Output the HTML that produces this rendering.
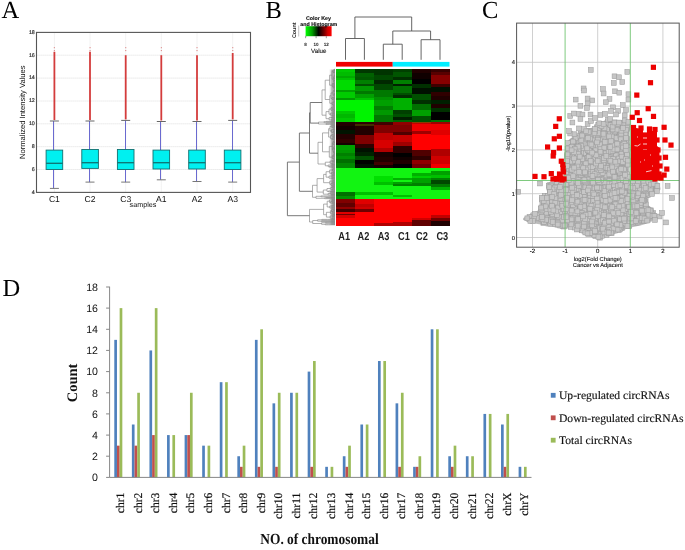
<!DOCTYPE html>
<html><head><meta charset="utf-8"><style>
html,body{margin:0;padding:0;background:#fff;width:685px;height:550px;overflow:hidden}
svg{display:block;filter:blur(0.35px)}
</style></head><body>
<svg width="685" height="550" viewBox="0 0 685 550" text-rendering="geometricPrecision">
<rect width="685" height="550" fill="#fff"/>
<text x="1.5" y="17.5" font-family='"Liberation Serif", serif' font-size="24.5">A</text>
<text x="265.5" y="17.8" font-family='"Liberation Serif", serif' font-size="24.5">B</text>
<text x="482" y="17.8" font-family='"Liberation Serif", serif' font-size="24.5">C</text>
<text x="2.5" y="295.5" font-family='"Liberation Serif", serif' font-size="24.5">D</text>
<line x1="36.5" x2="250.5" y1="169.5" y2="169.5" stroke="#dcdcdc" stroke-width="0.8" stroke-dasharray="1.2,0.8"/>
<line x1="36.5" x2="250.5" y1="146.7" y2="146.7" stroke="#dcdcdc" stroke-width="0.8" stroke-dasharray="1.2,0.8"/>
<line x1="36.5" x2="250.5" y1="123.8" y2="123.8" stroke="#dcdcdc" stroke-width="0.8" stroke-dasharray="1.2,0.8"/>
<line x1="36.5" x2="250.5" y1="101.0" y2="101.0" stroke="#dcdcdc" stroke-width="0.8" stroke-dasharray="1.2,0.8"/>
<line x1="36.5" x2="250.5" y1="78.1" y2="78.1" stroke="#dcdcdc" stroke-width="0.8" stroke-dasharray="1.2,0.8"/>
<line x1="36.5" x2="250.5" y1="55.2" y2="55.2" stroke="#dcdcdc" stroke-width="0.8" stroke-dasharray="1.2,0.8"/>
<line x1="54.4" x2="54.4" y1="32.4" y2="192.4" stroke="#e4e4e4" stroke-width="0.8" stroke-dasharray="1.2,0.8"/>
<line x1="90.0" x2="90.0" y1="32.4" y2="192.4" stroke="#e4e4e4" stroke-width="0.8" stroke-dasharray="1.2,0.8"/>
<line x1="125.7" x2="125.7" y1="32.4" y2="192.4" stroke="#e4e4e4" stroke-width="0.8" stroke-dasharray="1.2,0.8"/>
<line x1="161.3" x2="161.3" y1="32.4" y2="192.4" stroke="#e4e4e4" stroke-width="0.8" stroke-dasharray="1.2,0.8"/>
<line x1="197.0" x2="197.0" y1="32.4" y2="192.4" stroke="#e4e4e4" stroke-width="0.8" stroke-dasharray="1.2,0.8"/>
<line x1="232.7" x2="232.7" y1="32.4" y2="192.4" stroke="#e4e4e4" stroke-width="0.8" stroke-dasharray="1.2,0.8"/>
<line x1="53.5" x2="53.5" y1="121.0" y2="150.1" stroke="#6a6ad0" stroke-width="1"/>
<line x1="53.5" x2="53.5" y1="169.5" y2="188.4" stroke="#6a6ad0" stroke-width="1"/>
<line x1="49.9" x2="58.9" y1="121.0" y2="121.0" stroke="#666" stroke-width="1"/>
<line x1="49.9" x2="58.9" y1="188.4" y2="188.4" stroke="#777" stroke-width="1"/>
<rect x="46.1" y="150.1" width="16.6" height="19.4" fill="#00f0f0" stroke="#127070" stroke-width="0.9"/>
<line x1="46.1" x2="62.7" y1="163.3" y2="163.3" stroke="#0e7070" stroke-width="1.3"/>
<line x1="54.4" x2="54.4" y1="51.8" y2="120.0" stroke="#d43c3c" stroke-width="1.8"/>
<rect x="53.8" y="50.1" width="1.2" height="1" fill="#d88"/>
<rect x="53.8" y="47.2" width="1.2" height="1" fill="#d88"/>
<line x1="89.5" x2="89.5" y1="121.0" y2="149.5" stroke="#6a6ad0" stroke-width="1"/>
<line x1="89.5" x2="89.5" y1="168.4" y2="182.1" stroke="#6a6ad0" stroke-width="1"/>
<line x1="85.5" x2="94.5" y1="121.0" y2="121.0" stroke="#666" stroke-width="1"/>
<line x1="85.5" x2="94.5" y1="182.1" y2="182.1" stroke="#777" stroke-width="1"/>
<rect x="81.8" y="149.5" width="16.6" height="18.9" fill="#00f0f0" stroke="#127070" stroke-width="0.9"/>
<line x1="81.8" x2="98.3" y1="162.7" y2="162.7" stroke="#0e7070" stroke-width="1.3"/>
<line x1="90.0" x2="90.0" y1="51.8" y2="120.0" stroke="#d43c3c" stroke-width="1.8"/>
<rect x="89.5" y="50.1" width="1.2" height="1" fill="#d88"/>
<rect x="89.5" y="47.2" width="1.2" height="1" fill="#d88"/>
<line x1="125.5" x2="125.5" y1="120.4" y2="149.5" stroke="#6a6ad0" stroke-width="1"/>
<line x1="125.5" x2="125.5" y1="169.5" y2="182.1" stroke="#6a6ad0" stroke-width="1"/>
<line x1="121.2" x2="130.2" y1="120.4" y2="120.4" stroke="#666" stroke-width="1"/>
<line x1="121.2" x2="130.2" y1="182.1" y2="182.1" stroke="#777" stroke-width="1"/>
<rect x="117.4" y="149.5" width="16.6" height="20.0" fill="#00f0f0" stroke="#127070" stroke-width="0.9"/>
<line x1="117.4" x2="134.0" y1="162.7" y2="162.7" stroke="#0e7070" stroke-width="1.3"/>
<line x1="125.7" x2="125.7" y1="55.2" y2="119.4" stroke="#d43c3c" stroke-width="1.8"/>
<rect x="125.1" y="50.1" width="1.2" height="1" fill="#d88"/>
<rect x="125.1" y="47.2" width="1.2" height="1" fill="#d88"/>
<line x1="160.5" x2="160.5" y1="121.5" y2="150.1" stroke="#6a6ad0" stroke-width="1"/>
<line x1="160.5" x2="160.5" y1="169.0" y2="179.8" stroke="#6a6ad0" stroke-width="1"/>
<line x1="156.8" x2="165.8" y1="121.5" y2="121.5" stroke="#666" stroke-width="1"/>
<line x1="156.8" x2="165.8" y1="179.8" y2="179.8" stroke="#777" stroke-width="1"/>
<rect x="153.0" y="150.1" width="16.6" height="18.9" fill="#00f0f0" stroke="#127070" stroke-width="0.9"/>
<line x1="153.0" x2="169.7" y1="162.7" y2="162.7" stroke="#0e7070" stroke-width="1.3"/>
<line x1="161.3" x2="161.3" y1="55.2" y2="120.5" stroke="#d43c3c" stroke-width="1.8"/>
<rect x="160.8" y="50.1" width="1.2" height="1" fill="#d88"/>
<rect x="160.8" y="47.2" width="1.2" height="1" fill="#d88"/>
<line x1="196.5" x2="196.5" y1="121.5" y2="150.1" stroke="#6a6ad0" stroke-width="1"/>
<line x1="196.5" x2="196.5" y1="169.0" y2="181.5" stroke="#6a6ad0" stroke-width="1"/>
<line x1="192.5" x2="201.5" y1="121.5" y2="121.5" stroke="#666" stroke-width="1"/>
<line x1="192.5" x2="201.5" y1="181.5" y2="181.5" stroke="#777" stroke-width="1"/>
<rect x="188.7" y="150.1" width="16.6" height="18.9" fill="#00f0f0" stroke="#127070" stroke-width="0.9"/>
<line x1="188.7" x2="205.3" y1="162.7" y2="162.7" stroke="#0e7070" stroke-width="1.3"/>
<line x1="197.0" x2="197.0" y1="55.2" y2="120.5" stroke="#d43c3c" stroke-width="1.8"/>
<rect x="196.4" y="50.1" width="1.2" height="1" fill="#d88"/>
<rect x="196.4" y="47.2" width="1.2" height="1" fill="#d88"/>
<line x1="232.5" x2="232.5" y1="120.4" y2="150.1" stroke="#6a6ad0" stroke-width="1"/>
<line x1="232.5" x2="232.5" y1="169.5" y2="182.1" stroke="#6a6ad0" stroke-width="1"/>
<line x1="228.2" x2="237.2" y1="120.4" y2="120.4" stroke="#666" stroke-width="1"/>
<line x1="228.2" x2="237.2" y1="182.1" y2="182.1" stroke="#777" stroke-width="1"/>
<rect x="224.3" y="150.1" width="16.6" height="19.4" fill="#00f0f0" stroke="#127070" stroke-width="0.9"/>
<line x1="224.3" x2="241.0" y1="162.7" y2="162.7" stroke="#0e7070" stroke-width="1.3"/>
<line x1="232.7" x2="232.7" y1="53.0" y2="119.4" stroke="#d43c3c" stroke-width="1.8"/>
<rect x="232.1" y="50.1" width="1.2" height="1" fill="#d88"/>
<rect x="232.1" y="47.2" width="1.2" height="1" fill="#d88"/>
<rect x="36.5" y="32.4" width="214.0" height="160.0" fill="none" stroke="#555" stroke-width="1.1"/>
<text x="34.8" y="193.7" font-family='"Liberation Sans", sans-serif' font-size="5.3" text-anchor="end" fill="#333" stroke="#333" stroke-width="0.2">4</text>
<text x="34.8" y="170.8" font-family='"Liberation Sans", sans-serif' font-size="5.3" text-anchor="end" fill="#333" stroke="#333" stroke-width="0.2">6</text>
<text x="34.8" y="148.0" font-family='"Liberation Sans", sans-serif' font-size="5.3" text-anchor="end" fill="#333" stroke="#333" stroke-width="0.2">8</text>
<text x="34.8" y="125.1" font-family='"Liberation Sans", sans-serif' font-size="5.3" text-anchor="end" fill="#333" stroke="#333" stroke-width="0.2">10</text>
<text x="34.8" y="102.3" font-family='"Liberation Sans", sans-serif' font-size="5.3" text-anchor="end" fill="#333" stroke="#333" stroke-width="0.2">12</text>
<text x="34.8" y="79.4" font-family='"Liberation Sans", sans-serif' font-size="5.3" text-anchor="end" fill="#333" stroke="#333" stroke-width="0.2">14</text>
<text x="34.8" y="56.5" font-family='"Liberation Sans", sans-serif' font-size="5.3" text-anchor="end" fill="#333" stroke="#333" stroke-width="0.2">16</text>
<text x="34.8" y="33.7" font-family='"Liberation Sans", sans-serif' font-size="5.3" text-anchor="end" fill="#333" stroke="#333" stroke-width="0.2">18</text>
<text x="54.4" y="202" font-family='"Liberation Sans", sans-serif' font-size="8.6" text-anchor="middle" fill="#111">C1</text>
<text x="90.0" y="202" font-family='"Liberation Sans", sans-serif' font-size="8.6" text-anchor="middle" fill="#111">C2</text>
<text x="125.7" y="202" font-family='"Liberation Sans", sans-serif' font-size="8.6" text-anchor="middle" fill="#111">C3</text>
<text x="161.3" y="202" font-family='"Liberation Sans", sans-serif' font-size="8.6" text-anchor="middle" fill="#111">A1</text>
<text x="197.0" y="202" font-family='"Liberation Sans", sans-serif' font-size="8.6" text-anchor="middle" fill="#111">A2</text>
<text x="232.7" y="202" font-family='"Liberation Sans", sans-serif' font-size="8.6" text-anchor="middle" fill="#111">A3</text>
<text x="143" y="207.3" font-family='"Liberation Sans", sans-serif' font-size="7.2" text-anchor="middle" fill="#111">samples</text>
<text transform="translate(24.8,112.2) rotate(-90)" font-family='"Liberation Sans", sans-serif' font-size="7.6" text-anchor="middle" fill="#111">Normalized Intensity Values</text>
<g shape-rendering="crispEdges">
<rect x="336.00" y="69" width="19.22" height="3.30" fill="#00c800"/>
<rect x="336.00" y="72" width="19.22" height="4.30" fill="#00bc00"/>
<rect x="336.00" y="76" width="19.22" height="2.30" fill="#00a800"/>
<rect x="336.00" y="78" width="19.22" height="2.30" fill="#00c000"/>
<rect x="336.00" y="80" width="19.22" height="10.30" fill="#00dc00"/>
<rect x="336.00" y="90" width="19.22" height="2.30" fill="#00a000"/>
<rect x="336.00" y="92" width="19.22" height="6.30" fill="#00cc00"/>
<rect x="336.00" y="98" width="19.22" height="2.30" fill="#009800"/>
<rect x="336.00" y="100" width="19.22" height="11.30" fill="#00f400"/>
<rect x="336.00" y="111" width="19.22" height="3.30" fill="#00c800"/>
<rect x="336.00" y="114" width="19.22" height="4.30" fill="#00b800"/>
<rect x="336.00" y="118" width="19.22" height="4.30" fill="#00c800"/>
<rect x="336.00" y="122" width="19.22" height="4.30" fill="#220000"/>
<rect x="336.00" y="126" width="19.22" height="4.30" fill="#120000"/>
<rect x="336.00" y="130" width="19.22" height="4.30" fill="#001400"/>
<rect x="336.00" y="134" width="19.22" height="5.30" fill="#240000"/>
<rect x="336.00" y="139" width="19.22" height="4.30" fill="#300000"/>
<rect x="336.00" y="143" width="19.22" height="2.30" fill="#140000"/>
<rect x="336.00" y="145" width="19.22" height="5.30" fill="#00a000"/>
<rect x="336.00" y="150" width="19.22" height="3.30" fill="#009800"/>
<rect x="336.00" y="153" width="19.22" height="3.30" fill="#008000"/>
<rect x="336.00" y="156" width="19.22" height="3.30" fill="#009000"/>
<rect x="336.00" y="159" width="19.22" height="4.30" fill="#007000"/>
<rect x="336.00" y="163" width="19.22" height="5.30" fill="#008800"/>
<rect x="336.00" y="168" width="19.22" height="24.30" fill="#12f412"/>
<rect x="336.00" y="192" width="19.22" height="4.30" fill="#007000"/>
<rect x="336.00" y="196" width="19.22" height="3.30" fill="#009000"/>
<rect x="336.00" y="199" width="19.22" height="4.30" fill="#800000"/>
<rect x="336.00" y="203" width="19.22" height="4.30" fill="#600000"/>
<rect x="336.00" y="207" width="19.22" height="2.30" fill="#900000"/>
<rect x="336.00" y="209" width="19.22" height="3.30" fill="#400000"/>
<rect x="336.00" y="212" width="19.22" height="2.30" fill="#e00000"/>
<rect x="336.00" y="214" width="19.22" height="1.30" fill="#700000"/>
<rect x="336.00" y="215" width="19.22" height="3.30" fill="#d80000"/>
<rect x="336.00" y="218" width="19.22" height="7.60" fill="#ff0000"/>
<rect x="354.92" y="69" width="19.22" height="4.30" fill="#003800"/>
<rect x="354.92" y="73" width="19.22" height="4.30" fill="#006000"/>
<rect x="354.92" y="77" width="19.22" height="3.30" fill="#005800"/>
<rect x="354.92" y="80" width="19.22" height="4.30" fill="#008000"/>
<rect x="354.92" y="84" width="19.22" height="2.30" fill="#005000"/>
<rect x="354.92" y="86" width="19.22" height="5.30" fill="#009800"/>
<rect x="354.92" y="91" width="19.22" height="3.30" fill="#007800"/>
<rect x="354.92" y="94" width="19.22" height="4.30" fill="#00a000"/>
<rect x="354.92" y="98" width="19.22" height="2.30" fill="#00c000"/>
<rect x="354.92" y="100" width="19.22" height="22.30" fill="#00f400"/>
<rect x="354.92" y="122" width="19.22" height="2.30" fill="#300000"/>
<rect x="354.92" y="124" width="19.22" height="2.30" fill="#403000"/>
<rect x="354.92" y="126" width="19.22" height="9.30" fill="#220000"/>
<rect x="354.92" y="135" width="19.22" height="9.30" fill="#800000"/>
<rect x="354.92" y="144" width="19.22" height="4.30" fill="#300000"/>
<rect x="354.92" y="148" width="19.22" height="4.30" fill="#001200"/>
<rect x="354.92" y="152" width="19.22" height="4.30" fill="#002200"/>
<rect x="354.92" y="156" width="19.22" height="4.30" fill="#005000"/>
<rect x="354.92" y="160" width="19.22" height="4.30" fill="#000000"/>
<rect x="354.92" y="164" width="19.22" height="4.30" fill="#001200"/>
<rect x="354.92" y="168" width="19.22" height="24.30" fill="#12f412"/>
<rect x="354.92" y="192" width="19.22" height="3.30" fill="#00c000"/>
<rect x="354.92" y="195" width="19.22" height="4.30" fill="#12f412"/>
<rect x="354.92" y="199" width="19.22" height="5.30" fill="#e00000"/>
<rect x="354.92" y="204" width="19.22" height="3.30" fill="#c00000"/>
<rect x="354.92" y="207" width="19.22" height="2.30" fill="#d00000"/>
<rect x="354.92" y="209" width="19.22" height="3.30" fill="#700000"/>
<rect x="354.92" y="212" width="19.22" height="13.60" fill="#ff0000"/>
<rect x="373.83" y="69" width="19.22" height="6.30" fill="#003400"/>
<rect x="373.83" y="75" width="19.22" height="5.30" fill="#004800"/>
<rect x="373.83" y="80" width="19.22" height="4.30" fill="#002800"/>
<rect x="373.83" y="84" width="19.22" height="6.30" fill="#004800"/>
<rect x="373.83" y="90" width="19.22" height="7.30" fill="#007800"/>
<rect x="373.83" y="97" width="19.22" height="3.30" fill="#009000"/>
<rect x="373.83" y="100" width="19.22" height="6.30" fill="#00a000"/>
<rect x="373.83" y="106" width="19.22" height="4.30" fill="#008000"/>
<rect x="373.83" y="110" width="19.22" height="5.30" fill="#009800"/>
<rect x="373.83" y="115" width="19.22" height="7.30" fill="#007800"/>
<rect x="373.83" y="122" width="19.22" height="3.30" fill="#400000"/>
<rect x="373.83" y="125" width="19.22" height="8.30" fill="#800000"/>
<rect x="373.83" y="133" width="19.22" height="7.30" fill="#c00000"/>
<rect x="373.83" y="140" width="19.22" height="8.30" fill="#d80000"/>
<rect x="373.83" y="148" width="19.22" height="4.30" fill="#b00000"/>
<rect x="373.83" y="152" width="19.22" height="5.30" fill="#180000"/>
<rect x="373.83" y="157" width="19.22" height="5.30" fill="#220000"/>
<rect x="373.83" y="162" width="19.22" height="3.30" fill="#400000"/>
<rect x="373.83" y="165" width="19.22" height="3.30" fill="#140000"/>
<rect x="373.83" y="168" width="19.22" height="8.30" fill="#12f412"/>
<rect x="373.83" y="176" width="19.22" height="6.30" fill="#00e000"/>
<rect x="373.83" y="182" width="19.22" height="3.30" fill="#00c000"/>
<rect x="373.83" y="185" width="19.22" height="7.30" fill="#12f412"/>
<rect x="373.83" y="192" width="19.22" height="3.30" fill="#00c000"/>
<rect x="373.83" y="195" width="19.22" height="4.30" fill="#12f412"/>
<rect x="373.83" y="199" width="19.22" height="24.30" fill="#ff0000"/>
<rect x="373.83" y="223" width="19.22" height="2.60" fill="#b00000"/>
<rect x="392.75" y="69" width="19.22" height="3.30" fill="#004000"/>
<rect x="392.75" y="72" width="19.22" height="5.30" fill="#005500"/>
<rect x="392.75" y="77" width="19.22" height="3.30" fill="#003000"/>
<rect x="392.75" y="80" width="19.22" height="4.30" fill="#008000"/>
<rect x="392.75" y="84" width="19.22" height="2.30" fill="#002000"/>
<rect x="392.75" y="86" width="19.22" height="7.30" fill="#007000"/>
<rect x="392.75" y="93" width="19.22" height="2.30" fill="#005000"/>
<rect x="392.75" y="95" width="19.22" height="3.30" fill="#003000"/>
<rect x="392.75" y="98" width="19.22" height="12.30" fill="#00b000"/>
<rect x="392.75" y="110" width="19.22" height="4.30" fill="#004000"/>
<rect x="392.75" y="114" width="19.22" height="3.30" fill="#005000"/>
<rect x="392.75" y="117" width="19.22" height="3.30" fill="#002000"/>
<rect x="392.75" y="120" width="19.22" height="2.30" fill="#006000"/>
<rect x="392.75" y="122" width="19.22" height="3.30" fill="#900000"/>
<rect x="392.75" y="125" width="19.22" height="7.30" fill="#800000"/>
<rect x="392.75" y="132" width="19.22" height="3.30" fill="#500000"/>
<rect x="392.75" y="135" width="19.22" height="7.30" fill="#c80000"/>
<rect x="392.75" y="142" width="19.22" height="4.30" fill="#a00000"/>
<rect x="392.75" y="146" width="19.22" height="3.30" fill="#300000"/>
<rect x="392.75" y="149" width="19.22" height="4.30" fill="#300000"/>
<rect x="392.75" y="153" width="19.22" height="4.30" fill="#000000"/>
<rect x="392.75" y="157" width="19.22" height="3.30" fill="#100000"/>
<rect x="392.75" y="160" width="19.22" height="4.30" fill="#200000"/>
<rect x="392.75" y="164" width="19.22" height="4.30" fill="#000000"/>
<rect x="392.75" y="168" width="19.22" height="10.30" fill="#12f412"/>
<rect x="392.75" y="178" width="19.22" height="2.30" fill="#00b000"/>
<rect x="392.75" y="180" width="19.22" height="2.30" fill="#12f412"/>
<rect x="392.75" y="182" width="19.22" height="2.30" fill="#00a000"/>
<rect x="392.75" y="184" width="19.22" height="2.30" fill="#008000"/>
<rect x="392.75" y="186" width="19.22" height="9.30" fill="#12f412"/>
<rect x="392.75" y="195" width="19.22" height="2.30" fill="#00c000"/>
<rect x="392.75" y="197" width="19.22" height="2.30" fill="#12f412"/>
<rect x="392.75" y="199" width="19.22" height="23.30" fill="#ff0000"/>
<rect x="392.75" y="222" width="19.22" height="3.60" fill="#b00000"/>
<rect x="411.67" y="69" width="19.22" height="4.30" fill="#200000"/>
<rect x="411.67" y="73" width="19.22" height="6.30" fill="#100000"/>
<rect x="411.67" y="79" width="19.22" height="5.30" fill="#000000"/>
<rect x="411.67" y="84" width="19.22" height="4.30" fill="#003000"/>
<rect x="411.67" y="88" width="19.22" height="6.30" fill="#001000"/>
<rect x="411.67" y="94" width="19.22" height="6.30" fill="#005000"/>
<rect x="411.67" y="100" width="19.22" height="4.30" fill="#003000"/>
<rect x="411.67" y="104" width="19.22" height="6.30" fill="#007000"/>
<rect x="411.67" y="110" width="19.22" height="6.30" fill="#00a000"/>
<rect x="411.67" y="116" width="19.22" height="6.30" fill="#005000"/>
<rect x="411.67" y="122" width="19.22" height="1.30" fill="#903800"/>
<rect x="411.67" y="123" width="19.22" height="1.30" fill="#c00000"/>
<rect x="411.67" y="124" width="19.22" height="7.30" fill="#f00000"/>
<rect x="411.67" y="131" width="19.22" height="3.30" fill="#a00000"/>
<rect x="411.67" y="134" width="19.22" height="16.30" fill="#ff0000"/>
<rect x="411.67" y="150" width="19.22" height="6.30" fill="#500000"/>
<rect x="411.67" y="156" width="19.22" height="4.30" fill="#300000"/>
<rect x="411.67" y="160" width="19.22" height="4.30" fill="#900000"/>
<rect x="411.67" y="164" width="19.22" height="4.30" fill="#700000"/>
<rect x="411.67" y="168" width="19.22" height="5.30" fill="#12f412"/>
<rect x="411.67" y="173" width="19.22" height="3.30" fill="#00b000"/>
<rect x="411.67" y="176" width="19.22" height="2.30" fill="#00d000"/>
<rect x="411.67" y="178" width="19.22" height="5.30" fill="#00a000"/>
<rect x="411.67" y="183" width="19.22" height="3.30" fill="#008000"/>
<rect x="411.67" y="186" width="19.22" height="13.30" fill="#12f412"/>
<rect x="411.67" y="199" width="19.22" height="19.30" fill="#ff0000"/>
<rect x="411.67" y="218" width="19.22" height="2.30" fill="#d00000"/>
<rect x="411.67" y="220" width="19.22" height="5.60" fill="#600000"/>
<rect x="430.58" y="69" width="19.22" height="3.30" fill="#380000"/>
<rect x="430.58" y="72" width="19.22" height="3.30" fill="#580000"/>
<rect x="430.58" y="75" width="19.22" height="9.30" fill="#880000"/>
<rect x="430.58" y="84" width="19.22" height="3.30" fill="#400000"/>
<rect x="430.58" y="87" width="19.22" height="5.30" fill="#001000"/>
<rect x="430.58" y="92" width="19.22" height="4.30" fill="#300000"/>
<rect x="430.58" y="96" width="19.22" height="4.30" fill="#200000"/>
<rect x="430.58" y="100" width="19.22" height="4.30" fill="#002000"/>
<rect x="430.58" y="104" width="19.22" height="4.30" fill="#200000"/>
<rect x="430.58" y="108" width="19.22" height="4.30" fill="#003000"/>
<rect x="430.58" y="112" width="19.22" height="8.30" fill="#000000"/>
<rect x="430.58" y="120" width="19.22" height="2.30" fill="#007000"/>
<rect x="430.58" y="122" width="19.22" height="2.30" fill="#a00000"/>
<rect x="430.58" y="124" width="19.22" height="6.30" fill="#f00000"/>
<rect x="430.58" y="130" width="19.22" height="5.30" fill="#e00000"/>
<rect x="430.58" y="135" width="19.22" height="14.30" fill="#ff0000"/>
<rect x="430.58" y="149" width="19.22" height="7.30" fill="#b00000"/>
<rect x="430.58" y="156" width="19.22" height="8.30" fill="#d00000"/>
<rect x="430.58" y="164" width="19.22" height="4.30" fill="#f00000"/>
<rect x="430.58" y="168" width="19.22" height="3.30" fill="#12f412"/>
<rect x="430.58" y="171" width="19.22" height="4.30" fill="#00a000"/>
<rect x="430.58" y="175" width="19.22" height="3.30" fill="#00c000"/>
<rect x="430.58" y="178" width="19.22" height="2.30" fill="#008000"/>
<rect x="430.58" y="180" width="19.22" height="4.30" fill="#004800"/>
<rect x="430.58" y="184" width="19.22" height="3.30" fill="#007800"/>
<rect x="430.58" y="187" width="19.22" height="3.30" fill="#00b000"/>
<rect x="430.58" y="190" width="19.22" height="9.30" fill="#12f412"/>
<rect x="430.58" y="199" width="19.22" height="16.30" fill="#ff0000"/>
<rect x="430.58" y="215" width="19.22" height="3.30" fill="#c00000"/>
<rect x="430.58" y="218" width="19.22" height="3.30" fill="#700000"/>
<rect x="430.58" y="221" width="19.22" height="4.60" fill="#200000"/>
</g>
<rect x="336.0" y="61.9" width="56.75" height="4.7" fill="#f00000"/>
<rect x="392.75" y="61.9" width="56.75" height="4.7" fill="#00eeff"/>
<text transform="translate(344.2,240.1) scale(0.8,1)" font-family='"Liberation Sans", sans-serif' font-size="11.5" font-weight="bold" text-anchor="middle" fill="#222">A1</text>
<text transform="translate(363.4,240.1) scale(0.8,1)" font-family='"Liberation Sans", sans-serif' font-size="11.5" font-weight="bold" text-anchor="middle" fill="#222">A2</text>
<text transform="translate(383.6,240.1) scale(0.8,1)" font-family='"Liberation Sans", sans-serif' font-size="11.5" font-weight="bold" text-anchor="middle" fill="#222">A3</text>
<text transform="translate(403.9,240.1) scale(0.8,1)" font-family='"Liberation Sans", sans-serif' font-size="11.5" font-weight="bold" text-anchor="middle" fill="#222">C1</text>
<text transform="translate(421.9,240.1) scale(0.8,1)" font-family='"Liberation Sans", sans-serif' font-size="11.5" font-weight="bold" text-anchor="middle" fill="#222">C2</text>
<text transform="translate(442.3,240.1) scale(0.8,1)" font-family='"Liberation Sans", sans-serif' font-size="11.5" font-weight="bold" text-anchor="middle" fill="#222">C3</text>
<path d="M345.5,59.8V38.5H364.4V59.8" stroke="#555" stroke-width="0.9" fill="none"/>
<path d="M383.3,59.8V44.2H402.2V59.8" stroke="#555" stroke-width="0.9" fill="none"/>
<path d="M421.1,59.8V39.7H440.0V59.8" stroke="#555" stroke-width="0.9" fill="none"/>
<path d="M392.8,44.2V31.0H430.6V39.7" stroke="#555" stroke-width="0.9" fill="none"/>
<path d="M354.9,38.5V17.0H411.7V31.0" stroke="#555" stroke-width="0.9" fill="none"/>
<defs><linearGradient id="ck" x1="0" x2="1" y1="0" y2="0"><stop offset="0" stop-color="#00ff00"/><stop offset="0.25" stop-color="#00a000"/><stop offset="0.5" stop-color="#000000"/><stop offset="0.72" stop-color="#7a0000"/><stop offset="0.85" stop-color="#d00000"/><stop offset="1" stop-color="#ff0000"/></linearGradient></defs>
<rect x="305.6" y="26.2" width="26" height="10" fill="url(#ck)"/>
<path d="M305.6,26.2 h1 M305.6,36.2h1" stroke="#888" stroke-width="0.5"/>
<line x1="305.6" x2="305.6" y1="36.2" y2="38.2" stroke="#333" stroke-width="0.5"/>
<line x1="316.1" x2="316.1" y1="36.2" y2="38.2" stroke="#333" stroke-width="0.5"/>
<line x1="326.3" x2="326.3" y1="36.2" y2="38.2" stroke="#333" stroke-width="0.5"/>
<text x="318.4" y="20" font-family='"Liberation Sans", sans-serif' font-size="5.3" font-weight="bold" text-anchor="middle" fill="#111" stroke="#111" stroke-width="0.12">Color Key</text>
<text x="318.8" y="26.2" font-family='"Liberation Sans", sans-serif' font-size="5.3" font-weight="bold" text-anchor="middle" fill="#111" stroke="#111" stroke-width="0.12">and Histogram</text>
<text x="305.6" y="45.5" font-family='"Liberation Sans", sans-serif' font-size="4.6" font-weight="bold" text-anchor="middle" fill="#222">8</text>
<text x="316.1" y="45.5" font-family='"Liberation Sans", sans-serif' font-size="4.6" font-weight="bold" text-anchor="middle" fill="#222">10</text>
<text x="326.3" y="45.5" font-family='"Liberation Sans", sans-serif' font-size="4.6" font-weight="bold" text-anchor="middle" fill="#222">12</text>
<text x="318.8" y="53.2" font-family='"Liberation Sans", sans-serif' font-size="6.2" text-anchor="middle" fill="#111" stroke="#111" stroke-width="0.1">Value</text>
<text transform="translate(296.3,30.3) rotate(-90)" font-family='"Liberation Sans", sans-serif' font-size="5.4" font-weight="bold" text-anchor="middle" fill="#222">Count</text>
<path d="M298.7,25.5v11" stroke="#666" stroke-width="0.4"/>
<defs><linearGradient id="lf" x1="0" x2="1"><stop offset="0" stop-color="#fff" stop-opacity="0"/><stop offset="0.5" stop-color="#b4b4b4"/><stop offset="1" stop-color="#a8a8a8"/></linearGradient></defs>
<rect x="328.5" y="69.5" width="6.5" height="155.5" fill="url(#lf)"/>
<path d="M334.4,69.3L335.0,69.3M334.4,69.9L335.0,69.9M334.3,69.3L334.3,69.9M334.3,69.3L334.4,69.3M334.3,69.9L334.4,69.9M334.7,70.4L335.0,70.4M334.7,71.0L335.0,71.0M334.4,70.4L334.4,71.0M334.4,70.4L334.7,70.4M334.4,71.0L334.7,71.0M334.0,69.6L334.0,70.7M334.0,69.6L334.3,69.6M334.0,70.7L334.4,70.7M334.1,71.7L335.0,71.7M334.0,72.4L335.0,72.4M333.9,73.0L335.0,73.0M333.7,72.4L333.7,73.0M333.7,72.4L334.0,72.4M333.7,73.0L333.9,73.0M333.4,71.7L333.4,72.7M333.4,71.7L334.1,71.7M333.4,72.7L333.7,72.7M333.0,70.2L333.0,72.2M333.0,70.2L334.0,70.2M333.0,72.2L333.4,72.2M334.7,74.7L335.0,74.7M334.7,76.9L335.0,76.9M334.5,74.7L334.5,76.9M334.5,74.7L334.7,74.7M334.5,76.9L334.7,76.9M334.6,77.9L335.0,77.9M334.5,78.8L335.0,78.8M334.2,77.9L334.2,78.8M334.2,77.9L334.6,77.9M334.2,78.8L334.5,78.8M333.9,75.8L333.9,78.4M333.9,75.8L334.5,75.8M333.9,78.4L334.2,78.4M334.6,79.9L335.0,79.9M334.6,81.1L335.0,81.1M334.5,79.9L334.5,81.1M334.5,79.9L334.6,79.9M334.5,81.1L334.6,81.1M334.2,82.2L335.0,82.2M333.9,80.5L333.9,82.2M333.9,80.5L334.5,80.5M333.9,82.2L334.2,82.2M333.6,77.1L333.6,81.4M333.6,77.1L333.9,77.1M333.6,81.4L333.9,81.4M332.0,71.2L332.0,79.2M332.0,71.2L333.0,71.2M332.0,79.2L333.6,79.2M333.9,83.1L335.0,83.1M334.3,83.7L335.0,83.7M334.1,84.5L335.0,84.5M333.6,83.7L333.6,84.5M333.6,83.7L334.3,83.7M333.6,84.5L334.1,84.5M333.1,83.1L333.1,84.1M333.1,83.1L333.9,83.1M333.1,84.1L333.6,84.1M334.5,85.2L335.0,85.2M334.6,85.9L335.0,85.9M334.3,86.5L335.0,86.5M334.1,85.9L334.1,86.5M334.1,85.9L334.6,85.9M334.1,86.5L334.3,86.5M334.0,85.2L334.0,86.2M334.0,85.2L334.5,85.2M334.0,86.2L334.1,86.2M334.5,87.0L335.0,87.0M334.5,87.8L335.0,87.8M334.4,87.0L334.4,87.8M334.4,87.0L334.5,87.0M334.4,87.8L334.5,87.8M334.4,88.8L335.0,88.8M334.1,87.4L334.1,88.8M334.1,87.4L334.4,87.4M334.1,88.8L334.4,88.8M333.4,85.7L333.4,88.1M333.4,85.7L334.0,85.7M333.4,88.1L334.1,88.1M332.4,83.6L332.4,86.9M332.4,83.6L333.1,83.6M332.4,86.9L333.4,86.9M329.6,75.2L329.6,85.2M329.6,75.2L332.0,75.2M329.6,85.2L332.4,85.2M334.4,89.7L335.0,89.7M334.7,90.3L335.0,90.3M334.3,89.7L334.3,90.3M334.3,89.7L334.4,89.7M334.3,90.3L334.7,90.3M334.5,90.9L335.0,90.9M334.6,92.0L335.0,92.0M334.4,90.9L334.4,92.0M334.4,90.9L334.5,90.9M334.4,92.0L334.6,92.0M333.8,90.0L333.8,91.4M333.8,90.0L334.3,90.0M333.8,91.4L334.4,91.4M334.6,93.0L335.0,93.0M334.6,93.7L335.0,93.7M334.5,93.0L334.5,93.7M334.5,93.0L334.6,93.0M334.5,93.7L334.6,93.7M334.8,94.6L335.0,94.6M334.6,95.3L335.0,95.3M334.5,94.6L334.5,95.3M334.5,94.6L334.8,94.6M334.5,95.3L334.6,95.3M334.3,93.3L334.3,94.9M334.3,93.3L334.5,93.3M334.3,94.9L334.5,94.9M334.5,96.3L335.0,96.3M334.0,94.1L334.0,96.3M334.0,94.1L334.3,94.1M334.0,96.3L334.5,96.3M333.1,90.7L333.1,95.2M333.1,90.7L333.8,90.7M333.1,95.2L334.0,95.2M334.0,97.2L335.0,97.2M334.2,97.8L335.0,97.8M333.7,97.2L333.7,97.8M333.7,97.2L334.0,97.2M333.7,97.8L334.2,97.8M334.4,98.4L335.0,98.4M334.0,99.2L335.0,99.2M333.8,98.4L333.8,99.2M333.8,98.4L334.4,98.4M333.8,99.2L334.0,99.2M333.8,100.2L335.0,100.2M333.2,98.8L333.2,100.2M333.2,98.8L333.8,98.8M333.2,100.2L333.8,100.2M332.1,97.5L332.1,99.5M332.1,97.5L333.7,97.5M332.1,99.5L333.2,99.5M331.0,92.9L331.0,98.5M331.0,92.9L333.1,92.9M331.0,98.5L332.1,98.5M334.4,101.2L335.0,101.2M334.5,102.0L335.0,102.0M334.3,101.2L334.3,102.0M334.3,101.2L334.4,101.2M334.3,102.0L334.5,102.0M334.1,102.8L335.0,102.8M333.5,101.6L333.5,102.8M333.5,101.6L334.3,101.6M333.5,102.8L334.1,102.8M333.8,103.8L335.0,103.8M334.2,104.7L335.0,104.7M334.2,105.6L335.0,105.6M333.3,104.7L333.3,105.6M333.3,104.7L334.2,104.7M333.3,105.6L334.2,105.6M332.7,103.8L332.7,105.1M332.7,103.8L333.8,103.8M332.7,105.1L333.3,105.1M332.1,102.2L332.1,104.5M332.1,102.2L333.5,102.2M332.1,104.5L332.7,104.5M329.8,95.7L329.8,103.3M329.8,95.7L331.0,95.7M329.8,103.3L332.1,103.3M325.2,80.2L325.2,99.5M325.2,80.2L329.6,80.2M325.2,99.5L329.8,99.5M334.0,106.5L335.0,106.5M333.8,107.5L335.0,107.5M333.5,106.5L333.5,107.5M333.5,106.5L334.0,106.5M333.5,107.5L333.8,107.5M333.1,108.4L335.0,108.4M331.9,107.0L331.9,108.4M331.9,107.0L333.5,107.0M331.9,108.4L333.1,108.4M334.2,109.1L335.0,109.1M334.2,109.8L335.0,109.8M333.5,109.1L333.5,109.8M333.5,109.1L334.2,109.1M333.5,109.8L334.2,109.8M334.5,110.4L335.0,110.4M334.4,111.0L335.0,111.0M334.2,110.4L334.2,111.0M334.2,110.4L334.5,110.4M334.2,111.0L334.4,111.0M334.2,111.7L335.0,111.7M333.6,110.7L333.6,111.7M333.6,110.7L334.2,110.7M333.6,111.7L334.2,111.7M332.2,109.5L332.2,111.2M332.2,109.5L333.5,109.5M332.2,111.2L333.6,111.2M331.0,107.7L331.0,110.3M331.0,107.7L331.9,107.7M331.0,110.3L332.2,110.3M333.9,112.6L335.0,112.6M333.8,113.3L335.0,113.3M334.1,113.9L335.0,113.9M333.6,113.3L333.6,113.9M333.6,113.3L333.8,113.3M333.6,113.9L334.1,113.9M332.6,112.6L332.6,113.6M332.6,112.6L333.9,112.6M332.6,113.6L333.6,113.6M333.5,114.6L335.0,114.6M334.0,115.5L335.0,115.5M334.1,116.1L335.0,116.1M333.3,115.5L333.3,116.1M333.3,115.5L334.0,115.5M333.3,116.1L334.1,116.1M332.5,114.6L332.5,115.8M332.5,114.6L333.5,114.6M332.5,115.8L333.3,115.8M330.6,113.1L330.6,115.2M330.6,113.1L332.6,113.1M330.6,115.2L332.5,115.2M329.0,109.0L329.0,114.2M329.0,109.0L331.0,109.0M329.0,114.2L330.6,114.2M333.6,116.8L335.0,116.8M333.9,117.4L335.0,117.4M332.5,116.8L332.5,117.4M332.5,116.8L333.6,116.8M332.5,117.4L333.9,117.4M333.2,118.0L335.0,118.0M331.5,117.1L331.5,118.0M331.5,117.1L332.5,117.1M331.5,118.0L333.2,118.0M333.9,118.7L335.0,118.7M334.4,119.3L335.0,119.3M334.4,119.9L335.0,119.9M334.0,119.3L334.0,119.9M334.0,119.3L334.4,119.3M334.0,119.9L334.4,119.9M332.9,118.7L332.9,119.6M332.9,118.7L333.9,118.7M332.9,119.6L334.0,119.6M332.9,120.6L335.0,120.6M331.7,119.2L331.7,120.6M331.7,119.2L332.9,119.2M331.7,120.6L332.9,120.6M329.1,117.6L329.1,119.9M329.1,117.6L331.5,117.6M329.1,119.9L331.7,119.9M326.0,111.6L326.0,118.7M326.0,111.6L329.0,111.6M326.0,118.7L329.1,118.7M322.0,89.9L322.0,115.2M322.0,89.9L325.2,89.9M322.0,115.2L326.0,115.2M330.0,121.3L335.0,121.3M329.1,121.9L335.0,121.9M326.4,121.3L326.4,121.9M326.4,121.3L330.0,121.3M326.4,121.9L329.1,121.9M329.1,122.6L335.0,122.6M324.0,121.6L324.0,122.6M324.0,121.6L326.4,121.6M324.0,122.6L329.1,122.6M330.1,123.5L335.0,123.5M329.6,124.5L335.0,124.5M326.0,123.5L326.0,124.5M326.0,123.5L330.1,123.5M326.0,124.5L329.6,124.5M318.5,122.1L318.5,124.0M318.5,122.1L324.0,122.1M318.5,124.0L326.0,124.0M333.4,125.3L335.0,125.3M333.3,125.9L335.0,125.9M332.8,125.3L332.8,125.9M332.8,125.3L333.4,125.3M332.8,125.9L333.3,125.9M333.4,126.6L335.0,126.6M333.5,127.3L335.0,127.3M333.9,128.0L335.0,128.0M333.0,127.3L333.0,128.0M333.0,127.3L333.5,127.3M333.0,128.0L333.9,128.0M332.6,126.6L332.6,127.6M332.6,126.6L333.4,126.6M332.6,127.6L333.0,127.6M331.2,125.6L331.2,127.1M331.2,125.6L332.8,125.6M331.2,127.1L332.6,127.1M334.3,128.7L335.0,128.7M334.1,129.5L335.0,129.5M333.6,128.7L333.6,129.5M333.6,128.7L334.3,128.7M333.6,129.5L334.1,129.5M334.1,130.2L335.0,130.2M333.2,129.1L333.2,130.2M333.2,129.1L333.6,129.1M333.2,130.2L334.1,130.2M334.4,131.0L335.0,131.0M334.3,131.9L335.0,131.9M333.7,131.0L333.7,131.9M333.7,131.0L334.4,131.0M333.7,131.9L334.3,131.9M334.2,132.8L335.0,132.8M334.3,133.6L335.0,133.6M334.1,132.8L334.1,133.6M334.1,132.8L334.2,132.8M334.1,133.6L334.3,133.6M333.3,131.4L333.3,133.2M333.3,131.4L333.7,131.4M333.3,133.2L334.1,133.2M331.4,129.7L331.4,132.3M331.4,129.7L333.2,129.7M331.4,132.3L333.3,132.3M330.0,126.3L330.0,131.0M330.0,126.3L331.2,126.3M330.0,131.0L331.4,131.0M333.0,134.5L335.0,134.5M334.6,135.3L335.0,135.3M334.5,136.1L335.0,136.1M334.1,135.3L334.1,136.1M334.1,135.3L334.6,135.3M334.1,136.1L334.5,136.1M334.1,136.7L335.0,136.7M333.5,135.7L333.5,136.7M333.5,135.7L334.1,135.7M333.5,136.7L334.1,136.7M331.9,134.5L331.9,136.2M331.9,134.5L333.0,134.5M331.9,136.2L333.5,136.2M333.9,137.5L335.0,137.5M333.7,138.4L335.0,138.4M333.2,137.5L333.2,138.4M333.2,137.5L333.9,137.5M333.2,138.4L333.7,138.4M334.2,139.3L335.0,139.3M334.4,140.2L335.0,140.2M333.7,139.3L333.7,140.2M333.7,139.3L334.2,139.3M333.7,140.2L334.4,140.2M332.3,137.9L332.3,139.7M332.3,137.9L333.2,137.9M332.3,139.7L333.7,139.7M330.6,135.3L330.6,138.8M330.6,135.3L331.9,135.3M330.6,138.8L332.3,138.8M328.6,128.7L328.6,137.1M328.6,128.7L330.0,128.7M328.6,137.1L330.6,137.1M334.0,141.0L335.0,141.0M334.4,141.8L335.0,141.8M334.5,142.3L335.0,142.3M334.3,142.9L335.0,142.9M334.2,142.3L334.2,142.9M334.2,142.3L334.5,142.3M334.2,142.9L334.3,142.9M333.9,141.8L333.9,142.6M333.9,141.8L334.4,141.8M333.9,142.6L334.2,142.6M333.7,141.0L333.7,142.2M333.7,141.0L334.0,141.0M333.7,142.2L333.9,142.2M334.1,143.8L335.0,143.8M334.2,144.6L335.0,144.6M333.4,143.8L333.4,144.6M333.4,143.8L334.1,143.8M333.4,144.6L334.2,144.6M332.9,141.6L332.9,144.2M332.9,141.6L333.7,141.6M332.9,144.2L333.4,144.2M334.5,145.7L335.0,145.7M334.6,147.0L335.0,147.0M334.3,145.7L334.3,147.0M334.3,145.7L334.5,145.7M334.3,147.0L334.6,147.0M334.7,147.9L335.0,147.9M334.6,148.7L335.0,148.7M334.4,147.9L334.4,148.7M334.4,147.9L334.7,147.9M334.4,148.7L334.6,148.7M334.6,149.3L335.0,149.3M334.6,150.0L335.0,150.0M334.5,149.3L334.5,150.0M334.5,149.3L334.6,149.3M334.5,150.0L334.6,150.0M334.3,148.3L334.3,149.6M334.3,148.3L334.4,148.3M334.3,149.6L334.5,149.6M334.0,146.4L334.0,149.0M334.0,146.4L334.3,146.4M334.0,149.0L334.3,149.0M334.5,150.7L335.0,150.7M334.6,151.6L335.0,151.6M334.3,150.7L334.3,151.6M334.3,150.7L334.5,150.7M334.3,151.6L334.6,151.6M334.4,152.5L335.0,152.5M334.7,153.2L335.0,153.2M334.7,153.9L335.0,153.9M334.3,153.2L334.3,153.9M334.3,153.2L334.7,153.2M334.3,153.9L334.7,153.9M334.2,152.5L334.2,153.6M334.2,152.5L334.4,152.5M334.2,153.6L334.3,153.6M333.6,151.2L333.6,153.0M333.6,151.2L334.3,151.2M333.6,153.0L334.2,153.0M333.1,147.7L333.1,152.1M333.1,147.7L334.0,147.7M333.1,152.1L333.6,152.1M332.4,142.9L332.4,149.9M332.4,142.9L332.9,142.9M332.4,149.9L333.1,149.9M333.9,154.6L335.0,154.6M334.0,155.4L335.0,155.4M333.5,154.6L333.5,155.4M333.5,154.6L333.9,154.6M333.5,155.4L334.0,155.4M334.3,156.3L335.0,156.3M334.1,157.0L335.0,157.0M333.8,156.3L333.8,157.0M333.8,156.3L334.3,156.3M333.8,157.0L334.1,157.0M333.1,155.0L333.1,156.7M333.1,155.0L333.5,155.0M333.1,156.7L333.8,156.7M334.0,157.8L335.0,157.8M334.3,158.7L335.0,158.7M334.3,159.5L335.0,159.5M333.9,158.7L333.9,159.5M333.9,158.7L334.3,158.7M333.9,159.5L334.3,159.5M333.3,157.8L333.3,159.1M333.3,157.8L334.0,157.8M333.3,159.1L333.9,159.1M332.3,155.8L332.3,158.5M332.3,155.8L333.1,155.8M332.3,158.5L333.3,158.5M329.3,146.4L329.3,157.2M329.3,146.4L332.4,146.4M329.3,157.2L332.3,157.2M322.5,132.9L322.5,151.8M322.5,132.9L328.6,132.9M322.5,151.8L329.3,151.8M332.7,160.5L335.0,160.5M334.2,161.1L335.0,161.1M333.9,161.8L335.0,161.8M333.5,161.1L333.5,161.8M333.5,161.1L334.2,161.1M333.5,161.8L333.9,161.8M332.0,160.5L332.0,161.5M332.0,160.5L332.7,160.5M332.0,161.5L333.5,161.5M333.1,162.8L335.0,162.8M332.9,163.9L335.0,163.9M332.2,162.8L332.2,163.9M332.2,162.8L333.1,162.8M332.2,163.9L332.9,163.9M330.2,161.0L330.2,163.3M330.2,161.0L332.0,161.0M330.2,163.3L332.2,163.3M333.2,164.6L335.0,164.6M332.8,165.3L335.0,165.3M331.8,164.6L331.8,165.3M331.8,164.6L333.2,164.6M331.8,165.3L332.8,165.3M331.9,166.2L335.0,166.2M333.5,166.9L335.0,166.9M333.2,167.6L335.0,167.6M332.4,166.9L332.4,167.6M332.4,166.9L333.5,166.9M332.4,167.6L333.2,167.6M329.3,166.2L329.3,167.2M329.3,166.2L331.9,166.2M329.3,167.2L332.4,167.2M328.2,165.0L328.2,166.7M328.2,165.0L331.8,165.0M328.2,166.7L329.3,166.7M325.3,162.2L325.3,165.8M325.3,162.2L330.2,162.2M325.3,165.8L328.2,165.8M318.0,142.3L318.0,164.0M318.0,142.3L322.5,142.3M318.0,164.0L325.3,164.0M333.8,168.5L335.0,168.5M333.6,169.5L335.0,169.5M333.2,168.5L333.2,169.5M333.2,168.5L333.8,168.5M333.2,169.5L333.6,169.5M334.5,170.3L335.0,170.3M334.5,170.9L335.0,170.9M334.4,170.3L334.4,170.9M334.4,170.3L334.5,170.3M334.4,170.9L334.5,170.9M334.3,171.6L335.0,171.6M333.7,170.6L333.7,171.6M333.7,170.6L334.4,170.6M333.7,171.6L334.3,171.6M332.5,169.0L332.5,171.1M332.5,169.0L333.2,169.0M332.5,171.1L333.7,171.1M333.4,172.3L335.0,172.3M334.0,172.8L335.0,172.8M332.9,172.3L332.9,172.8M332.9,172.3L333.4,172.3M332.9,172.8L334.0,172.8M334.3,173.3L335.0,173.3M334.4,173.9L335.0,173.9M333.9,173.3L333.9,173.9M333.9,173.3L334.3,173.3M333.9,173.9L334.4,173.9M333.8,174.7L335.0,174.7M332.9,173.6L332.9,174.7M332.9,173.6L333.9,173.6M332.9,174.7L333.8,174.7M331.5,172.5L331.5,174.1M331.5,172.5L332.9,172.5M331.5,174.1L332.9,174.1M329.7,170.0L329.7,173.3M329.7,170.0L332.5,170.0M329.7,173.3L331.5,173.3M333.1,175.2L335.0,175.2M333.0,175.8L335.0,175.8M332.6,175.2L332.6,175.8M332.6,175.2L333.1,175.2M332.6,175.8L333.0,175.8M333.1,176.7L335.0,176.7M331.9,175.5L331.9,176.7M331.9,175.5L332.6,175.5M331.9,176.7L333.1,176.7M332.9,177.6L335.0,177.6M333.4,178.4L335.0,178.4M333.2,179.2L335.0,179.2M332.7,178.4L332.7,179.2M332.7,178.4L333.4,178.4M332.7,179.2L333.2,179.2M331.9,177.6L331.9,178.8M331.9,177.6L332.9,177.6M331.9,178.8L332.7,178.8M329.0,176.1L329.0,178.2M329.0,176.1L331.9,176.1M329.0,178.2L331.9,178.2M326.1,171.7L326.1,177.2M326.1,171.7L329.7,171.7M326.1,177.2L329.0,177.2M333.7,180.2L335.0,180.2M334.2,181.0L335.0,181.0M333.4,180.2L333.4,181.0M333.4,180.2L333.7,180.2M333.4,181.0L334.2,181.0M333.5,181.7L335.0,181.7M332.6,180.6L332.6,181.7M332.6,180.6L333.4,180.6M332.6,181.7L333.5,181.7M333.8,182.5L335.0,182.5M333.6,183.1L335.0,183.1M332.7,182.5L332.7,183.1M332.7,182.5L333.8,182.5M332.7,183.1L333.6,183.1M333.3,183.7L335.0,183.7M331.7,182.8L331.7,183.7M331.7,182.8L332.7,182.8M331.7,183.7L333.3,183.7M333.7,184.5L335.0,184.5M334.3,185.2L335.0,185.2M333.4,184.5L333.4,185.2M333.4,184.5L333.7,184.5M333.4,185.2L334.3,185.2M333.5,185.8L335.0,185.8M332.0,184.9L332.0,185.8M332.0,184.9L333.4,184.9M332.0,185.8L333.5,185.8M331.0,183.3L331.0,185.3M331.0,183.3L331.7,183.3M331.0,185.3L332.0,185.3M329.8,181.1L329.8,184.3M329.8,181.1L332.6,181.1M329.8,184.3L331.0,184.3M323.6,174.4L323.6,182.7M323.6,174.4L326.1,174.4M323.6,182.7L329.8,182.7M333.9,186.4L335.0,186.4M333.8,187.0L335.0,187.0M333.4,186.4L333.4,187.0M333.4,186.4L333.9,186.4M333.4,187.0L333.8,187.0M333.9,187.6L335.0,187.6M333.9,188.4L335.0,188.4M332.7,187.6L332.7,188.4M332.7,187.6L333.9,187.6M332.7,188.4L333.9,188.4M331.8,186.7L331.8,188.0M331.8,186.7L333.4,186.7M331.8,188.0L332.7,188.0M333.7,189.3L335.0,189.3M333.6,190.1L335.0,190.1M332.6,189.3L332.6,190.1M332.6,189.3L333.7,189.3M332.6,190.1L333.6,190.1M330.8,187.4L330.8,189.7M330.8,187.4L331.8,187.4M330.8,189.7L332.6,189.7M330.7,190.9L335.0,190.9M332.4,191.6L335.0,191.6M331.9,192.2L335.0,192.2M330.0,191.6L330.0,192.2M330.0,191.6L332.4,191.6M330.0,192.2L331.9,192.2M328.5,190.9L328.5,191.9M328.5,190.9L330.7,190.9M328.5,191.9L330.0,191.9M327.0,188.5L327.0,191.4M327.0,188.5L330.8,188.5M327.0,191.4L328.5,191.4M332.3,193.1L335.0,193.1M332.4,193.9L335.0,193.9M330.3,193.1L330.3,193.9M330.3,193.1L332.3,193.1M330.3,193.9L332.4,193.9M333.0,194.6L335.0,194.6M333.2,195.2L335.0,195.2M331.2,194.6L331.2,195.2M331.2,194.6L333.0,194.6M331.2,195.2L333.2,195.2M328.1,193.5L328.1,194.9M328.1,193.5L330.3,193.5M328.1,194.9L331.2,194.9M323.3,190.0L323.3,194.2M323.3,190.0L327.0,190.0M323.3,194.2L328.1,194.2M317.1,178.6L317.1,192.1M317.1,178.6L323.6,178.6M317.1,192.1L323.3,192.1M323.6,195.9L335.0,195.9M323.5,196.8L335.0,196.8M321.0,195.9L321.0,196.8M321.0,195.9L323.6,195.9M321.0,196.8L323.5,196.8M330.9,197.5L335.0,197.5M329.0,198.1L335.0,198.1M326.4,197.5L326.4,198.1M326.4,197.5L330.9,197.5M326.4,198.1L329.0,198.1M330.1,198.7L335.0,198.7M324.7,197.8L324.7,198.7M324.7,197.8L326.4,197.8M324.7,198.7L330.1,198.7M316.0,196.3L316.0,198.3M316.0,196.3L321.0,196.3M316.0,198.3L324.7,198.3M312.5,185.3L312.5,197.3M312.5,185.3L317.1,185.3M312.5,197.3L316.0,197.3M333.9,199.3L335.0,199.3M333.5,199.8L335.0,199.8M332.7,199.3L332.7,199.8M332.7,199.3L333.9,199.3M332.7,199.8L333.5,199.8M332.5,200.5L335.0,200.5M332.0,199.6L332.0,200.5M332.0,199.6L332.7,199.6M332.0,200.5L332.5,200.5M332.3,201.3L335.0,201.3M333.0,201.9L335.0,201.9M331.7,201.3L331.7,201.9M331.7,201.3L332.3,201.3M331.7,201.9L333.0,201.9M333.2,202.5L335.0,202.5M334.2,203.3L335.0,203.3M334.1,204.1L335.0,204.1M333.7,203.3L333.7,204.1M333.7,203.3L334.2,203.3M333.7,204.1L334.1,204.1M332.4,202.5L332.4,203.7M332.4,202.5L333.2,202.5M332.4,203.7L333.7,203.7M330.3,201.6L330.3,203.1M330.3,201.6L331.7,201.6M330.3,203.1L332.4,203.1M329.4,200.0L329.4,202.3M329.4,200.0L332.0,200.0M329.4,202.3L330.3,202.3M333.6,204.8L335.0,204.8M334.0,205.7L335.0,205.7M333.0,204.8L333.0,205.7M333.0,204.8L333.6,204.8M333.0,205.7L334.0,205.7M332.8,206.6L335.0,206.6M331.9,205.3L331.9,206.6M331.9,205.3L333.0,205.3M331.9,206.6L332.8,206.6M332.3,207.5L335.0,207.5M333.4,208.4L335.0,208.4M331.8,207.5L331.8,208.4M331.8,207.5L332.3,207.5M331.8,208.4L333.4,208.4M329.8,206.0L329.8,208.0M329.8,206.0L331.9,206.0M329.8,208.0L331.8,208.0M327.2,201.2L327.2,207.0M327.2,201.2L329.4,201.2M327.2,207.0L329.8,207.0M334.0,209.2L335.0,209.2M334.1,209.8L335.0,209.8M333.4,209.2L333.4,209.8M333.4,209.2L334.0,209.2M333.4,209.8L334.1,209.8M333.6,210.6L335.0,210.6M333.8,211.4L335.0,211.4M333.3,210.6L333.3,211.4M333.3,210.6L333.6,210.6M333.3,211.4L333.8,211.4M333.7,212.5L335.0,212.5M332.4,211.0L332.4,212.5M332.4,211.0L333.3,211.0M332.4,212.5L333.7,212.5M331.6,209.5L331.6,211.7M331.6,209.5L333.4,209.5M331.6,211.7L332.4,211.7M333.6,213.4L335.0,213.4M334.3,214.2L335.0,214.2M334.1,214.8L335.0,214.8M333.9,214.2L333.9,214.8M333.9,214.2L334.3,214.2M333.9,214.8L334.1,214.8M332.8,213.4L332.8,214.5M332.8,213.4L333.6,213.4M332.8,214.5L333.9,214.5M330.7,210.6L330.7,213.9M330.7,210.6L331.6,210.6M330.7,213.9L332.8,213.9M332.9,215.4L335.0,215.4M334.2,216.1L335.0,216.1M334.2,216.8L335.0,216.8M333.3,216.1L333.3,216.8M333.3,216.1L334.2,216.1M333.3,216.8L334.2,216.8M332.3,215.4L332.3,216.5M332.3,215.4L332.9,215.4M332.3,216.5L333.3,216.5M333.2,217.7L335.0,217.7M333.5,218.6L335.0,218.6M332.3,217.7L332.3,218.6M332.3,217.7L333.2,217.7M332.3,218.6L333.5,218.6M330.2,215.9L330.2,218.2M330.2,215.9L332.3,215.9M330.2,218.2L332.3,218.2M326.4,212.3L326.4,217.1M326.4,212.3L330.7,212.3M326.4,217.1L330.2,217.1M323.6,204.1L323.6,214.7M323.6,204.1L327.2,204.1M323.6,214.7L326.4,214.7M327.3,219.4L335.0,219.4M327.9,220.2L335.0,220.2M321.8,219.4L321.8,220.2M321.8,219.4L327.3,219.4M321.8,220.2L327.9,220.2M323.3,220.9L335.0,220.9M324.0,221.6L335.0,221.6M321.2,220.9L321.2,221.6M321.2,220.9L323.3,220.9M321.2,221.6L324.0,221.6M317.6,219.8L317.6,221.2M317.6,219.8L321.8,219.8M317.6,221.2L321.2,221.2M329.8,222.3L335.0,222.3M329.5,223.0L335.0,223.0M325.7,222.3L325.7,223.0M325.7,222.3L329.8,222.3M325.7,223.0L329.5,223.0M328.4,223.9L335.0,223.9M328.7,224.8L335.0,224.8M325.2,223.9L325.2,224.8M325.2,223.9L328.4,223.9M325.2,224.8L328.7,224.8M321.6,222.7L321.6,224.3M321.6,222.7L325.7,222.7M321.6,224.3L325.2,224.3M312.7,220.5L312.7,223.5M312.7,220.5L317.6,220.5M312.7,223.5L321.6,223.5M309.5,209.4L309.5,222.0M309.5,209.4L323.6,209.4M309.5,222.0L312.7,222.0" stroke="#858585" stroke-width="0.65" fill="none"/>
<path d="M310.2,102.5L310.2,123.1M310.2,102.5L322.0,102.5M310.2,123.1L318.5,123.1M309.5,112.8L309.5,153.2M309.5,112.8L310.2,112.8M309.5,153.2L318.0,153.2M299.4,133.0L299.4,191.3M299.4,133.0L309.5,133.0M299.4,191.3L312.5,191.3M287.4,162.1L287.4,215.7M287.4,162.1L299.4,162.1M287.4,215.7L309.5,215.7" stroke="#6a6a6a" stroke-width="0.9" fill="none"/>
<line x1="532.5" x2="532.5" y1="23.1" y2="247.2" stroke="#c4c4c4" stroke-width="0.8"/>
<line x1="597.7" x2="597.7" y1="23.1" y2="247.2" stroke="#c4c4c4" stroke-width="0.8"/>
<line x1="662.9" x2="662.9" y1="23.1" y2="247.2" stroke="#c4c4c4" stroke-width="0.8"/>
<line x1="516.6" x2="679.2" y1="237.5" y2="237.5" stroke="#c4c4c4" stroke-width="0.8"/>
<line x1="516.6" x2="679.2" y1="193.7" y2="193.7" stroke="#c4c4c4" stroke-width="0.8"/>
<line x1="516.6" x2="679.2" y1="149.9" y2="149.9" stroke="#c4c4c4" stroke-width="0.8"/>
<line x1="516.6" x2="679.2" y1="106.1" y2="106.1" stroke="#c4c4c4" stroke-width="0.8"/>
<line x1="516.6" x2="679.2" y1="62.3" y2="62.3" stroke="#c4c4c4" stroke-width="0.8"/>
<polygon points="567.5,143.0 571.0,140.0 577.0,136.0 585.0,131.0 593.0,129.0 599.0,124.0 607.0,121.5 615.0,121.5 622.0,122.0 628.0,122.0 628.0,180.0 640.0,180.5 652.0,181.0 658.0,184.0 659.0,189.0 651.0,192.0 647.0,198.0 647.0,206.0 652.0,210.0 655.0,216.0 650.0,221.0 640.0,224.0 628.0,226.5 615.0,232.0 600.0,237.8 586.0,233.5 572.0,227.5 556.0,226.0 541.0,223.0 529.0,221.0 524.5,219.0 531.0,215.0 541.0,211.0 541.0,197.0 549.0,194.0 548.0,183.5 566.0,183.5" fill="#bcbcbc" stroke="#bcbcbc" stroke-width="3" stroke-linejoin="round"/>
<g fill="#c6c6c6" stroke="#9e9e9e" stroke-width="0.55">
<rect x="605.7" y="119.4" width="4.8" height="4.8"/>
<rect x="610.3" y="131.0" width="4.8" height="4.8"/>
<rect x="572.2" y="151.7" width="4.8" height="4.8"/>
<rect x="640.0" y="197.3" width="4.8" height="4.8"/>
<rect x="622.8" y="165.5" width="4.8" height="4.8"/>
<rect x="600.4" y="169.3" width="4.8" height="4.8"/>
<rect x="567.4" y="167.0" width="4.8" height="4.8"/>
<rect x="617.6" y="195.4" width="4.8" height="4.8"/>
<rect x="565.2" y="146.7" width="4.8" height="4.8"/>
<rect x="614.0" y="140.2" width="4.8" height="4.8"/>
<rect x="584.1" y="148.2" width="4.8" height="4.8"/>
<rect x="593.0" y="136.9" width="4.8" height="4.8"/>
<rect x="640.5" y="190.6" width="4.8" height="4.8"/>
<rect x="613.7" y="145.1" width="4.8" height="4.8"/>
<rect x="586.1" y="206.9" width="4.8" height="4.8"/>
<rect x="545.9" y="221.2" width="4.8" height="4.8"/>
<rect x="604.8" y="123.1" width="4.8" height="4.8"/>
<rect x="642.6" y="199.7" width="4.8" height="4.8"/>
<rect x="568.9" y="144.4" width="4.8" height="4.8"/>
<rect x="642.0" y="200.5" width="4.8" height="4.8"/>
<rect x="553.6" y="187.8" width="4.8" height="4.8"/>
<rect x="604.0" y="147.4" width="4.8" height="4.8"/>
<rect x="616.1" y="165.9" width="4.8" height="4.8"/>
<rect x="578.1" y="167.7" width="4.8" height="4.8"/>
<rect x="610.8" y="125.0" width="4.8" height="4.8"/>
<rect x="599.2" y="145.1" width="4.8" height="4.8"/>
<rect x="584.3" y="148.6" width="4.8" height="4.8"/>
<rect x="587.6" y="229.1" width="4.8" height="4.8"/>
<rect x="582.2" y="188.9" width="4.8" height="4.8"/>
<rect x="555.3" y="206.7" width="4.8" height="4.8"/>
<rect x="565.2" y="146.7" width="4.8" height="4.8"/>
<rect x="606.9" y="129.4" width="4.8" height="4.8"/>
<rect x="572.0" y="167.1" width="4.8" height="4.8"/>
<rect x="596.9" y="176.0" width="4.8" height="4.8"/>
<rect x="624.7" y="155.4" width="4.8" height="4.8"/>
<rect x="641.8" y="197.3" width="4.8" height="4.8"/>
<rect x="641.2" y="215.1" width="4.8" height="4.8"/>
<rect x="616.9" y="133.0" width="4.8" height="4.8"/>
<rect x="594.7" y="150.0" width="4.8" height="4.8"/>
<rect x="597.7" y="235.3" width="4.8" height="4.8"/>
<rect x="614.9" y="198.0" width="4.8" height="4.8"/>
<rect x="603.1" y="178.3" width="4.8" height="4.8"/>
<rect x="578.1" y="193.9" width="4.8" height="4.8"/>
<rect x="572.7" y="200.4" width="4.8" height="4.8"/>
<rect x="599.0" y="207.8" width="4.8" height="4.8"/>
<rect x="588.9" y="202.3" width="4.8" height="4.8"/>
<rect x="574.5" y="143.2" width="4.8" height="4.8"/>
<rect x="604.5" y="222.8" width="4.8" height="4.8"/>
<rect x="565.5" y="161.1" width="4.8" height="4.8"/>
<rect x="621.8" y="184.0" width="4.8" height="4.8"/>
<rect x="619.7" y="170.0" width="4.8" height="4.8"/>
<rect x="599.3" y="171.7" width="4.8" height="4.8"/>
<rect x="566.5" y="152.6" width="4.8" height="4.8"/>
<rect x="566.9" y="149.1" width="4.8" height="4.8"/>
<rect x="570.8" y="148.2" width="4.8" height="4.8"/>
<rect x="564.3" y="209.7" width="4.8" height="4.8"/>
<rect x="618.9" y="191.2" width="4.8" height="4.8"/>
<rect x="590.6" y="156.9" width="4.8" height="4.8"/>
<rect x="570.3" y="158.8" width="4.8" height="4.8"/>
<rect x="585.9" y="205.7" width="4.8" height="4.8"/>
<rect x="610.6" y="218.2" width="4.8" height="4.8"/>
<rect x="605.0" y="197.9" width="4.8" height="4.8"/>
<rect x="557.9" y="202.0" width="4.8" height="4.8"/>
<rect x="580.9" y="159.9" width="4.8" height="4.8"/>
<rect x="578.7" y="162.4" width="4.8" height="4.8"/>
<rect x="618.1" y="218.0" width="4.8" height="4.8"/>
<rect x="599.0" y="179.7" width="4.8" height="4.8"/>
<rect x="595.3" y="195.1" width="4.8" height="4.8"/>
<rect x="605.4" y="230.9" width="4.8" height="4.8"/>
<rect x="604.2" y="163.5" width="4.8" height="4.8"/>
<rect x="634.9" y="187.5" width="4.8" height="4.8"/>
<rect x="638.6" y="187.8" width="4.8" height="4.8"/>
<rect x="623.9" y="189.5" width="4.8" height="4.8"/>
<rect x="543.6" y="202.0" width="4.8" height="4.8"/>
<rect x="612.7" y="158.8" width="4.8" height="4.8"/>
<rect x="616.2" y="160.5" width="4.8" height="4.8"/>
<rect x="620.0" y="125.1" width="4.8" height="4.8"/>
<rect x="623.8" y="140.5" width="4.8" height="4.8"/>
<rect x="611.6" y="189.4" width="4.8" height="4.8"/>
<rect x="577.0" y="194.3" width="4.8" height="4.8"/>
<rect x="644.0" y="192.6" width="4.8" height="4.8"/>
<rect x="583.8" y="220.1" width="4.8" height="4.8"/>
<rect x="601.9" y="131.5" width="4.8" height="4.8"/>
<rect x="560.3" y="223.2" width="4.8" height="4.8"/>
<rect x="582.8" y="216.2" width="4.8" height="4.8"/>
<rect x="539.4" y="197.1" width="4.8" height="4.8"/>
<rect x="625.9" y="187.3" width="4.8" height="4.8"/>
<rect x="614.9" y="124.2" width="4.8" height="4.8"/>
<rect x="594.5" y="147.2" width="4.8" height="4.8"/>
<rect x="621.3" y="187.0" width="4.8" height="4.8"/>
<rect x="585.3" y="149.0" width="4.8" height="4.8"/>
<rect x="602.7" y="146.4" width="4.8" height="4.8"/>
<rect x="567.7" y="196.9" width="4.8" height="4.8"/>
<rect x="564.3" y="216.3" width="4.8" height="4.8"/>
<rect x="585.6" y="192.8" width="4.8" height="4.8"/>
<rect x="605.9" y="150.8" width="4.8" height="4.8"/>
<rect x="599.5" y="143.6" width="4.8" height="4.8"/>
<rect x="627.2" y="193.9" width="4.8" height="4.8"/>
<rect x="606.0" y="167.3" width="4.8" height="4.8"/>
<rect x="556.5" y="211.4" width="4.8" height="4.8"/>
<rect x="604.3" y="228.5" width="4.8" height="4.8"/>
<rect x="588.6" y="209.7" width="4.8" height="4.8"/>
<rect x="623.0" y="207.0" width="4.8" height="4.8"/>
<rect x="570.8" y="194.6" width="4.8" height="4.8"/>
<rect x="597.6" y="183.7" width="4.8" height="4.8"/>
<rect x="634.9" y="215.9" width="4.8" height="4.8"/>
<rect x="633.8" y="220.4" width="4.8" height="4.8"/>
<rect x="571.2" y="156.8" width="4.8" height="4.8"/>
<rect x="555.1" y="214.5" width="4.8" height="4.8"/>
<rect x="642.9" y="211.6" width="4.8" height="4.8"/>
<rect x="571.5" y="141.6" width="4.8" height="4.8"/>
<rect x="571.7" y="159.2" width="4.8" height="4.8"/>
<rect x="641.1" y="212.0" width="4.8" height="4.8"/>
<rect x="612.0" y="123.4" width="4.8" height="4.8"/>
<rect x="583.9" y="168.0" width="4.8" height="4.8"/>
<rect x="628.1" y="207.7" width="4.8" height="4.8"/>
<rect x="589.7" y="182.5" width="4.8" height="4.8"/>
<rect x="569.8" y="157.8" width="4.8" height="4.8"/>
<rect x="607.7" y="186.4" width="4.8" height="4.8"/>
<rect x="602.7" y="138.2" width="4.8" height="4.8"/>
<rect x="607.1" y="180.7" width="4.8" height="4.8"/>
<rect x="603.0" y="222.4" width="4.8" height="4.8"/>
<rect x="608.8" y="150.4" width="4.8" height="4.8"/>
<rect x="619.3" y="215.6" width="4.8" height="4.8"/>
<rect x="608.3" y="120.2" width="4.8" height="4.8"/>
<rect x="555.3" y="208.2" width="4.8" height="4.8"/>
<rect x="571.2" y="222.5" width="4.8" height="4.8"/>
<rect x="564.6" y="182.9" width="4.8" height="4.8"/>
<rect x="606.3" y="176.1" width="4.8" height="4.8"/>
<rect x="618.6" y="211.6" width="4.8" height="4.8"/>
<rect x="564.6" y="213.9" width="4.8" height="4.8"/>
<rect x="622.8" y="221.7" width="4.8" height="4.8"/>
<rect x="603.8" y="146.5" width="4.8" height="4.8"/>
<rect x="589.6" y="208.3" width="4.8" height="4.8"/>
<rect x="578.4" y="134.4" width="4.8" height="4.8"/>
<rect x="645.4" y="192.5" width="4.8" height="4.8"/>
<rect x="564.9" y="152.1" width="4.8" height="4.8"/>
<rect x="569.8" y="206.7" width="4.8" height="4.8"/>
<rect x="650.9" y="210.5" width="4.8" height="4.8"/>
<rect x="578.1" y="133.9" width="4.8" height="4.8"/>
<rect x="578.4" y="165.5" width="4.8" height="4.8"/>
<rect x="605.4" y="124.0" width="4.8" height="4.8"/>
<rect x="624.9" y="136.7" width="4.8" height="4.8"/>
<rect x="554.1" y="189.3" width="4.8" height="4.8"/>
<rect x="637.8" y="210.0" width="4.8" height="4.8"/>
<rect x="551.0" y="220.9" width="4.8" height="4.8"/>
<rect x="624.9" y="198.9" width="4.8" height="4.8"/>
<rect x="571.7" y="168.0" width="4.8" height="4.8"/>
<rect x="565.3" y="185.4" width="4.8" height="4.8"/>
<rect x="575.9" y="144.3" width="4.8" height="4.8"/>
<rect x="573.2" y="223.4" width="4.8" height="4.8"/>
<rect x="625.7" y="181.2" width="4.8" height="4.8"/>
<rect x="591.5" y="139.3" width="4.8" height="4.8"/>
<rect x="621.4" y="216.9" width="4.8" height="4.8"/>
<rect x="572.0" y="222.2" width="4.8" height="4.8"/>
<rect x="596.7" y="159.2" width="4.8" height="4.8"/>
<rect x="616.6" y="183.3" width="4.8" height="4.8"/>
<rect x="571.5" y="155.0" width="4.8" height="4.8"/>
<rect x="564.2" y="175.3" width="4.8" height="4.8"/>
<rect x="603.8" y="165.9" width="4.8" height="4.8"/>
<rect x="556.4" y="195.8" width="4.8" height="4.8"/>
<rect x="608.7" y="204.3" width="4.8" height="4.8"/>
<rect x="550.2" y="207.4" width="4.8" height="4.8"/>
<rect x="597.5" y="193.4" width="4.8" height="4.8"/>
<rect x="558.5" y="215.2" width="4.8" height="4.8"/>
<rect x="592.4" y="212.1" width="4.8" height="4.8"/>
<rect x="597.1" y="229.9" width="4.8" height="4.8"/>
<rect x="593.4" y="194.8" width="4.8" height="4.8"/>
<rect x="535.8" y="214.6" width="4.8" height="4.8"/>
<rect x="602.3" y="178.7" width="4.8" height="4.8"/>
<rect x="620.6" y="173.7" width="4.8" height="4.8"/>
<rect x="610.1" y="161.5" width="4.8" height="4.8"/>
<rect x="626.1" y="221.1" width="4.8" height="4.8"/>
<rect x="612.1" y="180.6" width="4.8" height="4.8"/>
<rect x="553.9" y="203.4" width="4.8" height="4.8"/>
<rect x="594.7" y="124.9" width="4.8" height="4.8"/>
<rect x="563.3" y="210.6" width="4.8" height="4.8"/>
<rect x="637.9" y="179.7" width="4.8" height="4.8"/>
<rect x="605.2" y="185.5" width="4.8" height="4.8"/>
<rect x="595.1" y="228.1" width="4.8" height="4.8"/>
<rect x="587.8" y="151.8" width="4.8" height="4.8"/>
<rect x="565.4" y="188.4" width="4.8" height="4.8"/>
<rect x="603.9" y="153.0" width="4.8" height="4.8"/>
<rect x="640.6" y="211.7" width="4.8" height="4.8"/>
<rect x="652.6" y="187.3" width="4.8" height="4.8"/>
<rect x="616.9" y="135.5" width="4.8" height="4.8"/>
<rect x="608.3" y="189.2" width="4.8" height="4.8"/>
<rect x="623.2" y="188.3" width="4.8" height="4.8"/>
<rect x="638.3" y="196.2" width="4.8" height="4.8"/>
<rect x="592.0" y="197.9" width="4.8" height="4.8"/>
<rect x="541.0" y="207.6" width="4.8" height="4.8"/>
<rect x="640.0" y="188.8" width="4.8" height="4.8"/>
<rect x="572.2" y="224.8" width="4.8" height="4.8"/>
<rect x="642.2" y="191.5" width="4.8" height="4.8"/>
<rect x="619.1" y="213.4" width="4.8" height="4.8"/>
<rect x="599.8" y="229.1" width="4.8" height="4.8"/>
<rect x="600.3" y="164.7" width="4.8" height="4.8"/>
<rect x="580.2" y="173.8" width="4.8" height="4.8"/>
<rect x="575.1" y="159.9" width="4.8" height="4.8"/>
<rect x="586.3" y="204.6" width="4.8" height="4.8"/>
<rect x="578.5" y="131.5" width="4.8" height="4.8"/>
<rect x="611.9" y="210.2" width="4.8" height="4.8"/>
<rect x="578.6" y="181.2" width="4.8" height="4.8"/>
<rect x="617.4" y="126.7" width="4.8" height="4.8"/>
<rect x="611.7" y="210.8" width="4.8" height="4.8"/>
<rect x="573.8" y="221.5" width="4.8" height="4.8"/>
<rect x="574.1" y="152.2" width="4.8" height="4.8"/>
<rect x="573.0" y="202.4" width="4.8" height="4.8"/>
<rect x="581.4" y="214.9" width="4.8" height="4.8"/>
<rect x="548.6" y="203.4" width="4.8" height="4.8"/>
<rect x="618.3" y="181.4" width="4.8" height="4.8"/>
<rect x="605.2" y="191.6" width="4.8" height="4.8"/>
<rect x="598.7" y="182.9" width="4.8" height="4.8"/>
<rect x="593.0" y="149.1" width="4.8" height="4.8"/>
<rect x="649.8" y="211.8" width="4.8" height="4.8"/>
<rect x="583.2" y="215.6" width="4.8" height="4.8"/>
<rect x="616.6" y="227.5" width="4.8" height="4.8"/>
<rect x="632.3" y="208.2" width="4.8" height="4.8"/>
<rect x="612.2" y="128.9" width="4.8" height="4.8"/>
<rect x="630.4" y="182.2" width="4.8" height="4.8"/>
<rect x="576.7" y="212.0" width="4.8" height="4.8"/>
<rect x="635.4" y="212.1" width="4.8" height="4.8"/>
<rect x="606.9" y="214.5" width="4.8" height="4.8"/>
<rect x="550.8" y="199.8" width="4.8" height="4.8"/>
<rect x="597.1" y="146.0" width="4.8" height="4.8"/>
<rect x="631.1" y="214.1" width="4.8" height="4.8"/>
<rect x="588.9" y="143.4" width="4.8" height="4.8"/>
<rect x="586.8" y="179.2" width="4.8" height="4.8"/>
<rect x="639.9" y="195.6" width="4.8" height="4.8"/>
<rect x="603.6" y="123.0" width="4.8" height="4.8"/>
<rect x="606.2" y="189.3" width="4.8" height="4.8"/>
<rect x="583.0" y="222.6" width="4.8" height="4.8"/>
<rect x="642.7" y="212.0" width="4.8" height="4.8"/>
<rect x="628.6" y="182.1" width="4.8" height="4.8"/>
<rect x="645.9" y="182.0" width="4.8" height="4.8"/>
<rect x="580.4" y="149.0" width="4.8" height="4.8"/>
<rect x="562.6" y="221.8" width="4.8" height="4.8"/>
<rect x="605.6" y="194.9" width="4.8" height="4.8"/>
<rect x="600.9" y="174.5" width="4.8" height="4.8"/>
<rect x="576.9" y="159.7" width="4.8" height="4.8"/>
<rect x="643.8" y="207.5" width="4.8" height="4.8"/>
<rect x="548.5" y="192.8" width="4.8" height="4.8"/>
<rect x="597.2" y="224.9" width="4.8" height="4.8"/>
<rect x="577.8" y="189.1" width="4.8" height="4.8"/>
<rect x="617.7" y="170.2" width="4.8" height="4.8"/>
<rect x="577.2" y="225.8" width="4.8" height="4.8"/>
<rect x="614.0" y="153.3" width="4.8" height="4.8"/>
<rect x="625.8" y="208.7" width="4.8" height="4.8"/>
<rect x="615.2" y="152.3" width="4.8" height="4.8"/>
<rect x="620.2" y="122.3" width="4.8" height="4.8"/>
<rect x="631.8" y="180.3" width="4.8" height="4.8"/>
<rect x="571.6" y="217.2" width="4.8" height="4.8"/>
<rect x="623.6" y="145.8" width="4.8" height="4.8"/>
<rect x="564.8" y="153.2" width="4.8" height="4.8"/>
<rect x="625.7" y="187.5" width="4.8" height="4.8"/>
<rect x="614.1" y="172.0" width="4.8" height="4.8"/>
<rect x="615.2" y="183.9" width="4.8" height="4.8"/>
<rect x="622.7" y="144.1" width="4.8" height="4.8"/>
<rect x="594.4" y="230.7" width="4.8" height="4.8"/>
<rect x="565.8" y="181.4" width="4.8" height="4.8"/>
<rect x="618.4" y="143.8" width="4.8" height="4.8"/>
<rect x="579.3" y="180.4" width="4.8" height="4.8"/>
<rect x="536.2" y="212.5" width="4.8" height="4.8"/>
<rect x="601.5" y="162.1" width="4.8" height="4.8"/>
<rect x="599.2" y="177.4" width="4.8" height="4.8"/>
<rect x="635.5" y="190.0" width="4.8" height="4.8"/>
<rect x="592.4" y="198.1" width="4.8" height="4.8"/>
<rect x="564.9" y="154.3" width="4.8" height="4.8"/>
<rect x="582.8" y="220.4" width="4.8" height="4.8"/>
<rect x="589.6" y="143.4" width="4.8" height="4.8"/>
<rect x="590.9" y="231.8" width="4.8" height="4.8"/>
<rect x="560.1" y="222.3" width="4.8" height="4.8"/>
<rect x="634.6" y="180.4" width="4.8" height="4.8"/>
<rect x="547.5" y="191.5" width="4.8" height="4.8"/>
<rect x="609.8" y="127.9" width="4.8" height="4.8"/>
<rect x="582.8" y="208.4" width="4.8" height="4.8"/>
<rect x="580.9" y="162.7" width="4.8" height="4.8"/>
<rect x="561.6" y="224.2" width="4.8" height="4.8"/>
<rect x="556.5" y="208.3" width="4.8" height="4.8"/>
<rect x="630.4" y="210.0" width="4.8" height="4.8"/>
<rect x="597.0" y="216.3" width="4.8" height="4.8"/>
<rect x="579.6" y="149.4" width="4.8" height="4.8"/>
<rect x="597.8" y="124.3" width="4.8" height="4.8"/>
<rect x="530.7" y="214.1" width="4.8" height="4.8"/>
<rect x="608.9" y="223.8" width="4.8" height="4.8"/>
<rect x="541.4" y="203.7" width="4.8" height="4.8"/>
<rect x="600.4" y="232.7" width="4.8" height="4.8"/>
<rect x="649.0" y="181.2" width="4.8" height="4.8"/>
<rect x="620.3" y="171.6" width="4.8" height="4.8"/>
<rect x="612.9" y="141.1" width="4.8" height="4.8"/>
<rect x="542.8" y="202.7" width="4.8" height="4.8"/>
<rect x="560.8" y="181.8" width="4.8" height="4.8"/>
<rect x="613.6" y="131.7" width="4.8" height="4.8"/>
<rect x="619.5" y="147.2" width="4.8" height="4.8"/>
<rect x="626.2" y="179.7" width="4.8" height="4.8"/>
<rect x="622.5" y="173.5" width="4.8" height="4.8"/>
<rect x="569.8" y="175.6" width="4.8" height="4.8"/>
<rect x="610.8" y="149.0" width="4.8" height="4.8"/>
<rect x="589.2" y="143.2" width="4.8" height="4.8"/>
<rect x="585.0" y="205.0" width="4.8" height="4.8"/>
<rect x="624.5" y="124.1" width="4.8" height="4.8"/>
<rect x="600.3" y="127.8" width="4.8" height="4.8"/>
<rect x="600.6" y="215.3" width="4.8" height="4.8"/>
<rect x="560.1" y="208.5" width="4.8" height="4.8"/>
<rect x="599.3" y="154.1" width="4.8" height="4.8"/>
<rect x="588.4" y="179.2" width="4.8" height="4.8"/>
<rect x="600.5" y="147.3" width="4.8" height="4.8"/>
<rect x="615.7" y="171.9" width="4.8" height="4.8"/>
<rect x="593.9" y="167.2" width="4.8" height="4.8"/>
<rect x="615.2" y="145.3" width="4.8" height="4.8"/>
<rect x="634.6" y="202.0" width="4.8" height="4.8"/>
<rect x="622.9" y="154.8" width="4.8" height="4.8"/>
<rect x="617.9" y="200.6" width="4.8" height="4.8"/>
<rect x="596.0" y="138.2" width="4.8" height="4.8"/>
<rect x="574.9" y="201.4" width="4.8" height="4.8"/>
<rect x="573.2" y="165.2" width="4.8" height="4.8"/>
<rect x="598.0" y="190.7" width="4.8" height="4.8"/>
<rect x="570.8" y="215.2" width="4.8" height="4.8"/>
<rect x="617.1" y="145.0" width="4.8" height="4.8"/>
<rect x="581.2" y="172.9" width="4.8" height="4.8"/>
<rect x="615.1" y="226.2" width="4.8" height="4.8"/>
<rect x="644.7" y="179.9" width="4.8" height="4.8"/>
<rect x="616.1" y="219.6" width="4.8" height="4.8"/>
<rect x="569.9" y="205.9" width="4.8" height="4.8"/>
<rect x="546.8" y="195.8" width="4.8" height="4.8"/>
<rect x="574.5" y="158.0" width="4.8" height="4.8"/>
<rect x="613.5" y="134.9" width="4.8" height="4.8"/>
<rect x="595.8" y="175.0" width="4.8" height="4.8"/>
<rect x="609.5" y="131.0" width="4.8" height="4.8"/>
<rect x="613.9" y="162.1" width="4.8" height="4.8"/>
<rect x="568.1" y="168.4" width="4.8" height="4.8"/>
<rect x="641.3" y="207.1" width="4.8" height="4.8"/>
<rect x="582.4" y="166.2" width="4.8" height="4.8"/>
<rect x="567.0" y="206.7" width="4.8" height="4.8"/>
<rect x="569.4" y="202.0" width="4.8" height="4.8"/>
<rect x="568.4" y="210.6" width="4.8" height="4.8"/>
<rect x="566.4" y="159.8" width="4.8" height="4.8"/>
<rect x="581.9" y="213.2" width="4.8" height="4.8"/>
<rect x="620.0" y="198.4" width="4.8" height="4.8"/>
<rect x="628.3" y="216.4" width="4.8" height="4.8"/>
<rect x="644.1" y="186.5" width="4.8" height="4.8"/>
<rect x="560.4" y="212.3" width="4.8" height="4.8"/>
<rect x="585.5" y="172.0" width="4.8" height="4.8"/>
<rect x="577.1" y="177.9" width="4.8" height="4.8"/>
<rect x="621.5" y="123.6" width="4.8" height="4.8"/>
<rect x="593.6" y="130.7" width="4.8" height="4.8"/>
<rect x="607.6" y="194.6" width="4.8" height="4.8"/>
<rect x="540.8" y="206.2" width="4.8" height="4.8"/>
<rect x="587.0" y="159.0" width="4.8" height="4.8"/>
<rect x="611.0" y="146.6" width="4.8" height="4.8"/>
<rect x="526.9" y="216.5" width="4.8" height="4.8"/>
<rect x="545.7" y="202.6" width="4.8" height="4.8"/>
<rect x="543.8" y="204.9" width="4.8" height="4.8"/>
<rect x="619.9" y="159.1" width="4.8" height="4.8"/>
<rect x="574.6" y="161.7" width="4.8" height="4.8"/>
<rect x="616.7" y="134.6" width="4.8" height="4.8"/>
<rect x="624.3" y="214.5" width="4.8" height="4.8"/>
<rect x="553.3" y="193.4" width="4.8" height="4.8"/>
<rect x="606.1" y="119.2" width="4.8" height="4.8"/>
<rect x="572.6" y="153.3" width="4.8" height="4.8"/>
<rect x="596.0" y="165.2" width="4.8" height="4.8"/>
<rect x="550.4" y="205.2" width="4.8" height="4.8"/>
<rect x="582.0" y="187.1" width="4.8" height="4.8"/>
<rect x="586.4" y="137.5" width="4.8" height="4.8"/>
<rect x="609.0" y="176.5" width="4.8" height="4.8"/>
<rect x="581.3" y="169.7" width="4.8" height="4.8"/>
<rect x="643.2" y="214.1" width="4.8" height="4.8"/>
<rect x="616.3" y="165.2" width="4.8" height="4.8"/>
<rect x="548.7" y="197.5" width="4.8" height="4.8"/>
<rect x="641.1" y="218.8" width="4.8" height="4.8"/>
<rect x="615.7" y="121.1" width="4.8" height="4.8"/>
<rect x="567.4" y="166.0" width="4.8" height="4.8"/>
<rect x="591.7" y="224.1" width="4.8" height="4.8"/>
<rect x="599.6" y="233.4" width="4.8" height="4.8"/>
<rect x="568.2" y="201.0" width="4.8" height="4.8"/>
<rect x="545.1" y="198.9" width="4.8" height="4.8"/>
<rect x="568.0" y="142.9" width="4.8" height="4.8"/>
<rect x="601.1" y="173.8" width="4.8" height="4.8"/>
<rect x="628.3" y="187.6" width="4.8" height="4.8"/>
<rect x="562.2" y="197.0" width="4.8" height="4.8"/>
<rect x="600.0" y="124.7" width="4.8" height="4.8"/>
<rect x="581.4" y="131.5" width="4.8" height="4.8"/>
<rect x="640.5" y="217.2" width="4.8" height="4.8"/>
<rect x="611.2" y="206.3" width="4.8" height="4.8"/>
<rect x="577.1" y="219.7" width="4.8" height="4.8"/>
<rect x="638.5" y="196.6" width="4.8" height="4.8"/>
<rect x="590.9" y="176.3" width="4.8" height="4.8"/>
<rect x="565.3" y="161.7" width="4.8" height="4.8"/>
<rect x="567.8" y="168.4" width="4.8" height="4.8"/>
<rect x="623.7" y="172.3" width="4.8" height="4.8"/>
<rect x="617.6" y="128.4" width="4.8" height="4.8"/>
<rect x="624.3" y="200.6" width="4.8" height="4.8"/>
<rect x="540.9" y="220.6" width="4.8" height="4.8"/>
<rect x="570.0" y="201.1" width="4.8" height="4.8"/>
<rect x="616.4" y="212.2" width="4.8" height="4.8"/>
<rect x="572.9" y="152.7" width="4.8" height="4.8"/>
<rect x="580.8" y="185.0" width="4.8" height="4.8"/>
<rect x="602.0" y="154.3" width="4.8" height="4.8"/>
<rect x="566.0" y="195.5" width="4.8" height="4.8"/>
<rect x="594.7" y="166.9" width="4.8" height="4.8"/>
<rect x="553.0" y="202.8" width="4.8" height="4.8"/>
<rect x="596.5" y="162.4" width="4.8" height="4.8"/>
<rect x="624.3" y="200.3" width="4.8" height="4.8"/>
<rect x="632.2" y="193.5" width="4.8" height="4.8"/>
<rect x="571.6" y="192.2" width="4.8" height="4.8"/>
<rect x="556.4" y="185.9" width="4.8" height="4.8"/>
<rect x="546.5" y="183.3" width="4.8" height="4.8"/>
<rect x="571.1" y="171.2" width="4.8" height="4.8"/>
<rect x="640.4" y="194.1" width="4.8" height="4.8"/>
<rect x="591.5" y="211.8" width="4.8" height="4.8"/>
<rect x="594.0" y="202.4" width="4.8" height="4.8"/>
<rect x="565.2" y="186.5" width="4.8" height="4.8"/>
<rect x="552.4" y="201.7" width="4.8" height="4.8"/>
<rect x="572.8" y="144.8" width="4.8" height="4.8"/>
<rect x="595.1" y="147.5" width="4.8" height="4.8"/>
<rect x="588.8" y="143.2" width="4.8" height="4.8"/>
<rect x="551.2" y="198.3" width="4.8" height="4.8"/>
<rect x="566.0" y="171.6" width="4.8" height="4.8"/>
<rect x="590.7" y="166.0" width="4.8" height="4.8"/>
<rect x="543.1" y="206.5" width="4.8" height="4.8"/>
<rect x="616.4" y="188.3" width="4.8" height="4.8"/>
<rect x="558.1" y="196.3" width="4.8" height="4.8"/>
<rect x="593.9" y="201.2" width="4.8" height="4.8"/>
<rect x="549.8" y="182.1" width="4.8" height="4.8"/>
<rect x="622.1" y="141.5" width="4.8" height="4.8"/>
<rect x="590.9" y="159.8" width="4.8" height="4.8"/>
<rect x="590.3" y="143.7" width="4.8" height="4.8"/>
<rect x="556.7" y="220.0" width="4.8" height="4.8"/>
<rect x="620.6" y="160.2" width="4.8" height="4.8"/>
<rect x="608.4" y="158.1" width="4.8" height="4.8"/>
<rect x="542.3" y="195.4" width="4.8" height="4.8"/>
<rect x="570.2" y="172.2" width="4.8" height="4.8"/>
<rect x="566.8" y="168.2" width="4.8" height="4.8"/>
<rect x="616.8" y="219.5" width="4.8" height="4.8"/>
<rect x="645.3" y="189.1" width="4.8" height="4.8"/>
<rect x="640.3" y="201.5" width="4.8" height="4.8"/>
<rect x="581.5" y="160.9" width="4.8" height="4.8"/>
<rect x="607.3" y="182.0" width="4.8" height="4.8"/>
<rect x="573.0" y="194.5" width="4.8" height="4.8"/>
<rect x="630.5" y="193.2" width="4.8" height="4.8"/>
<rect x="596.7" y="212.9" width="4.8" height="4.8"/>
<rect x="578.0" y="164.3" width="4.8" height="4.8"/>
<rect x="619.9" y="194.4" width="4.8" height="4.8"/>
<rect x="612.0" y="170.8" width="4.8" height="4.8"/>
<rect x="588.9" y="192.6" width="4.8" height="4.8"/>
<rect x="552.4" y="189.7" width="4.8" height="4.8"/>
<rect x="603.8" y="179.5" width="4.8" height="4.8"/>
<rect x="587.4" y="181.9" width="4.8" height="4.8"/>
<rect x="640.3" y="214.7" width="4.8" height="4.8"/>
<rect x="633.2" y="201.2" width="4.8" height="4.8"/>
<rect x="630.1" y="183.0" width="4.8" height="4.8"/>
<rect x="644.7" y="206.8" width="4.8" height="4.8"/>
<rect x="576.4" y="158.4" width="4.8" height="4.8"/>
<rect x="606.6" y="148.0" width="4.8" height="4.8"/>
<rect x="597.5" y="134.2" width="4.8" height="4.8"/>
<rect x="576.7" y="194.9" width="4.8" height="4.8"/>
<rect x="585.9" y="169.1" width="4.8" height="4.8"/>
<rect x="596.4" y="127.9" width="4.8" height="4.8"/>
<rect x="627.4" y="188.1" width="4.8" height="4.8"/>
<rect x="607.8" y="131.3" width="4.8" height="4.8"/>
<rect x="616.2" y="181.4" width="4.8" height="4.8"/>
<rect x="612.2" y="178.3" width="4.8" height="4.8"/>
<rect x="636.0" y="180.8" width="4.8" height="4.8"/>
<rect x="593.0" y="176.8" width="4.8" height="4.8"/>
<rect x="630.9" y="202.4" width="4.8" height="4.8"/>
<rect x="634.3" y="214.6" width="4.8" height="4.8"/>
<rect x="565.8" y="146.0" width="4.8" height="4.8"/>
<rect x="604.3" y="171.9" width="4.8" height="4.8"/>
<rect x="582.5" y="163.7" width="4.8" height="4.8"/>
<rect x="601.0" y="161.5" width="4.8" height="4.8"/>
<rect x="577.3" y="145.3" width="4.8" height="4.8"/>
<rect x="590.2" y="183.3" width="4.8" height="4.8"/>
<rect x="612.8" y="217.3" width="4.8" height="4.8"/>
<rect x="575.5" y="208.3" width="4.8" height="4.8"/>
<rect x="611.1" y="221.7" width="4.8" height="4.8"/>
<rect x="579.1" y="199.0" width="4.8" height="4.8"/>
<rect x="579.3" y="165.1" width="4.8" height="4.8"/>
<rect x="616.9" y="203.0" width="4.8" height="4.8"/>
<rect x="600.7" y="180.9" width="4.8" height="4.8"/>
<rect x="588.9" y="183.3" width="4.8" height="4.8"/>
<rect x="548.9" y="200.0" width="4.8" height="4.8"/>
<rect x="626.2" y="201.9" width="4.8" height="4.8"/>
<rect x="576.0" y="151.5" width="4.8" height="4.8"/>
<rect x="587.2" y="191.1" width="4.8" height="4.8"/>
<rect x="595.1" y="160.5" width="4.8" height="4.8"/>
<rect x="616.6" y="156.9" width="4.8" height="4.8"/>
<rect x="635.3" y="220.1" width="4.8" height="4.8"/>
<rect x="572.3" y="149.9" width="4.8" height="4.8"/>
<rect x="591.6" y="195.1" width="4.8" height="4.8"/>
<rect x="603.1" y="191.4" width="4.8" height="4.8"/>
<rect x="575.6" y="195.6" width="4.8" height="4.8"/>
<rect x="613.6" y="143.4" width="4.8" height="4.8"/>
<rect x="592.9" y="164.9" width="4.8" height="4.8"/>
<rect x="610.4" y="139.3" width="4.8" height="4.8"/>
<rect x="615.0" y="152.5" width="4.8" height="4.8"/>
<rect x="612.5" y="201.4" width="4.8" height="4.8"/>
<rect x="634.4" y="184.0" width="4.8" height="4.8"/>
<rect x="607.8" y="186.3" width="4.8" height="4.8"/>
<rect x="633.4" y="191.7" width="4.8" height="4.8"/>
<rect x="604.0" y="224.7" width="4.8" height="4.8"/>
<rect x="621.4" y="207.0" width="4.8" height="4.8"/>
<rect x="622.6" y="183.9" width="4.8" height="4.8"/>
<rect x="605.5" y="186.0" width="4.8" height="4.8"/>
<rect x="624.2" y="142.3" width="4.8" height="4.8"/>
<rect x="599.0" y="176.3" width="4.8" height="4.8"/>
<rect x="567.9" y="153.4" width="4.8" height="4.8"/>
<rect x="640.1" y="207.7" width="4.8" height="4.8"/>
<rect x="555.1" y="212.9" width="4.8" height="4.8"/>
<rect x="534.5" y="216.1" width="4.8" height="4.8"/>
<rect x="609.8" y="130.6" width="4.8" height="4.8"/>
<rect x="598.5" y="155.8" width="4.8" height="4.8"/>
<rect x="531.0" y="212.8" width="4.8" height="4.8"/>
<rect x="603.1" y="130.5" width="4.8" height="4.8"/>
<rect x="631.0" y="194.7" width="4.8" height="4.8"/>
<rect x="602.9" y="199.3" width="4.8" height="4.8"/>
<rect x="564.6" y="177.5" width="4.8" height="4.8"/>
<rect x="634.9" y="204.2" width="4.8" height="4.8"/>
<rect x="556.3" y="203.2" width="4.8" height="4.8"/>
<rect x="613.5" y="135.6" width="4.8" height="4.8"/>
<rect x="592.9" y="233.7" width="4.8" height="4.8"/>
<rect x="589.3" y="165.3" width="4.8" height="4.8"/>
<rect x="607.3" y="172.8" width="4.8" height="4.8"/>
<rect x="622.1" y="136.9" width="4.8" height="4.8"/>
<rect x="582.6" y="216.3" width="4.8" height="4.8"/>
<rect x="600.6" y="175.1" width="4.8" height="4.8"/>
<rect x="561.2" y="217.3" width="4.8" height="4.8"/>
<rect x="559.8" y="220.3" width="4.8" height="4.8"/>
<rect x="619.9" y="123.5" width="4.8" height="4.8"/>
<rect x="560.7" y="218.5" width="4.8" height="4.8"/>
<rect x="582.4" y="213.2" width="4.8" height="4.8"/>
<rect x="610.3" y="204.3" width="4.8" height="4.8"/>
<rect x="583.1" y="195.7" width="4.8" height="4.8"/>
<rect x="618.7" y="137.0" width="4.8" height="4.8"/>
<rect x="581.8" y="217.2" width="4.8" height="4.8"/>
<rect x="575.2" y="212.7" width="4.8" height="4.8"/>
<rect x="607.9" y="130.1" width="4.8" height="4.8"/>
<rect x="540.9" y="215.4" width="4.8" height="4.8"/>
<rect x="581.5" y="216.9" width="4.8" height="4.8"/>
<rect x="585.0" y="226.3" width="4.8" height="4.8"/>
<rect x="640.7" y="206.7" width="4.8" height="4.8"/>
<rect x="647.7" y="211.2" width="4.8" height="4.8"/>
<rect x="592.1" y="175.2" width="4.8" height="4.8"/>
<rect x="563.0" y="221.6" width="4.8" height="4.8"/>
<rect x="601.7" y="181.8" width="4.8" height="4.8"/>
<rect x="583.3" y="178.7" width="4.8" height="4.8"/>
<rect x="618.2" y="129.6" width="4.8" height="4.8"/>
<rect x="569.3" y="149.7" width="4.8" height="4.8"/>
<rect x="593.0" y="152.6" width="4.8" height="4.8"/>
<rect x="560.4" y="195.6" width="4.8" height="4.8"/>
<rect x="643.9" y="212.3" width="4.8" height="4.8"/>
<rect x="577.9" y="215.9" width="4.8" height="4.8"/>
<rect x="555.8" y="219.9" width="4.8" height="4.8"/>
<rect x="605.4" y="123.9" width="4.8" height="4.8"/>
<rect x="623.5" y="215.9" width="4.8" height="4.8"/>
<rect x="553.4" y="211.6" width="4.8" height="4.8"/>
<rect x="572.6" y="211.2" width="4.8" height="4.8"/>
<rect x="640.2" y="193.6" width="4.8" height="4.8"/>
<rect x="635.4" y="204.5" width="4.8" height="4.8"/>
<rect x="584.6" y="182.8" width="4.8" height="4.8"/>
<rect x="614.7" y="204.7" width="4.8" height="4.8"/>
<rect x="620.8" y="135.3" width="4.8" height="4.8"/>
<rect x="623.5" y="154.8" width="4.8" height="4.8"/>
<rect x="542.3" y="193.5" width="4.8" height="4.8"/>
<rect x="594.7" y="136.7" width="4.8" height="4.8"/>
<rect x="591.8" y="181.6" width="4.8" height="4.8"/>
<rect x="644.3" y="191.0" width="4.8" height="4.8"/>
<rect x="583.4" y="147.2" width="4.8" height="4.8"/>
<rect x="608.7" y="174.4" width="4.8" height="4.8"/>
<rect x="623.3" y="137.1" width="4.8" height="4.8"/>
<rect x="606.2" y="153.9" width="4.8" height="4.8"/>
<rect x="638.6" y="204.3" width="4.8" height="4.8"/>
<rect x="611.2" y="126.4" width="4.8" height="4.8"/>
<rect x="585.0" y="197.8" width="4.8" height="4.8"/>
<rect x="610.8" y="129.8" width="4.8" height="4.8"/>
<rect x="583.5" y="130.3" width="4.8" height="4.8"/>
<rect x="617.4" y="155.9" width="4.8" height="4.8"/>
<rect x="605.8" y="170.8" width="4.8" height="4.8"/>
<rect x="568.2" y="171.9" width="4.8" height="4.8"/>
<rect x="566.7" y="167.5" width="4.8" height="4.8"/>
<rect x="566.3" y="202.4" width="4.8" height="4.8"/>
<rect x="579.9" y="222.4" width="4.8" height="4.8"/>
<rect x="604.6" y="126.6" width="4.8" height="4.8"/>
<rect x="601.5" y="133.0" width="4.8" height="4.8"/>
<rect x="579.7" y="135.2" width="4.8" height="4.8"/>
<rect x="619.4" y="153.6" width="4.8" height="4.8"/>
<rect x="618.1" y="202.0" width="4.8" height="4.8"/>
<rect x="550.6" y="190.0" width="4.8" height="4.8"/>
<rect x="580.4" y="146.6" width="4.8" height="4.8"/>
<rect x="585.9" y="215.8" width="4.8" height="4.8"/>
<rect x="544.1" y="197.2" width="4.8" height="4.8"/>
<rect x="610.5" y="126.2" width="4.8" height="4.8"/>
<rect x="623.8" y="174.8" width="4.8" height="4.8"/>
<rect x="612.5" y="228.2" width="4.8" height="4.8"/>
<rect x="554.6" y="185.5" width="4.8" height="4.8"/>
<rect x="608.2" y="190.2" width="4.8" height="4.8"/>
<rect x="587.9" y="137.0" width="4.8" height="4.8"/>
<rect x="560.5" y="203.1" width="4.8" height="4.8"/>
<rect x="586.0" y="207.4" width="4.8" height="4.8"/>
<rect x="557.7" y="208.3" width="4.8" height="4.8"/>
<rect x="597.9" y="173.6" width="4.8" height="4.8"/>
<rect x="608.1" y="171.3" width="4.8" height="4.8"/>
<rect x="643.4" y="202.1" width="4.8" height="4.8"/>
<rect x="604.3" y="205.7" width="4.8" height="4.8"/>
<rect x="589.9" y="225.1" width="4.8" height="4.8"/>
<rect x="598.7" y="124.8" width="4.8" height="4.8"/>
<rect x="644.2" y="209.8" width="4.8" height="4.8"/>
<rect x="586.0" y="146.5" width="4.8" height="4.8"/>
<rect x="547.3" y="192.4" width="4.8" height="4.8"/>
<rect x="598.1" y="131.9" width="4.8" height="4.8"/>
<rect x="607.7" y="203.4" width="4.8" height="4.8"/>
<rect x="608.4" y="189.1" width="4.8" height="4.8"/>
<rect x="562.4" y="188.5" width="4.8" height="4.8"/>
<rect x="624.6" y="200.5" width="4.8" height="4.8"/>
<rect x="547.1" y="185.9" width="4.8" height="4.8"/>
<rect x="635.1" y="204.3" width="4.8" height="4.8"/>
<rect x="610.0" y="170.3" width="4.8" height="4.8"/>
<rect x="612.3" y="129.1" width="4.8" height="4.8"/>
<rect x="580.5" y="132.1" width="4.8" height="4.8"/>
<rect x="586.7" y="201.4" width="4.8" height="4.8"/>
<rect x="598.7" y="190.5" width="4.8" height="4.8"/>
<rect x="572.7" y="167.5" width="4.8" height="4.8"/>
<rect x="593.3" y="153.0" width="4.8" height="4.8"/>
<rect x="573.2" y="180.4" width="4.8" height="4.8"/>
<rect x="567.3" y="199.9" width="4.8" height="4.8"/>
<rect x="586.0" y="175.6" width="4.8" height="4.8"/>
<rect x="591.6" y="137.2" width="4.8" height="4.8"/>
<rect x="575.1" y="184.5" width="4.8" height="4.8"/>
<rect x="567.3" y="157.2" width="4.8" height="4.8"/>
<rect x="614.6" y="191.2" width="4.8" height="4.8"/>
<rect x="607.2" y="168.9" width="4.8" height="4.8"/>
<rect x="626.7" y="223.6" width="4.8" height="4.8"/>
<rect x="608.5" y="192.2" width="4.8" height="4.8"/>
<rect x="596.4" y="135.5" width="4.8" height="4.8"/>
<rect x="589.1" y="150.0" width="4.8" height="4.8"/>
<rect x="620.8" y="143.6" width="4.8" height="4.8"/>
<rect x="534.7" y="215.7" width="4.8" height="4.8"/>
<rect x="627.2" y="212.9" width="4.8" height="4.8"/>
<rect x="622.1" y="170.4" width="4.8" height="4.8"/>
<rect x="555.5" y="218.8" width="4.8" height="4.8"/>
<rect x="600.0" y="203.5" width="4.8" height="4.8"/>
<rect x="624.7" y="143.8" width="4.8" height="4.8"/>
<rect x="570.0" y="221.6" width="4.8" height="4.8"/>
<rect x="588.6" y="128.8" width="4.8" height="4.8"/>
<rect x="621.9" y="221.0" width="4.8" height="4.8"/>
<rect x="631.4" y="186.5" width="4.8" height="4.8"/>
<rect x="610.2" y="174.9" width="4.8" height="4.8"/>
<rect x="621.2" y="120.3" width="4.8" height="4.8"/>
<rect x="601.8" y="180.8" width="4.8" height="4.8"/>
<rect x="578.9" y="137.6" width="4.8" height="4.8"/>
<rect x="642.2" y="179.4" width="4.8" height="4.8"/>
<rect x="606.6" y="221.3" width="4.8" height="4.8"/>
<rect x="645.4" y="181.2" width="4.8" height="4.8"/>
<rect x="589.9" y="130.0" width="4.8" height="4.8"/>
<rect x="633.8" y="182.4" width="4.8" height="4.8"/>
<rect x="531.7" y="215.2" width="4.8" height="4.8"/>
<rect x="552.1" y="209.0" width="4.8" height="4.8"/>
<rect x="602.6" y="219.6" width="4.8" height="4.8"/>
<rect x="606.0" y="206.7" width="4.8" height="4.8"/>
<rect x="616.3" y="182.8" width="4.8" height="4.8"/>
<rect x="566.5" y="210.0" width="4.8" height="4.8"/>
<rect x="642.0" y="193.5" width="4.8" height="4.8"/>
<rect x="622.8" y="139.2" width="4.8" height="4.8"/>
<rect x="605.3" y="225.4" width="4.8" height="4.8"/>
<rect x="578.7" y="199.1" width="4.8" height="4.8"/>
<rect x="584.0" y="169.2" width="4.8" height="4.8"/>
<rect x="609.5" y="178.7" width="4.8" height="4.8"/>
<rect x="618.5" y="212.6" width="4.8" height="4.8"/>
<rect x="609.8" y="194.7" width="4.8" height="4.8"/>
<rect x="585.9" y="231.6" width="4.8" height="4.8"/>
<rect x="552.2" y="212.3" width="4.8" height="4.8"/>
<rect x="618.5" y="128.2" width="4.8" height="4.8"/>
<rect x="583.2" y="229.7" width="4.8" height="4.8"/>
<rect x="570.0" y="149.1" width="4.8" height="4.8"/>
<rect x="596.1" y="204.3" width="4.8" height="4.8"/>
<rect x="619.8" y="159.7" width="4.8" height="4.8"/>
<rect x="575.4" y="161.3" width="4.8" height="4.8"/>
<rect x="596.3" y="156.5" width="4.8" height="4.8"/>
<rect x="551.8" y="202.5" width="4.8" height="4.8"/>
<rect x="601.1" y="149.1" width="4.8" height="4.8"/>
<rect x="601.6" y="166.1" width="4.8" height="4.8"/>
<rect x="543.1" y="212.9" width="4.8" height="4.8"/>
<rect x="554.4" y="181.8" width="4.8" height="4.8"/>
<rect x="554.8" y="191.7" width="4.8" height="4.8"/>
<rect x="598.6" y="230.4" width="4.8" height="4.8"/>
<rect x="589.2" y="163.4" width="4.8" height="4.8"/>
<rect x="626.3" y="201.1" width="4.8" height="4.8"/>
<rect x="573.0" y="164.9" width="4.8" height="4.8"/>
<rect x="557.8" y="189.6" width="4.8" height="4.8"/>
<rect x="548.9" y="183.2" width="4.8" height="4.8"/>
<rect x="622.4" y="169.4" width="4.8" height="4.8"/>
<rect x="572.2" y="136.7" width="4.8" height="4.8"/>
<rect x="559.5" y="212.1" width="4.8" height="4.8"/>
<rect x="588.9" y="165.9" width="4.8" height="4.8"/>
<rect x="570.7" y="206.0" width="4.8" height="4.8"/>
<rect x="641.9" y="185.8" width="4.8" height="4.8"/>
<rect x="593.9" y="149.0" width="4.8" height="4.8"/>
<rect x="633.3" y="178.1" width="4.8" height="4.8"/>
<rect x="630.2" y="202.3" width="4.8" height="4.8"/>
<rect x="639.7" y="189.0" width="4.8" height="4.8"/>
<rect x="569.8" y="143.1" width="4.8" height="4.8"/>
<rect x="622.9" y="212.8" width="4.8" height="4.8"/>
<rect x="562.4" y="181.2" width="4.8" height="4.8"/>
<rect x="580.2" y="211.8" width="4.8" height="4.8"/>
<rect x="555.6" y="214.4" width="4.8" height="4.8"/>
<rect x="603.8" y="188.7" width="4.8" height="4.8"/>
<rect x="578.5" y="225.3" width="4.8" height="4.8"/>
<rect x="626.7" y="200.0" width="4.8" height="4.8"/>
<rect x="558.5" y="188.5" width="4.8" height="4.8"/>
<rect x="600.5" y="181.6" width="4.8" height="4.8"/>
<rect x="631.5" y="188.6" width="4.8" height="4.8"/>
<rect x="614.8" y="190.4" width="4.8" height="4.8"/>
<rect x="565.7" y="208.1" width="4.8" height="4.8"/>
<rect x="593.4" y="150.9" width="4.8" height="4.8"/>
<rect x="611.3" y="171.8" width="4.8" height="4.8"/>
<rect x="602.4" y="227.2" width="4.8" height="4.8"/>
<rect x="599.3" y="144.6" width="4.8" height="4.8"/>
<rect x="627.8" y="209.0" width="4.8" height="4.8"/>
<rect x="595.6" y="212.8" width="4.8" height="4.8"/>
<rect x="561.0" y="184.6" width="4.8" height="4.8"/>
<rect x="615.3" y="188.6" width="4.8" height="4.8"/>
<rect x="615.4" y="145.4" width="4.8" height="4.8"/>
<rect x="631.2" y="212.7" width="4.8" height="4.8"/>
<rect x="619.0" y="211.3" width="4.8" height="4.8"/>
<rect x="634.8" y="188.0" width="4.8" height="4.8"/>
<rect x="614.0" y="140.4" width="4.8" height="4.8"/>
<rect x="588.1" y="153.7" width="4.8" height="4.8"/>
<rect x="578.4" y="224.4" width="4.8" height="4.8"/>
<rect x="584.3" y="136.4" width="4.8" height="4.8"/>
<rect x="587.6" y="140.4" width="4.8" height="4.8"/>
<rect x="552.3" y="221.4" width="4.8" height="4.8"/>
<rect x="571.3" y="210.1" width="4.8" height="4.8"/>
<rect x="638.8" y="218.7" width="4.8" height="4.8"/>
<rect x="596.3" y="131.0" width="4.8" height="4.8"/>
<rect x="578.0" y="133.0" width="4.8" height="4.8"/>
<rect x="586.8" y="160.0" width="4.8" height="4.8"/>
<rect x="647.6" y="180.9" width="4.8" height="4.8"/>
<rect x="568.4" y="174.6" width="4.8" height="4.8"/>
<rect x="634.5" y="209.5" width="4.8" height="4.8"/>
<rect x="623.6" y="129.7" width="4.8" height="4.8"/>
<rect x="567.6" y="210.5" width="4.8" height="4.8"/>
<rect x="594.9" y="174.1" width="4.8" height="4.8"/>
<rect x="621.5" y="183.0" width="4.8" height="4.8"/>
<rect x="569.0" y="182.7" width="4.8" height="4.8"/>
<rect x="623.0" y="136.0" width="4.8" height="4.8"/>
<rect x="592.0" y="232.8" width="4.8" height="4.8"/>
<rect x="620.7" y="221.9" width="4.8" height="4.8"/>
<rect x="598.0" y="182.9" width="4.8" height="4.8"/>
<rect x="606.6" y="172.9" width="4.8" height="4.8"/>
<rect x="575.5" y="186.4" width="4.8" height="4.8"/>
<rect x="644.1" y="213.6" width="4.8" height="4.8"/>
<rect x="610.7" y="149.2" width="4.8" height="4.8"/>
<rect x="551.4" y="204.5" width="4.8" height="4.8"/>
<rect x="588.6" y="158.5" width="4.8" height="4.8"/>
<rect x="541.3" y="219.8" width="4.8" height="4.8"/>
<rect x="624.4" y="213.8" width="4.8" height="4.8"/>
<rect x="597.1" y="131.6" width="4.8" height="4.8"/>
<rect x="577.9" y="174.3" width="4.8" height="4.8"/>
<rect x="602.0" y="183.7" width="4.8" height="4.8"/>
<rect x="559.1" y="183.5" width="4.8" height="4.8"/>
<rect x="608.0" y="224.9" width="4.8" height="4.8"/>
<rect x="624.2" y="142.6" width="4.8" height="4.8"/>
<rect x="592.3" y="183.7" width="4.8" height="4.8"/>
<rect x="560.6" y="216.5" width="4.8" height="4.8"/>
<rect x="572.8" y="173.0" width="4.8" height="4.8"/>
<rect x="612.6" y="219.3" width="4.8" height="4.8"/>
<rect x="592.4" y="206.6" width="4.8" height="4.8"/>
<rect x="620.1" y="204.5" width="4.8" height="4.8"/>
<rect x="641.5" y="216.7" width="4.8" height="4.8"/>
<rect x="575.2" y="214.8" width="4.8" height="4.8"/>
<rect x="620.2" y="120.6" width="4.8" height="4.8"/>
<rect x="563.0" y="217.3" width="4.8" height="4.8"/>
<rect x="625.9" y="215.9" width="4.8" height="4.8"/>
<rect x="591.0" y="213.7" width="4.8" height="4.8"/>
<rect x="575.8" y="226.4" width="4.8" height="4.8"/>
<rect x="619.6" y="159.3" width="4.8" height="4.8"/>
<rect x="621.3" y="181.6" width="4.8" height="4.8"/>
<rect x="626.7" y="223.5" width="4.8" height="4.8"/>
<rect x="573.2" y="149.0" width="4.8" height="4.8"/>
<rect x="609.9" y="127.9" width="4.8" height="4.8"/>
<rect x="597.3" y="167.2" width="4.8" height="4.8"/>
<rect x="541.7" y="200.1" width="4.8" height="4.8"/>
<rect x="592.0" y="156.7" width="4.8" height="4.8"/>
<rect x="565.3" y="171.7" width="4.8" height="4.8"/>
<rect x="609.3" y="134.1" width="4.8" height="4.8"/>
<rect x="630.1" y="190.4" width="4.8" height="4.8"/>
<rect x="579.9" y="153.7" width="4.8" height="4.8"/>
<rect x="601.1" y="170.6" width="4.8" height="4.8"/>
<rect x="604.4" y="201.2" width="4.8" height="4.8"/>
<rect x="598.0" y="146.3" width="4.8" height="4.8"/>
<rect x="581.6" y="150.3" width="4.8" height="4.8"/>
<rect x="609.2" y="159.9" width="4.8" height="4.8"/>
<rect x="611.9" y="187.3" width="4.8" height="4.8"/>
<rect x="599.8" y="198.5" width="4.8" height="4.8"/>
<rect x="598.5" y="192.4" width="4.8" height="4.8"/>
<rect x="612.3" y="124.1" width="4.8" height="4.8"/>
<rect x="566.3" y="208.2" width="4.8" height="4.8"/>
<rect x="614.9" y="144.1" width="4.8" height="4.8"/>
<rect x="627.2" y="219.5" width="4.8" height="4.8"/>
<rect x="559.0" y="195.5" width="4.8" height="4.8"/>
<rect x="598.6" y="219.7" width="4.8" height="4.8"/>
<rect x="554.7" y="212.0" width="4.8" height="4.8"/>
<rect x="601.4" y="132.8" width="4.8" height="4.8"/>
<rect x="567.1" y="159.0" width="4.8" height="4.8"/>
<rect x="568.2" y="166.3" width="4.8" height="4.8"/>
<rect x="624.2" y="208.7" width="4.8" height="4.8"/>
<rect x="617.3" y="171.0" width="4.8" height="4.8"/>
<rect x="649.6" y="183.5" width="4.8" height="4.8"/>
<rect x="621.9" y="165.7" width="4.8" height="4.8"/>
<rect x="635.8" y="181.2" width="4.8" height="4.8"/>
<rect x="547.8" y="191.4" width="4.8" height="4.8"/>
<rect x="583.2" y="215.6" width="4.8" height="4.8"/>
<rect x="636.1" y="214.8" width="4.8" height="4.8"/>
<rect x="614.5" y="167.3" width="4.8" height="4.8"/>
<rect x="615.3" y="225.9" width="4.8" height="4.8"/>
<rect x="604.2" y="232.6" width="4.8" height="4.8"/>
<rect x="624.6" y="171.8" width="4.8" height="4.8"/>
<rect x="550.1" y="211.5" width="4.8" height="4.8"/>
<rect x="595.7" y="138.3" width="4.8" height="4.8"/>
<rect x="597.4" y="233.2" width="4.8" height="4.8"/>
<rect x="584.6" y="153.5" width="4.8" height="4.8"/>
<rect x="595.5" y="226.6" width="4.8" height="4.8"/>
<rect x="577.8" y="183.6" width="4.8" height="4.8"/>
<rect x="621.6" y="121.9" width="4.8" height="4.8"/>
<rect x="642.3" y="215.0" width="4.8" height="4.8"/>
<rect x="609.3" y="230.8" width="4.8" height="4.8"/>
<rect x="610.0" y="173.3" width="4.8" height="4.8"/>
<rect x="596.8" y="172.4" width="4.8" height="4.8"/>
<rect x="617.2" y="205.2" width="4.8" height="4.8"/>
<rect x="611.5" y="181.4" width="4.8" height="4.8"/>
<rect x="585.0" y="147.1" width="4.8" height="4.8"/>
<rect x="586.3" y="198.2" width="4.8" height="4.8"/>
<rect x="620.3" y="138.4" width="4.8" height="4.8"/>
<rect x="628.3" y="186.5" width="4.8" height="4.8"/>
<rect x="604.0" y="173.3" width="4.8" height="4.8"/>
<rect x="551.2" y="198.9" width="4.8" height="4.8"/>
<rect x="613.3" y="152.9" width="4.8" height="4.8"/>
<rect x="558.2" y="183.7" width="4.8" height="4.8"/>
<rect x="567.2" y="210.1" width="4.8" height="4.8"/>
<rect x="619.8" y="225.8" width="4.8" height="4.8"/>
<rect x="620.4" y="207.7" width="4.8" height="4.8"/>
<rect x="633.2" y="195.9" width="4.8" height="4.8"/>
<rect x="559.9" y="197.2" width="4.8" height="4.8"/>
<rect x="618.9" y="178.1" width="4.8" height="4.8"/>
<rect x="547.5" y="219.7" width="4.8" height="4.8"/>
<rect x="629.5" y="213.8" width="4.8" height="4.8"/>
<rect x="614.7" y="202.0" width="4.8" height="4.8"/>
<rect x="599.0" y="151.9" width="4.8" height="4.8"/>
<rect x="599.2" y="146.3" width="4.8" height="4.8"/>
<rect x="582.9" y="220.0" width="4.8" height="4.8"/>
<rect x="603.3" y="165.2" width="4.8" height="4.8"/>
<rect x="583.4" y="151.0" width="4.8" height="4.8"/>
<rect x="582.9" y="212.6" width="4.8" height="4.8"/>
<rect x="649.4" y="182.4" width="4.8" height="4.8"/>
<rect x="614.8" y="212.9" width="4.8" height="4.8"/>
<rect x="591.9" y="229.9" width="4.8" height="4.8"/>
<rect x="586.4" y="153.5" width="4.8" height="4.8"/>
<rect x="545.8" y="203.4" width="4.8" height="4.8"/>
<rect x="630.6" y="203.7" width="4.8" height="4.8"/>
<rect x="638.5" y="216.8" width="4.8" height="4.8"/>
<rect x="532.5" y="211.4" width="4.8" height="4.8"/>
<rect x="637.4" y="190.4" width="4.8" height="4.8"/>
<rect x="572.4" y="203.1" width="4.8" height="4.8"/>
<rect x="619.5" y="158.7" width="4.8" height="4.8"/>
<rect x="589.5" y="170.2" width="4.8" height="4.8"/>
<rect x="617.9" y="133.7" width="4.8" height="4.8"/>
<rect x="573.4" y="183.9" width="4.8" height="4.8"/>
<rect x="585.3" y="148.0" width="4.8" height="4.8"/>
<rect x="619.2" y="202.0" width="4.8" height="4.8"/>
<rect x="607.6" y="143.8" width="4.8" height="4.8"/>
<rect x="596.1" y="208.9" width="4.8" height="4.8"/>
<rect x="597.2" y="195.1" width="4.8" height="4.8"/>
<rect x="590.7" y="198.3" width="4.8" height="4.8"/>
<rect x="601.8" y="228.8" width="4.8" height="4.8"/>
<rect x="577.0" y="196.1" width="4.8" height="4.8"/>
<rect x="587.6" y="193.3" width="4.8" height="4.8"/>
<rect x="610.5" y="161.6" width="4.8" height="4.8"/>
<rect x="549.5" y="215.6" width="4.8" height="4.8"/>
<rect x="596.8" y="123.4" width="4.8" height="4.8"/>
<rect x="571.3" y="203.8" width="4.8" height="4.8"/>
<rect x="564.6" y="163.6" width="4.8" height="4.8"/>
<rect x="587.8" y="171.9" width="4.8" height="4.8"/>
<rect x="556.4" y="214.3" width="4.8" height="4.8"/>
<rect x="598.7" y="186.6" width="4.8" height="4.8"/>
<rect x="620.3" y="176.2" width="4.8" height="4.8"/>
<rect x="591.8" y="229.3" width="4.8" height="4.8"/>
<rect x="584.9" y="181.9" width="4.8" height="4.8"/>
<rect x="622.2" y="146.8" width="4.8" height="4.8"/>
<rect x="602.3" y="131.4" width="4.8" height="4.8"/>
<rect x="617.5" y="170.2" width="4.8" height="4.8"/>
<rect x="553.2" y="184.4" width="4.8" height="4.8"/>
<rect x="580.5" y="176.1" width="4.8" height="4.8"/>
<rect x="613.8" y="157.5" width="4.8" height="4.8"/>
<rect x="585.0" y="172.4" width="4.8" height="4.8"/>
<rect x="598.2" y="194.1" width="4.8" height="4.8"/>
<rect x="594.4" y="192.4" width="4.8" height="4.8"/>
<rect x="621.5" y="143.5" width="4.8" height="4.8"/>
<rect x="599.1" y="191.3" width="4.8" height="4.8"/>
<rect x="601.4" y="125.8" width="4.8" height="4.8"/>
<rect x="639.1" y="216.1" width="4.8" height="4.8"/>
<rect x="545.9" y="209.6" width="4.8" height="4.8"/>
<rect x="609.9" y="198.3" width="4.8" height="4.8"/>
<rect x="600.0" y="178.0" width="4.8" height="4.8"/>
<rect x="642.8" y="214.3" width="4.8" height="4.8"/>
<rect x="548.0" y="221.0" width="4.8" height="4.8"/>
<rect x="570.6" y="145.1" width="4.8" height="4.8"/>
<rect x="608.0" y="176.9" width="4.8" height="4.8"/>
<rect x="541.1" y="214.7" width="4.8" height="4.8"/>
<rect x="604.6" y="228.5" width="4.8" height="4.8"/>
<rect x="608.5" y="206.3" width="4.8" height="4.8"/>
<rect x="576.9" y="199.6" width="4.8" height="4.8"/>
<rect x="540.4" y="213.8" width="4.8" height="4.8"/>
<rect x="560.4" y="183.0" width="4.8" height="4.8"/>
<rect x="554.8" y="200.2" width="4.8" height="4.8"/>
<rect x="598.7" y="218.3" width="4.8" height="4.8"/>
<rect x="556.8" y="186.2" width="4.8" height="4.8"/>
<rect x="570.3" y="191.4" width="4.8" height="4.8"/>
<rect x="595.6" y="158.1" width="4.8" height="4.8"/>
<rect x="576.2" y="133.9" width="4.8" height="4.8"/>
<rect x="631.4" y="204.0" width="4.8" height="4.8"/>
<rect x="623.8" y="140.5" width="4.8" height="4.8"/>
<rect x="576.8" y="182.6" width="4.8" height="4.8"/>
<rect x="590.3" y="160.9" width="4.8" height="4.8"/>
<rect x="592.2" y="166.7" width="4.8" height="4.8"/>
<rect x="605.1" y="165.7" width="4.8" height="4.8"/>
<rect x="607.3" y="157.5" width="4.8" height="4.8"/>
<rect x="551.5" y="201.8" width="4.8" height="4.8"/>
<rect x="561.0" y="199.0" width="4.8" height="4.8"/>
<rect x="618.6" y="225.0" width="4.8" height="4.8"/>
<rect x="606.2" y="148.1" width="4.8" height="4.8"/>
<rect x="601.4" y="136.1" width="4.8" height="4.8"/>
<rect x="582.6" y="171.4" width="4.8" height="4.8"/>
<rect x="600.2" y="170.7" width="4.8" height="4.8"/>
<rect x="618.3" y="143.7" width="4.8" height="4.8"/>
<rect x="634.3" y="192.7" width="4.8" height="4.8"/>
<rect x="601.5" y="224.0" width="4.8" height="4.8"/>
<rect x="595.5" y="155.8" width="4.8" height="4.8"/>
<rect x="605.9" y="201.4" width="4.8" height="4.8"/>
<rect x="555.5" y="205.6" width="4.8" height="4.8"/>
<rect x="586.8" y="216.9" width="4.8" height="4.8"/>
<rect x="568.3" y="193.7" width="4.8" height="4.8"/>
<rect x="578.0" y="205.8" width="4.8" height="4.8"/>
<rect x="643.8" y="208.3" width="4.8" height="4.8"/>
<rect x="611.6" y="120.1" width="4.8" height="4.8"/>
<rect x="527.1" y="214.6" width="4.8" height="4.8"/>
<rect x="633.6" y="181.7" width="4.8" height="4.8"/>
<rect x="603.0" y="184.4" width="4.8" height="4.8"/>
<rect x="548.5" y="189.9" width="4.8" height="4.8"/>
<rect x="622.5" y="184.1" width="4.8" height="4.8"/>
<rect x="576.9" y="211.7" width="4.8" height="4.8"/>
<rect x="568.4" y="194.2" width="4.8" height="4.8"/>
<rect x="639.0" y="217.6" width="4.8" height="4.8"/>
<rect x="579.7" y="228.0" width="4.8" height="4.8"/>
<rect x="625.2" y="145.0" width="4.8" height="4.8"/>
<rect x="595.4" y="148.7" width="4.8" height="4.8"/>
<rect x="621.4" y="182.0" width="4.8" height="4.8"/>
<rect x="636.1" y="216.2" width="4.8" height="4.8"/>
<rect x="604.9" y="220.6" width="4.8" height="4.8"/>
<rect x="594.9" y="148.2" width="4.8" height="4.8"/>
<rect x="620.7" y="202.9" width="4.8" height="4.8"/>
<rect x="601.7" y="150.9" width="4.8" height="4.8"/>
<rect x="642.4" y="217.3" width="4.8" height="4.8"/>
<rect x="579.3" y="172.1" width="4.8" height="4.8"/>
<rect x="548.6" y="203.3" width="4.8" height="4.8"/>
<rect x="604.0" y="134.5" width="4.8" height="4.8"/>
<rect x="632.9" y="219.0" width="4.8" height="4.8"/>
<rect x="593.3" y="193.3" width="4.8" height="4.8"/>
<rect x="598.5" y="210.2" width="4.8" height="4.8"/>
<rect x="596.1" y="126.6" width="4.8" height="4.8"/>
<rect x="539.0" y="206.1" width="4.8" height="4.8"/>
<rect x="543.5" y="211.3" width="4.8" height="4.8"/>
<rect x="590.3" y="171.8" width="4.8" height="4.8"/>
<rect x="573.5" y="146.6" width="4.8" height="4.8"/>
<rect x="589.9" y="178.8" width="4.8" height="4.8"/>
<rect x="611.9" y="180.5" width="4.8" height="4.8"/>
<rect x="620.4" y="177.5" width="4.8" height="4.8"/>
<rect x="566.3" y="174.3" width="4.8" height="4.8"/>
<rect x="605.6" y="142.5" width="4.8" height="4.8"/>
<rect x="599.9" y="193.0" width="4.8" height="4.8"/>
<rect x="619.7" y="181.9" width="4.8" height="4.8"/>
<rect x="601.9" y="136.4" width="4.8" height="4.8"/>
<rect x="591.5" y="193.9" width="4.8" height="4.8"/>
<rect x="596.2" y="225.0" width="4.8" height="4.8"/>
<rect x="590.8" y="187.1" width="4.8" height="4.8"/>
<rect x="572.2" y="205.0" width="4.8" height="4.8"/>
<rect x="565.1" y="155.1" width="4.8" height="4.8"/>
<rect x="547.1" y="185.3" width="4.8" height="4.8"/>
<rect x="643.8" y="191.2" width="4.8" height="4.8"/>
<rect x="547.8" y="186.9" width="4.8" height="4.8"/>
<rect x="609.7" y="185.5" width="4.8" height="4.8"/>
<rect x="626.3" y="201.9" width="4.8" height="4.8"/>
<rect x="623.4" y="137.8" width="4.8" height="4.8"/>
<rect x="607.1" y="121.7" width="4.8" height="4.8"/>
<rect x="571.0" y="152.7" width="4.8" height="4.8"/>
<rect x="620.6" y="175.8" width="4.8" height="4.8"/>
<rect x="610.2" y="224.8" width="4.8" height="4.8"/>
<rect x="620.6" y="198.1" width="4.8" height="4.8"/>
<rect x="574.1" y="186.6" width="4.8" height="4.8"/>
<rect x="642.5" y="182.8" width="4.8" height="4.8"/>
<rect x="606.1" y="189.2" width="4.8" height="4.8"/>
<rect x="577.2" y="223.9" width="4.8" height="4.8"/>
<rect x="592.4" y="176.4" width="4.8" height="4.8"/>
<rect x="583.2" y="197.0" width="4.8" height="4.8"/>
<rect x="582.1" y="207.1" width="4.8" height="4.8"/>
<rect x="632.7" y="179.3" width="4.8" height="4.8"/>
<rect x="586.1" y="229.9" width="4.8" height="4.8"/>
<rect x="582.8" y="160.1" width="4.8" height="4.8"/>
<rect x="578.6" y="143.6" width="4.8" height="4.8"/>
<rect x="621.9" y="218.9" width="4.8" height="4.8"/>
<rect x="598.2" y="136.4" width="4.8" height="4.8"/>
<rect x="551.8" y="189.4" width="4.8" height="4.8"/>
<rect x="564.5" y="158.4" width="4.8" height="4.8"/>
<rect x="627.6" y="187.8" width="4.8" height="4.8"/>
<rect x="594.0" y="129.1" width="4.8" height="4.8"/>
<rect x="605.4" y="186.9" width="4.8" height="4.8"/>
<rect x="628.4" y="179.7" width="4.8" height="4.8"/>
<rect x="641.5" y="217.4" width="4.8" height="4.8"/>
<rect x="601.3" y="194.1" width="4.8" height="4.8"/>
<rect x="590.9" y="198.5" width="4.8" height="4.8"/>
<rect x="601.3" y="130.0" width="4.8" height="4.8"/>
<rect x="612.6" y="120.1" width="4.8" height="4.8"/>
<rect x="565.6" y="192.3" width="4.8" height="4.8"/>
<rect x="650.3" y="213.9" width="4.8" height="4.8"/>
<rect x="607.6" y="180.0" width="4.8" height="4.8"/>
<rect x="588.0" y="213.8" width="4.8" height="4.8"/>
<rect x="624.3" y="199.8" width="4.8" height="4.8"/>
<rect x="648.4" y="207.9" width="4.8" height="4.8"/>
<rect x="649.0" y="186.1" width="4.8" height="4.8"/>
<rect x="593.0" y="148.2" width="4.8" height="4.8"/>
<rect x="618.4" y="224.9" width="4.8" height="4.8"/>
<rect x="598.9" y="224.3" width="4.8" height="4.8"/>
<rect x="576.0" y="156.1" width="4.8" height="4.8"/>
<rect x="626.4" y="185.3" width="4.8" height="4.8"/>
<rect x="609.4" y="214.1" width="4.8" height="4.8"/>
<rect x="558.1" y="196.9" width="4.8" height="4.8"/>
<rect x="615.8" y="180.7" width="4.8" height="4.8"/>
<rect x="613.2" y="191.5" width="4.8" height="4.8"/>
<rect x="610.0" y="188.2" width="4.8" height="4.8"/>
<rect x="641.2" y="192.2" width="4.8" height="4.8"/>
<rect x="568.7" y="172.6" width="4.8" height="4.8"/>
<rect x="591.6" y="151.9" width="4.8" height="4.8"/>
<rect x="593.4" y="133.2" width="4.8" height="4.8"/>
<rect x="592.0" y="163.2" width="4.8" height="4.8"/>
<rect x="576.5" y="145.0" width="4.8" height="4.8"/>
<rect x="643.6" y="189.0" width="4.8" height="4.8"/>
<rect x="581.7" y="197.9" width="4.8" height="4.8"/>
<rect x="528.9" y="218.1" width="4.8" height="4.8"/>
<rect x="584.8" y="180.0" width="4.8" height="4.8"/>
<rect x="606.5" y="230.7" width="4.8" height="4.8"/>
<rect x="616.2" y="156.1" width="4.8" height="4.8"/>
<rect x="580.9" y="178.7" width="4.8" height="4.8"/>
<rect x="636.8" y="216.0" width="4.8" height="4.8"/>
<rect x="600.7" y="198.9" width="4.8" height="4.8"/>
<rect x="609.5" y="139.2" width="4.8" height="4.8"/>
<rect x="598.0" y="156.0" width="4.8" height="4.8"/>
<rect x="541.7" y="219.6" width="4.8" height="4.8"/>
<rect x="643.5" y="206.4" width="4.8" height="4.8"/>
<rect x="550.0" y="215.4" width="4.8" height="4.8"/>
<rect x="550.8" y="199.4" width="4.8" height="4.8"/>
<rect x="597.2" y="141.1" width="4.8" height="4.8"/>
<rect x="577.6" y="162.0" width="4.8" height="4.8"/>
<rect x="622.2" y="190.4" width="4.8" height="4.8"/>
<rect x="629.7" y="212.5" width="4.8" height="4.8"/>
<rect x="574.6" y="161.0" width="4.8" height="4.8"/>
<rect x="530.7" y="218.7" width="4.8" height="4.8"/>
<rect x="620.5" y="198.0" width="4.8" height="4.8"/>
<rect x="559.0" y="192.8" width="4.8" height="4.8"/>
<rect x="576.4" y="181.9" width="4.8" height="4.8"/>
<rect x="596.9" y="160.7" width="4.8" height="4.8"/>
<rect x="621.1" y="131.2" width="4.8" height="4.8"/>
<rect x="620.4" y="168.1" width="4.8" height="4.8"/>
<rect x="570.3" y="140.0" width="4.8" height="4.8"/>
<rect x="600.4" y="217.9" width="4.8" height="4.8"/>
<rect x="618.9" y="139.5" width="4.8" height="4.8"/>
<rect x="621.1" y="156.0" width="4.8" height="4.8"/>
<rect x="611.5" y="161.0" width="4.8" height="4.8"/>
<rect x="568.3" y="224.6" width="4.8" height="4.8"/>
<rect x="555.3" y="201.1" width="4.8" height="4.8"/>
<rect x="637.3" y="187.4" width="4.8" height="4.8"/>
<rect x="597.1" y="210.5" width="4.8" height="4.8"/>
<rect x="539.0" y="216.8" width="4.8" height="4.8"/>
<rect x="597.1" y="178.2" width="4.8" height="4.8"/>
<rect x="587.2" y="171.5" width="4.8" height="4.8"/>
<rect x="587.6" y="208.9" width="4.8" height="4.8"/>
<rect x="583.5" y="180.2" width="4.8" height="4.8"/>
<rect x="581.9" y="168.6" width="4.8" height="4.8"/>
<rect x="550.3" y="185.2" width="4.8" height="4.8"/>
<rect x="579.0" y="155.6" width="4.8" height="4.8"/>
<rect x="573.5" y="201.6" width="4.8" height="4.8"/>
<rect x="562.5" y="208.3" width="4.8" height="4.8"/>
<rect x="569.8" y="172.4" width="4.8" height="4.8"/>
<rect x="619.9" y="185.7" width="4.8" height="4.8"/>
<rect x="623.1" y="131.8" width="4.8" height="4.8"/>
<rect x="608.2" y="181.5" width="4.8" height="4.8"/>
<rect x="611.1" y="163.2" width="4.8" height="4.8"/>
<rect x="587.1" y="229.7" width="4.8" height="4.8"/>
<rect x="569.1" y="210.3" width="4.8" height="4.8"/>
<rect x="595.5" y="144.3" width="4.8" height="4.8"/>
<rect x="560.0" y="218.1" width="4.8" height="4.8"/>
<rect x="629.8" y="219.9" width="4.8" height="4.8"/>
<rect x="571.3" y="178.9" width="4.8" height="4.8"/>
<rect x="616.1" y="190.1" width="4.8" height="4.8"/>
<rect x="576.0" y="175.4" width="4.8" height="4.8"/>
<rect x="572.2" y="152.9" width="4.8" height="4.8"/>
<rect x="596.0" y="234.5" width="4.8" height="4.8"/>
<rect x="596.8" y="196.0" width="4.8" height="4.8"/>
<rect x="568.4" y="199.0" width="4.8" height="4.8"/>
<rect x="619.1" y="133.8" width="4.8" height="4.8"/>
<rect x="569.1" y="217.0" width="4.8" height="4.8"/>
<rect x="597.9" y="203.2" width="4.8" height="4.8"/>
<rect x="581.4" y="219.6" width="4.8" height="4.8"/>
<rect x="591.6" y="207.5" width="4.8" height="4.8"/>
<rect x="578.9" y="164.4" width="4.8" height="4.8"/>
<rect x="596.5" y="185.1" width="4.8" height="4.8"/>
<rect x="621.5" y="166.3" width="4.8" height="4.8"/>
<rect x="564.0" y="201.5" width="4.8" height="4.8"/>
<rect x="627.8" y="216.2" width="4.8" height="4.8"/>
<rect x="610.7" y="164.1" width="4.8" height="4.8"/>
<rect x="548.2" y="191.1" width="4.8" height="4.8"/>
<rect x="631.0" y="198.7" width="4.8" height="4.8"/>
<rect x="626.6" y="211.5" width="4.8" height="4.8"/>
<rect x="598.9" y="150.6" width="4.8" height="4.8"/>
<rect x="576.0" y="148.6" width="4.8" height="4.8"/>
<rect x="595.9" y="179.6" width="4.8" height="4.8"/>
<rect x="592.4" y="161.6" width="4.8" height="4.8"/>
<rect x="570.6" y="199.4" width="4.8" height="4.8"/>
<rect x="555.3" y="220.8" width="4.8" height="4.8"/>
<rect x="620.8" y="181.0" width="4.8" height="4.8"/>
<rect x="633.7" y="190.6" width="4.8" height="4.8"/>
<rect x="587.8" y="168.4" width="4.8" height="4.8"/>
<rect x="570.8" y="198.1" width="4.8" height="4.8"/>
<rect x="574.4" y="179.3" width="4.8" height="4.8"/>
<rect x="570.6" y="202.7" width="4.8" height="4.8"/>
<rect x="527.9" y="218.5" width="4.8" height="4.8"/>
<rect x="608.7" y="190.7" width="4.8" height="4.8"/>
<rect x="579.8" y="133.0" width="4.8" height="4.8"/>
<rect x="582.0" y="194.0" width="4.8" height="4.8"/>
<rect x="605.5" y="192.8" width="4.8" height="4.8"/>
<rect x="565.7" y="186.8" width="4.8" height="4.8"/>
<rect x="574.0" y="209.4" width="4.8" height="4.8"/>
<rect x="606.9" y="199.0" width="4.8" height="4.8"/>
<rect x="599.4" y="143.9" width="4.8" height="4.8"/>
<rect x="571.9" y="138.4" width="4.8" height="4.8"/>
<rect x="621.0" y="175.3" width="4.8" height="4.8"/>
<rect x="587.1" y="165.0" width="4.8" height="4.8"/>
<rect x="592.8" y="186.1" width="4.8" height="4.8"/>
<rect x="572.3" y="225.2" width="4.8" height="4.8"/>
<rect x="575.4" y="167.0" width="4.8" height="4.8"/>
<rect x="619.4" y="165.9" width="4.8" height="4.8"/>
<rect x="597.5" y="225.8" width="4.8" height="4.8"/>
<rect x="583.9" y="167.1" width="4.8" height="4.8"/>
<rect x="569.4" y="140.7" width="4.8" height="4.8"/>
<rect x="631.1" y="193.3" width="4.8" height="4.8"/>
<rect x="575.8" y="210.6" width="4.8" height="4.8"/>
<rect x="635.6" y="180.5" width="4.8" height="4.8"/>
<rect x="596.1" y="126.8" width="4.8" height="4.8"/>
<rect x="623.5" y="135.5" width="4.8" height="4.8"/>
<rect x="606.7" y="156.1" width="4.8" height="4.8"/>
<rect x="579.8" y="216.0" width="4.8" height="4.8"/>
<rect x="588.7" y="171.8" width="4.8" height="4.8"/>
<rect x="576.4" y="153.1" width="4.8" height="4.8"/>
<rect x="585.7" y="155.5" width="4.8" height="4.8"/>
<rect x="610.5" y="127.0" width="4.8" height="4.8"/>
<rect x="599.2" y="141.3" width="4.8" height="4.8"/>
<rect x="625.7" y="184.3" width="4.8" height="4.8"/>
<rect x="545.1" y="216.0" width="4.8" height="4.8"/>
<rect x="550.1" y="200.4" width="4.8" height="4.8"/>
<rect x="555.8" y="205.1" width="4.8" height="4.8"/>
<rect x="576.0" y="226.1" width="4.8" height="4.8"/>
<rect x="585.9" y="227.5" width="4.8" height="4.8"/>
<rect x="538.9" y="209.2" width="4.8" height="4.8"/>
<rect x="607.5" y="167.1" width="4.8" height="4.8"/>
<rect x="586.8" y="211.5" width="4.8" height="4.8"/>
<rect x="574.7" y="155.4" width="4.8" height="4.8"/>
<rect x="571.3" y="184.7" width="4.8" height="4.8"/>
<rect x="570.2" y="178.8" width="4.8" height="4.8"/>
<rect x="559.2" y="182.0" width="4.8" height="4.8"/>
<rect x="646.2" y="215.9" width="4.8" height="4.8"/>
<rect x="591.9" y="175.3" width="4.8" height="4.8"/>
<rect x="601.4" y="212.7" width="4.8" height="4.8"/>
<rect x="586.9" y="128.3" width="4.8" height="4.8"/>
<rect x="630.6" y="182.7" width="4.8" height="4.8"/>
<rect x="615.0" y="190.4" width="4.8" height="4.8"/>
<rect x="555.7" y="210.6" width="4.8" height="4.8"/>
<rect x="642.9" y="187.8" width="4.8" height="4.8"/>
<rect x="577.2" y="197.8" width="4.8" height="4.8"/>
<rect x="524.9" y="215.9" width="4.8" height="4.8"/>
<rect x="598.1" y="183.7" width="4.8" height="4.8"/>
<rect x="578.8" y="200.6" width="4.8" height="4.8"/>
<rect x="640.3" y="211.4" width="4.8" height="4.8"/>
<rect x="586.0" y="228.3" width="4.8" height="4.8"/>
<rect x="618.3" y="136.9" width="4.8" height="4.8"/>
<rect x="556.7" y="193.7" width="4.8" height="4.8"/>
<rect x="645.6" y="215.7" width="4.8" height="4.8"/>
<rect x="592.8" y="148.6" width="4.8" height="4.8"/>
<rect x="575.1" y="217.5" width="4.8" height="4.8"/>
<rect x="548.4" y="190.1" width="4.8" height="4.8"/>
<rect x="560.0" y="223.5" width="4.8" height="4.8"/>
<rect x="631.6" y="202.5" width="4.8" height="4.8"/>
<rect x="604.3" y="121.1" width="4.8" height="4.8"/>
<rect x="558.5" y="181.3" width="4.8" height="4.8"/>
<rect x="600.9" y="124.0" width="4.8" height="4.8"/>
<rect x="581.4" y="203.9" width="4.8" height="4.8"/>
<rect x="601.2" y="144.3" width="4.8" height="4.8"/>
<rect x="550.5" y="193.5" width="4.8" height="4.8"/>
<rect x="601.6" y="145.7" width="4.8" height="4.8"/>
<rect x="611.5" y="167.2" width="4.8" height="4.8"/>
<rect x="573.0" y="210.7" width="4.8" height="4.8"/>
<rect x="552.4" y="185.1" width="4.8" height="4.8"/>
<rect x="624.8" y="126.6" width="4.8" height="4.8"/>
<rect x="648.1" y="208.2" width="4.8" height="4.8"/>
<rect x="574.9" y="221.1" width="4.8" height="4.8"/>
<rect x="627.2" y="211.7" width="4.8" height="4.8"/>
<rect x="607.3" y="170.8" width="4.8" height="4.8"/>
<rect x="577.2" y="172.6" width="4.8" height="4.8"/>
<rect x="602.0" y="188.7" width="4.8" height="4.8"/>
<rect x="595.4" y="164.1" width="4.8" height="4.8"/>
<rect x="608.4" y="142.1" width="4.8" height="4.8"/>
<rect x="603.0" y="142.9" width="4.8" height="4.8"/>
<rect x="629.9" y="194.5" width="4.8" height="4.8"/>
<rect x="607.0" y="144.3" width="4.8" height="4.8"/>
<rect x="594.0" y="164.8" width="4.8" height="4.8"/>
<rect x="610.8" y="156.7" width="4.8" height="4.8"/>
<rect x="547.9" y="221.3" width="4.8" height="4.8"/>
<rect x="583.0" y="185.0" width="4.8" height="4.8"/>
<rect x="625.2" y="147.4" width="4.8" height="4.8"/>
<rect x="557.9" y="209.8" width="4.8" height="4.8"/>
<rect x="598.0" y="178.7" width="4.8" height="4.8"/>
<rect x="597.5" y="154.3" width="4.8" height="4.8"/>
<rect x="592.8" y="211.6" width="4.8" height="4.8"/>
<rect x="589.6" y="186.1" width="4.8" height="4.8"/>
<rect x="543.5" y="217.4" width="4.8" height="4.8"/>
<rect x="645.6" y="179.7" width="4.8" height="4.8"/>
<rect x="648.4" y="185.3" width="4.8" height="4.8"/>
<rect x="605.4" y="139.3" width="4.8" height="4.8"/>
<rect x="573.2" y="135.7" width="4.8" height="4.8"/>
<rect x="608.0" y="175.0" width="4.8" height="4.8"/>
<rect x="619.8" y="127.3" width="4.8" height="4.8"/>
<rect x="604.2" y="196.5" width="4.8" height="4.8"/>
<rect x="593.1" y="147.9" width="4.8" height="4.8"/>
<rect x="608.2" y="151.1" width="4.8" height="4.8"/>
<rect x="574.3" y="200.6" width="4.8" height="4.8"/>
<rect x="569.6" y="159.2" width="4.8" height="4.8"/>
<rect x="592.9" y="151.8" width="4.8" height="4.8"/>
<rect x="582.8" y="179.0" width="4.8" height="4.8"/>
<rect x="625.2" y="153.9" width="4.8" height="4.8"/>
<rect x="569.1" y="180.3" width="4.8" height="4.8"/>
<rect x="627.6" y="181.1" width="4.8" height="4.8"/>
<rect x="578.0" y="204.5" width="4.8" height="4.8"/>
<rect x="599.0" y="176.5" width="4.8" height="4.8"/>
<rect x="549.6" y="198.3" width="4.8" height="4.8"/>
<rect x="611.7" y="142.9" width="4.8" height="4.8"/>
<rect x="557.8" y="223.2" width="4.8" height="4.8"/>
<rect x="571.3" y="173.8" width="4.8" height="4.8"/>
<rect x="611.8" y="200.9" width="4.8" height="4.8"/>
<rect x="620.3" y="181.1" width="4.8" height="4.8"/>
<rect x="576.6" y="222.0" width="4.8" height="4.8"/>
<rect x="540.1" y="217.0" width="4.8" height="4.8"/>
<rect x="616.3" y="199.1" width="4.8" height="4.8"/>
<rect x="641.7" y="218.2" width="4.8" height="4.8"/>
<rect x="607.1" y="177.8" width="4.8" height="4.8"/>
<rect x="609.9" y="162.4" width="4.8" height="4.8"/>
<rect x="606.4" y="149.7" width="4.8" height="4.8"/>
<rect x="597.0" y="177.0" width="4.8" height="4.8"/>
<rect x="608.9" y="208.9" width="4.8" height="4.8"/>
<rect x="648.5" y="186.4" width="4.8" height="4.8"/>
<rect x="579.3" y="210.5" width="4.8" height="4.8"/>
<rect x="590.1" y="207.0" width="4.8" height="4.8"/>
<rect x="638.1" y="202.5" width="4.8" height="4.8"/>
<rect x="608.8" y="222.1" width="4.8" height="4.8"/>
<rect x="611.4" y="225.9" width="4.8" height="4.8"/>
<rect x="611.1" y="171.1" width="4.8" height="4.8"/>
<rect x="602.4" y="139.7" width="4.8" height="4.8"/>
<rect x="622.0" y="145.7" width="4.8" height="4.8"/>
<rect x="544.5" y="200.3" width="4.8" height="4.8"/>
<rect x="595.6" y="187.3" width="4.8" height="4.8"/>
<rect x="645.4" y="184.3" width="4.8" height="4.8"/>
<rect x="634.4" y="183.3" width="4.8" height="4.8"/>
<rect x="590.0" y="203.8" width="4.8" height="4.8"/>
<rect x="625.0" y="195.5" width="4.8" height="4.8"/>
<rect x="613.1" y="164.9" width="4.8" height="4.8"/>
<rect x="563.7" y="181.4" width="4.8" height="4.8"/>
<rect x="595.9" y="134.8" width="4.8" height="4.8"/>
<rect x="640.6" y="210.0" width="4.8" height="4.8"/>
<rect x="641.1" y="179.1" width="4.8" height="4.8"/>
<rect x="568.9" y="222.0" width="4.8" height="4.8"/>
<rect x="610.4" y="169.2" width="4.8" height="4.8"/>
<rect x="627.7" y="188.1" width="4.8" height="4.8"/>
<rect x="616.7" y="143.3" width="4.8" height="4.8"/>
<rect x="614.2" y="161.3" width="4.8" height="4.8"/>
<rect x="564.9" y="218.0" width="4.8" height="4.8"/>
<rect x="625.0" y="153.2" width="4.8" height="4.8"/>
<rect x="587.7" y="153.2" width="4.8" height="4.8"/>
<rect x="601.5" y="124.5" width="4.8" height="4.8"/>
<rect x="629.2" y="216.0" width="4.8" height="4.8"/>
<rect x="583.4" y="161.0" width="4.8" height="4.8"/>
<rect x="646.1" y="184.5" width="4.8" height="4.8"/>
<rect x="541.3" y="198.5" width="4.8" height="4.8"/>
<rect x="611.9" y="198.6" width="4.8" height="4.8"/>
<rect x="587.6" y="190.5" width="4.8" height="4.8"/>
<rect x="607.0" y="205.2" width="4.8" height="4.8"/>
<rect x="581.6" y="189.7" width="4.8" height="4.8"/>
<rect x="576.2" y="197.2" width="4.8" height="4.8"/>
<rect x="605.1" y="178.0" width="4.8" height="4.8"/>
<rect x="560.5" y="206.7" width="4.8" height="4.8"/>
<rect x="606.9" y="178.6" width="4.8" height="4.8"/>
<rect x="624.7" y="152.1" width="4.8" height="4.8"/>
<rect x="572.7" y="195.0" width="4.8" height="4.8"/>
<rect x="580.5" y="165.4" width="4.8" height="4.8"/>
<rect x="613.8" y="122.6" width="4.8" height="4.8"/>
<rect x="621.4" y="140.4" width="4.8" height="4.8"/>
<rect x="598.1" y="146.5" width="4.8" height="4.8"/>
<rect x="577.2" y="193.6" width="4.8" height="4.8"/>
<rect x="590.8" y="169.7" width="4.8" height="4.8"/>
<rect x="587.9" y="230.2" width="4.8" height="4.8"/>
<rect x="617.9" y="186.7" width="4.8" height="4.8"/>
<rect x="611.8" y="218.3" width="4.8" height="4.8"/>
<rect x="581.6" y="224.1" width="4.8" height="4.8"/>
<rect x="561.4" y="206.7" width="4.8" height="4.8"/>
<rect x="587.7" y="141.8" width="4.8" height="4.8"/>
<rect x="607.8" y="180.9" width="4.8" height="4.8"/>
<rect x="619.0" y="183.4" width="4.8" height="4.8"/>
<rect x="573.8" y="150.0" width="4.8" height="4.8"/>
<rect x="638.3" y="208.0" width="4.8" height="4.8"/>
<rect x="628.9" y="189.5" width="4.8" height="4.8"/>
<rect x="620.4" y="142.4" width="4.8" height="4.8"/>
<rect x="592.6" y="202.3" width="4.8" height="4.8"/>
<rect x="645.5" y="186.5" width="4.8" height="4.8"/>
<rect x="641.9" y="198.3" width="4.8" height="4.8"/>
<rect x="641.1" y="198.0" width="4.8" height="4.8"/>
<rect x="625.2" y="122.6" width="4.8" height="4.8"/>
<rect x="544.0" y="210.3" width="4.8" height="4.8"/>
<rect x="605.1" y="228.4" width="4.8" height="4.8"/>
<rect x="608.8" y="181.5" width="4.8" height="4.8"/>
<rect x="606.7" y="207.2" width="4.8" height="4.8"/>
<rect x="565.1" y="206.1" width="4.8" height="4.8"/>
<rect x="582.9" y="230.1" width="4.8" height="4.8"/>
<rect x="648.4" y="182.1" width="4.8" height="4.8"/>
<rect x="608.0" y="158.3" width="4.8" height="4.8"/>
<rect x="598.0" y="185.6" width="4.8" height="4.8"/>
<rect x="640.1" y="208.3" width="4.8" height="4.8"/>
<rect x="597.7" y="121.8" width="4.8" height="4.8"/>
<rect x="617.8" y="158.8" width="4.8" height="4.8"/>
<rect x="644.1" y="208.1" width="4.8" height="4.8"/>
<rect x="580.3" y="170.7" width="4.8" height="4.8"/>
<rect x="571.7" y="146.8" width="4.8" height="4.8"/>
<rect x="543.7" y="206.7" width="4.8" height="4.8"/>
<rect x="617.7" y="216.8" width="4.8" height="4.8"/>
<rect x="592.8" y="162.2" width="4.8" height="4.8"/>
<rect x="587.5" y="136.2" width="4.8" height="4.8"/>
<rect x="610.4" y="190.1" width="4.8" height="4.8"/>
<rect x="602.1" y="125.5" width="4.8" height="4.8"/>
<rect x="589.1" y="159.6" width="4.8" height="4.8"/>
<rect x="616.2" y="123.7" width="4.8" height="4.8"/>
<rect x="634.0" y="210.5" width="4.8" height="4.8"/>
<rect x="599.3" y="226.9" width="4.8" height="4.8"/>
<rect x="640.4" y="198.2" width="4.8" height="4.8"/>
<rect x="613.0" y="159.3" width="4.8" height="4.8"/>
<rect x="622.0" y="141.7" width="4.8" height="4.8"/>
<rect x="599.6" y="180.0" width="4.8" height="4.8"/>
<rect x="570.7" y="147.6" width="4.8" height="4.8"/>
<rect x="603.3" y="200.8" width="4.8" height="4.8"/>
<rect x="539.5" y="195.6" width="4.8" height="4.8"/>
<rect x="646.1" y="212.3" width="4.8" height="4.8"/>
<rect x="609.9" y="164.9" width="4.8" height="4.8"/>
<rect x="608.1" y="122.6" width="4.8" height="4.8"/>
<rect x="590.7" y="193.6" width="4.8" height="4.8"/>
<rect x="616.3" y="127.0" width="4.8" height="4.8"/>
<rect x="617.4" y="227.0" width="4.8" height="4.8"/>
<rect x="612.2" y="123.7" width="4.8" height="4.8"/>
<rect x="596.7" y="122.3" width="4.8" height="4.8"/>
<rect x="613.3" y="207.0" width="4.8" height="4.8"/>
<rect x="612.1" y="211.9" width="4.8" height="4.8"/>
<rect x="605.0" y="181.1" width="4.8" height="4.8"/>
<rect x="650.1" y="213.5" width="4.8" height="4.8"/>
<rect x="610.1" y="142.6" width="4.8" height="4.8"/>
<rect x="609.3" y="205.1" width="4.8" height="4.8"/>
<rect x="564.7" y="177.5" width="4.8" height="4.8"/>
<rect x="595.8" y="130.5" width="4.8" height="4.8"/>
<rect x="572.6" y="170.0" width="4.8" height="4.8"/>
<rect x="609.4" y="172.4" width="4.8" height="4.8"/>
<rect x="548.4" y="217.7" width="4.8" height="4.8"/>
<rect x="620.2" y="203.1" width="4.8" height="4.8"/>
<rect x="583.0" y="213.1" width="4.8" height="4.8"/>
<rect x="561.6" y="214.5" width="4.8" height="4.8"/>
<rect x="593.2" y="165.0" width="4.8" height="4.8"/>
<rect x="548.8" y="218.9" width="4.8" height="4.8"/>
<rect x="601.8" y="133.2" width="4.8" height="4.8"/>
<rect x="574.5" y="227.1" width="4.8" height="4.8"/>
<rect x="619.0" y="151.5" width="4.8" height="4.8"/>
<rect x="588.5" y="149.9" width="4.8" height="4.8"/>
<rect x="614.6" y="182.9" width="4.8" height="4.8"/>
<rect x="587.0" y="148.2" width="4.8" height="4.8"/>
<rect x="569.3" y="208.1" width="4.8" height="4.8"/>
<rect x="625.5" y="174.4" width="4.8" height="4.8"/>
<rect x="590.7" y="164.8" width="4.8" height="4.8"/>
<rect x="602.1" y="179.5" width="4.8" height="4.8"/>
<rect x="601.4" y="224.2" width="4.8" height="4.8"/>
<rect x="605.4" y="204.6" width="4.8" height="4.8"/>
<rect x="552.9" y="200.1" width="4.8" height="4.8"/>
<rect x="580.0" y="212.2" width="4.8" height="4.8"/>
<rect x="566.4" y="177.7" width="4.8" height="4.8"/>
<rect x="606.5" y="184.3" width="4.8" height="4.8"/>
<rect x="576.8" y="183.4" width="4.8" height="4.8"/>
<rect x="607.5" y="146.2" width="4.8" height="4.8"/>
<rect x="550.1" y="211.9" width="4.8" height="4.8"/>
<rect x="600.8" y="228.3" width="4.8" height="4.8"/>
<rect x="608.5" y="226.1" width="4.8" height="4.8"/>
<rect x="600.0" y="205.0" width="4.8" height="4.8"/>
<rect x="545.3" y="193.3" width="4.8" height="4.8"/>
<rect x="639.5" y="215.6" width="4.8" height="4.8"/>
<rect x="600.0" y="156.3" width="4.8" height="4.8"/>
<rect x="631.0" y="191.1" width="4.8" height="4.8"/>
<rect x="622.5" y="215.9" width="4.8" height="4.8"/>
<rect x="616.8" y="225.9" width="4.8" height="4.8"/>
<rect x="611.7" y="183.3" width="4.8" height="4.8"/>
<rect x="595.8" y="122.7" width="4.8" height="4.8"/>
<rect x="621.0" y="184.4" width="4.8" height="4.8"/>
<rect x="571.8" y="193.3" width="4.8" height="4.8"/>
<rect x="612.6" y="201.7" width="4.8" height="4.8"/>
<rect x="614.3" y="208.6" width="4.8" height="4.8"/>
<rect x="600.2" y="202.5" width="4.8" height="4.8"/>
<rect x="578.3" y="172.3" width="4.8" height="4.8"/>
<rect x="629.8" y="205.8" width="4.8" height="4.8"/>
<rect x="608.6" y="138.8" width="4.8" height="4.8"/>
<rect x="563.5" y="186.6" width="4.8" height="4.8"/>
<rect x="564.2" y="174.5" width="4.8" height="4.8"/>
<rect x="621.7" y="166.9" width="4.8" height="4.8"/>
<rect x="594.7" y="168.5" width="4.8" height="4.8"/>
<rect x="642.1" y="216.1" width="4.8" height="4.8"/>
<rect x="624.5" y="183.8" width="4.8" height="4.8"/>
<rect x="572.5" y="158.4" width="4.8" height="4.8"/>
<rect x="559.1" y="201.1" width="4.8" height="4.8"/>
<rect x="594.3" y="170.1" width="4.8" height="4.8"/>
<rect x="607.4" y="197.4" width="4.8" height="4.8"/>
<rect x="571.2" y="188.3" width="4.8" height="4.8"/>
<rect x="601.4" y="157.5" width="4.8" height="4.8"/>
<rect x="616.0" y="210.5" width="4.8" height="4.8"/>
<rect x="606.2" y="149.6" width="4.8" height="4.8"/>
<rect x="582.0" y="177.4" width="4.8" height="4.8"/>
<rect x="590.4" y="190.4" width="4.8" height="4.8"/>
<rect x="566.2" y="175.3" width="4.8" height="4.8"/>
<rect x="565.6" y="140.7" width="4.8" height="4.8"/>
<rect x="607.8" y="203.7" width="4.8" height="4.8"/>
<rect x="595.0" y="152.1" width="4.8" height="4.8"/>
<rect x="598.6" y="177.8" width="4.8" height="4.8"/>
<rect x="577.8" y="193.4" width="4.8" height="4.8"/>
<rect x="580.3" y="170.4" width="4.8" height="4.8"/>
<rect x="576.2" y="162.1" width="4.8" height="4.8"/>
<rect x="550.1" y="187.0" width="4.8" height="4.8"/>
<rect x="539.9" y="208.0" width="4.8" height="4.8"/>
<rect x="618.1" y="121.2" width="4.8" height="4.8"/>
<rect x="554.7" y="212.5" width="4.8" height="4.8"/>
<rect x="552.9" y="194.1" width="4.8" height="4.8"/>
<rect x="570.5" y="139.1" width="4.8" height="4.8"/>
<rect x="591.2" y="226.3" width="4.8" height="4.8"/>
<rect x="624.8" y="125.7" width="4.8" height="4.8"/>
<rect x="596.1" y="168.0" width="4.8" height="4.8"/>
<rect x="609.0" y="207.4" width="4.8" height="4.8"/>
<rect x="581.7" y="189.5" width="4.8" height="4.8"/>
<rect x="562.2" y="223.1" width="4.8" height="4.8"/>
<rect x="612.2" y="174.6" width="4.8" height="4.8"/>
<rect x="590.2" y="173.8" width="4.8" height="4.8"/>
<rect x="601.9" y="230.0" width="4.8" height="4.8"/>
<rect x="590.2" y="151.3" width="4.8" height="4.8"/>
<rect x="591.8" y="192.0" width="4.8" height="4.8"/>
<rect x="596.4" y="206.9" width="4.8" height="4.8"/>
<rect x="544.3" y="195.7" width="4.8" height="4.8"/>
<rect x="553.0" y="195.6" width="4.8" height="4.8"/>
<rect x="610.8" y="194.2" width="4.8" height="4.8"/>
<rect x="620.8" y="145.1" width="4.8" height="4.8"/>
<rect x="618.4" y="189.5" width="4.8" height="4.8"/>
<rect x="587.4" y="185.4" width="4.8" height="4.8"/>
<rect x="648.2" y="188.0" width="4.8" height="4.8"/>
<rect x="564.9" y="195.4" width="4.8" height="4.8"/>
<rect x="592.4" y="217.0" width="4.8" height="4.8"/>
<rect x="548.7" y="209.4" width="4.8" height="4.8"/>
<rect x="596.5" y="185.4" width="4.8" height="4.8"/>
<rect x="567.6" y="187.7" width="4.8" height="4.8"/>
<rect x="550.3" y="219.5" width="4.8" height="4.8"/>
<rect x="592.9" y="129.0" width="4.8" height="4.8"/>
<rect x="574.8" y="217.2" width="4.8" height="4.8"/>
<rect x="556.6" y="187.8" width="4.8" height="4.8"/>
<rect x="627.7" y="206.7" width="4.8" height="4.8"/>
<rect x="606.9" y="172.0" width="4.8" height="4.8"/>
<rect x="568.9" y="200.0" width="4.8" height="4.8"/>
<rect x="635.4" y="193.6" width="4.8" height="4.8"/>
<rect x="606.2" y="224.6" width="4.8" height="4.8"/>
<rect x="546.9" y="184.8" width="4.8" height="4.8"/>
<rect x="601.1" y="131.4" width="4.8" height="4.8"/>
<rect x="641.5" y="186.7" width="4.8" height="4.8"/>
<rect x="630.4" y="178.8" width="4.8" height="4.8"/>
<rect x="562.3" y="191.6" width="4.8" height="4.8"/>
<rect x="600.8" y="197.6" width="4.8" height="4.8"/>
<rect x="644.8" y="218.2" width="4.8" height="4.8"/>
<rect x="638.2" y="200.7" width="4.8" height="4.8"/>
<rect x="595.4" y="178.6" width="4.8" height="4.8"/>
<rect x="615.2" y="227.2" width="4.8" height="4.8"/>
<rect x="618.0" y="129.6" width="4.8" height="4.8"/>
<rect x="609.6" y="192.0" width="4.8" height="4.8"/>
<rect x="596.9" y="179.6" width="4.8" height="4.8"/>
<rect x="618.8" y="131.3" width="4.8" height="4.8"/>
<rect x="639.4" y="208.2" width="4.8" height="4.8"/>
<rect x="619.6" y="184.0" width="4.8" height="4.8"/>
<rect x="579.9" y="156.6" width="4.8" height="4.8"/>
<rect x="578.1" y="170.4" width="4.8" height="4.8"/>
<rect x="630.8" y="185.5" width="4.8" height="4.8"/>
<rect x="612.7" y="187.6" width="4.8" height="4.8"/>
<rect x="598.2" y="203.5" width="4.8" height="4.8"/>
<rect x="612.1" y="179.2" width="4.8" height="4.8"/>
<rect x="640.5" y="193.7" width="4.8" height="4.8"/>
<rect x="586.3" y="154.3" width="4.8" height="4.8"/>
<rect x="625.4" y="162.2" width="4.8" height="4.8"/>
<rect x="556.1" y="222.1" width="4.8" height="4.8"/>
<rect x="610.8" y="210.8" width="4.8" height="4.8"/>
<rect x="581.7" y="213.5" width="4.8" height="4.8"/>
<rect x="582.3" y="170.4" width="4.8" height="4.8"/>
<rect x="611.0" y="226.1" width="4.8" height="4.8"/>
<rect x="563.4" y="206.9" width="4.8" height="4.8"/>
<rect x="575.0" y="163.1" width="4.8" height="4.8"/>
<rect x="593.8" y="152.8" width="4.8" height="4.8"/>
<rect x="620.8" y="178.1" width="4.8" height="4.8"/>
<rect x="615.0" y="127.2" width="4.8" height="4.8"/>
<rect x="575.5" y="159.3" width="4.8" height="4.8"/>
<rect x="616.3" y="168.2" width="4.8" height="4.8"/>
<rect x="558.9" y="181.4" width="4.8" height="4.8"/>
<rect x="565.1" y="152.0" width="4.8" height="4.8"/>
<rect x="613.1" y="201.9" width="4.8" height="4.8"/>
<rect x="576.0" y="217.9" width="4.8" height="4.8"/>
<rect x="625.0" y="223.6" width="4.8" height="4.8"/>
<rect x="592.9" y="215.7" width="4.8" height="4.8"/>
<rect x="619.6" y="184.5" width="4.8" height="4.8"/>
<rect x="606.5" y="213.9" width="4.8" height="4.8"/>
<rect x="623.4" y="147.8" width="4.8" height="4.8"/>
<rect x="618.8" y="198.6" width="4.8" height="4.8"/>
<rect x="639.6" y="197.7" width="4.8" height="4.8"/>
<rect x="543.2" y="204.0" width="4.8" height="4.8"/>
<rect x="614.7" y="195.9" width="4.8" height="4.8"/>
<rect x="584.8" y="145.9" width="4.8" height="4.8"/>
<rect x="652.0" y="213.7" width="4.8" height="4.8"/>
<rect x="601.7" y="155.5" width="4.8" height="4.8"/>
<rect x="608.5" y="149.2" width="4.8" height="4.8"/>
<rect x="599.0" y="167.7" width="4.8" height="4.8"/>
<rect x="548.0" y="207.1" width="4.8" height="4.8"/>
<rect x="590.9" y="216.8" width="4.8" height="4.8"/>
<rect x="575.8" y="216.8" width="4.8" height="4.8"/>
<rect x="589.8" y="150.2" width="4.8" height="4.8"/>
<rect x="583.2" y="212.3" width="4.8" height="4.8"/>
<rect x="571.7" y="187.4" width="4.8" height="4.8"/>
<rect x="608.7" y="230.2" width="4.8" height="4.8"/>
<rect x="603.7" y="219.2" width="4.8" height="4.8"/>
<rect x="618.8" y="166.6" width="4.8" height="4.8"/>
<rect x="641.4" y="183.1" width="4.8" height="4.8"/>
<rect x="608.1" y="122.8" width="4.8" height="4.8"/>
<rect x="559.0" y="188.4" width="4.8" height="4.8"/>
<rect x="606.8" y="134.0" width="4.8" height="4.8"/>
<rect x="569.2" y="144.7" width="4.8" height="4.8"/>
<rect x="597.4" y="142.0" width="4.8" height="4.8"/>
<rect x="620.3" y="159.7" width="4.8" height="4.8"/>
<rect x="575.0" y="209.0" width="4.8" height="4.8"/>
<rect x="594.5" y="185.2" width="4.8" height="4.8"/>
<rect x="575.9" y="144.2" width="4.8" height="4.8"/>
<rect x="616.9" y="204.1" width="4.8" height="4.8"/>
<rect x="575.8" y="151.4" width="4.8" height="4.8"/>
<rect x="581.0" y="197.2" width="4.8" height="4.8"/>
<rect x="565.0" y="202.5" width="4.8" height="4.8"/>
<rect x="569.4" y="167.3" width="4.8" height="4.8"/>
<rect x="610.1" y="148.5" width="4.8" height="4.8"/>
<rect x="575.6" y="180.6" width="4.8" height="4.8"/>
<rect x="595.1" y="136.2" width="4.8" height="4.8"/>
<rect x="582.2" y="197.7" width="4.8" height="4.8"/>
<rect x="632.2" y="203.9" width="4.8" height="4.8"/>
<rect x="611.9" y="147.1" width="4.8" height="4.8"/>
<rect x="598.3" y="167.7" width="4.8" height="4.8"/>
<rect x="572.3" y="146.3" width="4.8" height="4.8"/>
<rect x="651.2" y="181.4" width="4.8" height="4.8"/>
<rect x="586.7" y="185.3" width="4.8" height="4.8"/>
<rect x="608.5" y="206.0" width="4.8" height="4.8"/>
<rect x="595.3" y="213.9" width="4.8" height="4.8"/>
<rect x="601.9" y="145.3" width="4.8" height="4.8"/>
<rect x="597.3" y="165.3" width="4.8" height="4.8"/>
<rect x="628.1" y="185.1" width="4.8" height="4.8"/>
<rect x="594.7" y="196.2" width="4.8" height="4.8"/>
<rect x="613.1" y="195.6" width="4.8" height="4.8"/>
<rect x="610.2" y="124.2" width="4.8" height="4.8"/>
<rect x="623.6" y="127.3" width="4.8" height="4.8"/>
<rect x="588.2" y="158.6" width="4.8" height="4.8"/>
<rect x="615.3" y="183.4" width="4.8" height="4.8"/>
<rect x="539.7" y="214.5" width="4.8" height="4.8"/>
<rect x="619.0" y="128.3" width="4.8" height="4.8"/>
<rect x="620.1" y="175.7" width="4.8" height="4.8"/>
<rect x="547.6" y="189.6" width="4.8" height="4.8"/>
<rect x="595.6" y="137.7" width="4.8" height="4.8"/>
<rect x="592.2" y="171.8" width="4.8" height="4.8"/>
<rect x="628.6" y="209.7" width="4.8" height="4.8"/>
<rect x="570.2" y="190.0" width="4.8" height="4.8"/>
<rect x="594.0" y="206.1" width="4.8" height="4.8"/>
<rect x="549.2" y="195.1" width="4.8" height="4.8"/>
<rect x="600.5" y="226.3" width="4.8" height="4.8"/>
<rect x="549.5" y="203.6" width="4.8" height="4.8"/>
<rect x="619.3" y="154.2" width="4.8" height="4.8"/>
<rect x="595.1" y="200.8" width="4.8" height="4.8"/>
<rect x="538.6" y="206.2" width="4.8" height="4.8"/>
<rect x="563.9" y="213.5" width="4.8" height="4.8"/>
<rect x="579.8" y="133.1" width="4.8" height="4.8"/>
<rect x="606.9" y="227.8" width="4.8" height="4.8"/>
<rect x="574.7" y="192.7" width="4.8" height="4.8"/>
<rect x="629.8" y="193.1" width="4.8" height="4.8"/>
<rect x="557.4" y="184.5" width="4.8" height="4.8"/>
<rect x="605.0" y="229.7" width="4.8" height="4.8"/>
<rect x="623.6" y="143.5" width="4.8" height="4.8"/>
<rect x="646.0" y="207.8" width="4.8" height="4.8"/>
<rect x="594.6" y="140.0" width="4.8" height="4.8"/>
<rect x="576.8" y="169.7" width="4.8" height="4.8"/>
<rect x="595.3" y="204.1" width="4.8" height="4.8"/>
<rect x="598.6" y="163.6" width="4.8" height="4.8"/>
<rect x="607.9" y="144.6" width="4.8" height="4.8"/>
<rect x="595.7" y="177.5" width="4.8" height="4.8"/>
<rect x="606.3" y="230.2" width="4.8" height="4.8"/>
<rect x="571.5" y="156.0" width="4.8" height="4.8"/>
<rect x="598.1" y="149.3" width="4.8" height="4.8"/>
<rect x="587.1" y="129.0" width="4.8" height="4.8"/>
<rect x="616.9" y="188.3" width="4.8" height="4.8"/>
<rect x="593.7" y="161.1" width="4.8" height="4.8"/>
<rect x="564.4" y="198.6" width="4.8" height="4.8"/>
<rect x="585.7" y="135.5" width="4.8" height="4.8"/>
<rect x="643.2" y="185.6" width="4.8" height="4.8"/>
<rect x="575.1" y="199.2" width="4.8" height="4.8"/>
<rect x="553.8" y="209.0" width="4.8" height="4.8"/>
<rect x="618.0" y="182.5" width="4.8" height="4.8"/>
<rect x="615.9" y="122.1" width="4.8" height="4.8"/>
<rect x="602.4" y="220.3" width="4.8" height="4.8"/>
<rect x="559.6" y="201.6" width="4.8" height="4.8"/>
<rect x="614.4" y="189.5" width="4.8" height="4.8"/>
<rect x="592.1" y="130.8" width="4.8" height="4.8"/>
<rect x="538.9" y="205.1" width="4.8" height="4.8"/>
<rect x="633.4" y="218.7" width="4.8" height="4.8"/>
<rect x="615.2" y="121.8" width="4.8" height="4.8"/>
<rect x="602.7" y="193.4" width="4.8" height="4.8"/>
<rect x="595.3" y="158.4" width="4.8" height="4.8"/>
<rect x="618.0" y="222.6" width="4.8" height="4.8"/>
<rect x="603.2" y="198.6" width="4.8" height="4.8"/>
<rect x="602.4" y="204.9" width="4.8" height="4.8"/>
<rect x="587.7" y="230.6" width="4.8" height="4.8"/>
<rect x="582.8" y="216.7" width="4.8" height="4.8"/>
<rect x="569.7" y="185.3" width="4.8" height="4.8"/>
<rect x="558.6" y="192.4" width="4.8" height="4.8"/>
<rect x="615.0" y="147.0" width="4.8" height="4.8"/>
<rect x="606.4" y="219.1" width="4.8" height="4.8"/>
<rect x="627.1" y="193.5" width="4.8" height="4.8"/>
<rect x="586.5" y="205.2" width="4.8" height="4.8"/>
<rect x="594.8" y="207.4" width="4.8" height="4.8"/>
<rect x="623.7" y="178.9" width="4.8" height="4.8"/>
<rect x="589.8" y="222.8" width="4.8" height="4.8"/>
<rect x="655.0" y="183.6" width="4.8" height="4.8"/>
<rect x="577.3" y="154.2" width="4.8" height="4.8"/>
<rect x="603.9" y="153.6" width="4.8" height="4.8"/>
<rect x="582.5" y="169.9" width="4.8" height="4.8"/>
<rect x="586.2" y="129.8" width="4.8" height="4.8"/>
<rect x="590.7" y="180.1" width="4.8" height="4.8"/>
<rect x="609.8" y="204.6" width="4.8" height="4.8"/>
<rect x="569.7" y="197.8" width="4.8" height="4.8"/>
<rect x="585.6" y="188.0" width="4.8" height="4.8"/>
<rect x="619.4" y="189.0" width="4.8" height="4.8"/>
<rect x="559.9" y="203.3" width="4.8" height="4.8"/>
<rect x="551.8" y="191.4" width="4.8" height="4.8"/>
<rect x="571.7" y="149.9" width="4.8" height="4.8"/>
<rect x="599.1" y="123.9" width="4.8" height="4.8"/>
<rect x="622.7" y="172.4" width="4.8" height="4.8"/>
<rect x="555.3" y="222.1" width="4.8" height="4.8"/>
<rect x="626.8" y="204.3" width="4.8" height="4.8"/>
<rect x="564.6" y="195.3" width="4.8" height="4.8"/>
<rect x="589.0" y="142.1" width="4.8" height="4.8"/>
<rect x="621.6" y="216.2" width="4.8" height="4.8"/>
<rect x="564.0" y="214.9" width="4.8" height="4.8"/>
<rect x="563.7" y="201.3" width="4.8" height="4.8"/>
<rect x="580.5" y="214.0" width="4.8" height="4.8"/>
<rect x="610.7" y="169.2" width="4.8" height="4.8"/>
<rect x="570.8" y="173.8" width="4.8" height="4.8"/>
<rect x="569.2" y="147.9" width="4.8" height="4.8"/>
<rect x="575.3" y="223.3" width="4.8" height="4.8"/>
<rect x="585.1" y="231.0" width="4.8" height="4.8"/>
<rect x="563.5" y="187.6" width="4.8" height="4.8"/>
<rect x="589.0" y="203.3" width="4.8" height="4.8"/>
<rect x="634.9" y="203.8" width="4.8" height="4.8"/>
<rect x="636.0" y="191.0" width="4.8" height="4.8"/>
<rect x="620.7" y="125.6" width="4.8" height="4.8"/>
<rect x="549.8" y="194.5" width="4.8" height="4.8"/>
<rect x="587.7" y="206.3" width="4.8" height="4.8"/>
<rect x="571.8" y="165.2" width="4.8" height="4.8"/>
<rect x="625.1" y="196.5" width="4.8" height="4.8"/>
<rect x="593.0" y="210.2" width="4.8" height="4.8"/>
<rect x="590.1" y="173.5" width="4.8" height="4.8"/>
<rect x="592.6" y="228.6" width="4.8" height="4.8"/>
<rect x="612.1" y="190.5" width="4.8" height="4.8"/>
<rect x="614.4" y="222.0" width="4.8" height="4.8"/>
<rect x="623.3" y="156.8" width="4.8" height="4.8"/>
<rect x="589.6" y="219.1" width="4.8" height="4.8"/>
<rect x="551.0" y="208.0" width="4.8" height="4.8"/>
<rect x="614.8" y="141.3" width="4.8" height="4.8"/>
<rect x="625.6" y="158.2" width="4.8" height="4.8"/>
<rect x="588.4" y="67.5" width="4.8" height="4.8"/>
<rect x="624.9" y="69.5" width="4.8" height="4.8"/>
<rect x="612.1" y="73.9" width="4.8" height="4.8"/>
<rect x="616.5" y="74.8" width="4.8" height="4.8"/>
<rect x="619.9" y="79.7" width="4.8" height="4.8"/>
<rect x="611.4" y="80.6" width="4.8" height="4.8"/>
<rect x="581.2" y="86.0" width="4.8" height="4.8"/>
<rect x="581.6" y="88.1" width="4.8" height="4.8"/>
<rect x="600.5" y="86.7" width="4.8" height="4.8"/>
<rect x="601.2" y="91.1" width="4.8" height="4.8"/>
<rect x="612.6" y="88.9" width="4.8" height="4.8"/>
<rect x="616.9" y="90.3" width="4.8" height="4.8"/>
<rect x="626.0" y="91.8" width="4.8" height="4.8"/>
<rect x="626.0" y="97.2" width="4.8" height="4.8"/>
<rect x="573.3" y="97.2" width="4.8" height="4.8"/>
<rect x="585.2" y="96.1" width="4.8" height="4.8"/>
<rect x="589.9" y="98.0" width="4.8" height="4.8"/>
<rect x="585.2" y="101.2" width="4.8" height="4.8"/>
<rect x="607.1" y="96.6" width="4.8" height="4.8"/>
<rect x="603.4" y="99.8" width="4.8" height="4.8"/>
<rect x="578.0" y="103.4" width="4.8" height="4.8"/>
<rect x="620.4" y="102.7" width="4.8" height="4.8"/>
<rect x="610.7" y="104.9" width="4.8" height="4.8"/>
<rect x="584.5" y="105.6" width="4.8" height="4.8"/>
<rect x="567.8" y="113.6" width="4.8" height="4.8"/>
<rect x="571.4" y="111.1" width="4.8" height="4.8"/>
<rect x="576.5" y="111.4" width="4.8" height="4.8"/>
<rect x="580.1" y="112.1" width="4.8" height="4.8"/>
<rect x="588.1" y="112.1" width="4.8" height="4.8"/>
<rect x="598.0" y="112.6" width="4.8" height="4.8"/>
<rect x="602.7" y="111.4" width="4.8" height="4.8"/>
<rect x="615.8" y="108.5" width="4.8" height="4.8"/>
<rect x="613.6" y="112.1" width="4.8" height="4.8"/>
<rect x="622.3" y="112.9" width="4.8" height="4.8"/>
<rect x="578.0" y="116.5" width="4.8" height="4.8"/>
<rect x="570.0" y="120.1" width="4.8" height="4.8"/>
<rect x="585.2" y="121.6" width="4.8" height="4.8"/>
<rect x="592.5" y="126.7" width="4.8" height="4.8"/>
<rect x="596.9" y="120.9" width="4.8" height="4.8"/>
<rect x="601.2" y="121.6" width="4.8" height="4.8"/>
<rect x="605.6" y="117.2" width="4.8" height="4.8"/>
<rect x="607.8" y="116.5" width="4.8" height="4.8"/>
<rect x="612.1" y="120.1" width="4.8" height="4.8"/>
<rect x="616.5" y="120.1" width="4.8" height="4.8"/>
<rect x="622.3" y="118.0" width="4.8" height="4.8"/>
<rect x="626.0" y="119.4" width="4.8" height="4.8"/>
<rect x="567.8" y="131.1" width="4.8" height="4.8"/>
<rect x="572.1" y="131.8" width="4.8" height="4.8"/>
<rect x="576.5" y="126.0" width="4.8" height="4.8"/>
<rect x="581.6" y="126.7" width="4.8" height="4.8"/>
<rect x="583.8" y="128.9" width="4.8" height="4.8"/>
<rect x="566.6" y="128.6" width="4.8" height="4.8"/>
<rect x="588.6" y="118.6" width="4.8" height="4.8"/>
<rect x="592.6" y="115.6" width="4.8" height="4.8"/>
<rect x="623.6" y="107.6" width="4.8" height="4.8"/>
<rect x="608.6" y="108.6" width="4.8" height="4.8"/>
<rect x="515.9" y="189.4" width="4.8" height="4.8"/>
<rect x="537.6" y="181.1" width="4.8" height="4.8"/>
<rect x="665.2" y="183.6" width="4.8" height="4.8"/>
<rect x="669.6" y="195.6" width="4.8" height="4.8"/>
<rect x="663.6" y="220.0" width="4.8" height="4.8"/>
<rect x="657.1" y="214.1" width="4.8" height="4.8"/>
<rect x="659.6" y="210.6" width="4.8" height="4.8"/>
<rect x="654.6" y="188.6" width="4.8" height="4.8"/>
<rect x="652.6" y="217.6" width="4.8" height="4.8"/>
<rect x="649.6" y="191.6" width="4.8" height="4.8"/>
</g>
<line x1="565.1" x2="565.1" y1="23.1" y2="247.2" stroke="#70c470" stroke-width="0.9"/>
<line x1="630.3" x2="630.3" y1="23.1" y2="247.2" stroke="#70c470" stroke-width="0.9"/>
<line x1="516.6" x2="679.2" y1="180.5" y2="180.5" stroke="#70c470" stroke-width="0.9"/>
<polygon points="631.0,129.0 636.0,128.0 643.0,129.0 643.0,150.0 647.0,150.0 647.0,130.0 652.0,131.0 657.0,131.0 657.0,146.0 659.5,148.0 659.5,180.0 631.0,180.0" fill="#ec0000"/>
<g fill="#ec0000">
<rect x="556.7" y="116.2" width="5.2" height="5.2"/>
<rect x="553.1" y="123.8" width="5.2" height="5.2"/>
<rect x="556.8" y="133.7" width="5.2" height="5.2"/>
<rect x="551.7" y="136.2" width="5.2" height="5.2"/>
<rect x="545.0" y="144.4" width="5.2" height="5.2"/>
<rect x="556.8" y="145.4" width="5.2" height="5.2"/>
<rect x="551.0" y="150.0" width="5.2" height="5.2"/>
<rect x="550.6" y="153.4" width="5.2" height="5.2"/>
<rect x="558.7" y="158.6" width="5.2" height="5.2"/>
<rect x="560.2" y="162.0" width="5.2" height="5.2"/>
<rect x="560.5" y="165.6" width="5.2" height="5.2"/>
<rect x="532.4" y="173.8" width="5.2" height="5.2"/>
<rect x="541.4" y="174.1" width="5.2" height="5.2"/>
<rect x="548.7" y="171.0" width="5.2" height="5.2"/>
<rect x="556.9" y="171.4" width="5.2" height="5.2"/>
<rect x="550.4" y="176.4" width="5.2" height="5.2"/>
<rect x="554.4" y="176.6" width="5.2" height="5.2"/>
<rect x="558.4" y="175.4" width="5.2" height="5.2"/>
<rect x="561.4" y="176.4" width="5.2" height="5.2"/>
<rect x="557.4" y="173.9" width="5.2" height="5.2"/>
<rect x="560.9" y="169.4" width="5.2" height="5.2"/>
<rect x="553.4" y="175.9" width="5.2" height="5.2"/>
<rect x="559.4" y="177.4" width="5.2" height="5.2"/>
<rect x="650.8" y="64.7" width="5.2" height="5.2"/>
<rect x="647.9" y="80.1" width="5.2" height="5.2"/>
<rect x="634.2" y="92.5" width="5.2" height="5.2"/>
<rect x="645.6" y="106.1" width="5.2" height="5.2"/>
<rect x="634.6" y="110.1" width="5.2" height="5.2"/>
<rect x="650.9" y="113.8" width="5.2" height="5.2"/>
<rect x="629.7" y="114.7" width="5.2" height="5.2"/>
<rect x="636.9" y="117.9" width="5.2" height="5.2"/>
<rect x="661.5" y="124.7" width="5.2" height="5.2"/>
<rect x="662.4" y="137.4" width="5.2" height="5.2"/>
<rect x="668.4" y="142.5" width="5.2" height="5.2"/>
<rect x="662.9" y="154.7" width="5.2" height="5.2"/>
<rect x="664.2" y="166.5" width="5.2" height="5.2"/>
<rect x="661.5" y="172.5" width="5.2" height="5.2"/>
<rect x="657.4" y="174.4" width="5.2" height="5.2"/>
<rect x="630.9" y="124.9" width="5.2" height="5.2"/>
<rect x="638.4" y="125.4" width="5.2" height="5.2"/>
<rect x="646.9" y="126.4" width="5.2" height="5.2"/>
<rect x="652.4" y="126.9" width="5.2" height="5.2"/>
<rect x="642.4" y="132.4" width="5.2" height="5.2"/>
<rect x="642.4" y="138.4" width="5.2" height="5.2"/>
<rect x="655.4" y="147.4" width="5.2" height="5.2"/>
<rect x="656.4" y="155.4" width="5.2" height="5.2"/>
<rect x="657.4" y="163.4" width="5.2" height="5.2"/>
<rect x="656.4" y="171.4" width="5.2" height="5.2"/>
<rect x="654.4" y="137.4" width="5.2" height="5.2"/>
<rect x="642.4" y="144.4" width="5.2" height="5.2"/>
<rect x="652.4" y="176.4" width="5.2" height="5.2"/>
<rect x="658.4" y="175.4" width="5.2" height="5.2"/>
</g>
<g stroke="#fff" stroke-width="0.9" fill="none" opacity="0.85">
<path d="M634.5,145.6 q3,1.5 6,-1.5"/>
<path d="M646,171.8 l5.5,-1.2"/>
<path d="M644,160 l1,0 M650,155 l1,0 M640,162 l1,0 M652,166 l1,0 M637,137 l1,0"/>
</g>
<rect x="516.6" y="23.1" width="162.6" height="224.1" fill="none" stroke="#555" stroke-width="1"/>
<text x="515" y="239.6" font-family='"Liberation Sans", sans-serif' font-size="5.8" text-anchor="end" fill="#111" stroke="#111" stroke-width="0.12">0</text>
<text x="515" y="195.8" font-family='"Liberation Sans", sans-serif' font-size="5.8" text-anchor="end" fill="#111" stroke="#111" stroke-width="0.12">1</text>
<text x="515" y="152.0" font-family='"Liberation Sans", sans-serif' font-size="5.8" text-anchor="end" fill="#111" stroke="#111" stroke-width="0.12">2</text>
<text x="515" y="108.2" font-family='"Liberation Sans", sans-serif' font-size="5.8" text-anchor="end" fill="#111" stroke="#111" stroke-width="0.12">3</text>
<text x="515" y="64.4" font-family='"Liberation Sans", sans-serif' font-size="5.8" text-anchor="end" fill="#111" stroke="#111" stroke-width="0.12">4</text>
<text x="532.5" y="253.2" font-family='"Liberation Sans", sans-serif' font-size="6" text-anchor="middle" fill="#111" stroke="#111" stroke-width="0.12">-2</text>
<text x="565.1" y="253.2" font-family='"Liberation Sans", sans-serif' font-size="6" text-anchor="middle" fill="#111" stroke="#111" stroke-width="0.12">-1</text>
<text x="597.7" y="253.2" font-family='"Liberation Sans", sans-serif' font-size="6" text-anchor="middle" fill="#111" stroke="#111" stroke-width="0.12">0</text>
<text x="630.3" y="253.2" font-family='"Liberation Sans", sans-serif' font-size="6" text-anchor="middle" fill="#111" stroke="#111" stroke-width="0.12">1</text>
<text x="662.9" y="253.2" font-family='"Liberation Sans", sans-serif' font-size="6" text-anchor="middle" fill="#111" stroke="#111" stroke-width="0.12">2</text>
<text x="597.8" y="261.3" font-family='"Liberation Sans", sans-serif' font-size="5.8" text-anchor="middle" fill="#111" stroke="#111" stroke-width="0.12">log2(Fold Change)</text>
<text x="597.8" y="267.2" font-family='"Liberation Sans", sans-serif' font-size="5.8" text-anchor="middle" fill="#111" stroke="#111" stroke-width="0.12">Cancer vs Adjacent</text>
<text transform="translate(510.2,133.6) rotate(-90)" font-family='"Liberation Sans", sans-serif' font-size="5.6" text-anchor="middle" fill="#111" stroke="#111" stroke-width="0.1">-log10(pvalue)</text>
<g>
<rect x="114.29" y="339.86" width="2.68" height="137.54" fill="#4f81bd"/>
<rect x="116.97" y="445.66" width="2.68" height="31.74" fill="#c0504d"/>
<rect x="119.65" y="308.12" width="2.68" height="169.28" fill="#9bbb59"/>
<rect x="131.87" y="424.50" width="2.68" height="52.90" fill="#4f81bd"/>
<rect x="134.55" y="445.66" width="2.68" height="31.74" fill="#c0504d"/>
<rect x="137.23" y="392.76" width="2.68" height="84.64" fill="#9bbb59"/>
<rect x="149.45" y="350.44" width="2.68" height="126.96" fill="#4f81bd"/>
<rect x="152.13" y="435.08" width="2.68" height="42.32" fill="#c0504d"/>
<rect x="154.81" y="308.12" width="2.68" height="169.28" fill="#9bbb59"/>
<rect x="167.03" y="435.08" width="2.68" height="42.32" fill="#4f81bd"/>
<rect x="172.39" y="435.08" width="2.68" height="42.32" fill="#9bbb59"/>
<rect x="184.61" y="435.08" width="2.68" height="42.32" fill="#4f81bd"/>
<rect x="187.29" y="435.08" width="2.68" height="42.32" fill="#c0504d"/>
<rect x="189.97" y="392.76" width="2.68" height="84.64" fill="#9bbb59"/>
<rect x="202.19" y="445.66" width="2.68" height="31.74" fill="#4f81bd"/>
<rect x="207.55" y="445.66" width="2.68" height="31.74" fill="#9bbb59"/>
<rect x="219.76" y="382.18" width="2.68" height="95.22" fill="#4f81bd"/>
<rect x="225.12" y="382.18" width="2.68" height="95.22" fill="#9bbb59"/>
<rect x="237.34" y="456.24" width="2.68" height="21.16" fill="#4f81bd"/>
<rect x="240.02" y="466.82" width="2.68" height="10.58" fill="#c0504d"/>
<rect x="242.70" y="445.66" width="2.68" height="31.74" fill="#9bbb59"/>
<rect x="254.92" y="339.86" width="2.68" height="137.54" fill="#4f81bd"/>
<rect x="257.60" y="466.82" width="2.68" height="10.58" fill="#c0504d"/>
<rect x="260.28" y="329.28" width="2.68" height="148.12" fill="#9bbb59"/>
<rect x="272.50" y="403.34" width="2.68" height="74.06" fill="#4f81bd"/>
<rect x="275.18" y="466.82" width="2.68" height="10.58" fill="#c0504d"/>
<rect x="277.86" y="392.76" width="2.68" height="84.64" fill="#9bbb59"/>
<rect x="290.08" y="392.76" width="2.68" height="84.64" fill="#4f81bd"/>
<rect x="295.44" y="392.76" width="2.68" height="84.64" fill="#9bbb59"/>
<rect x="307.66" y="371.60" width="2.68" height="105.80" fill="#4f81bd"/>
<rect x="310.34" y="466.82" width="2.68" height="10.58" fill="#c0504d"/>
<rect x="313.02" y="361.02" width="2.68" height="116.38" fill="#9bbb59"/>
<rect x="325.24" y="466.82" width="2.68" height="10.58" fill="#4f81bd"/>
<rect x="330.60" y="466.82" width="2.68" height="10.58" fill="#9bbb59"/>
<rect x="342.82" y="456.24" width="2.68" height="21.16" fill="#4f81bd"/>
<rect x="345.50" y="466.82" width="2.68" height="10.58" fill="#c0504d"/>
<rect x="348.18" y="445.66" width="2.68" height="31.74" fill="#9bbb59"/>
<rect x="360.40" y="424.50" width="2.68" height="52.90" fill="#4f81bd"/>
<rect x="365.76" y="424.50" width="2.68" height="52.90" fill="#9bbb59"/>
<rect x="377.98" y="361.02" width="2.68" height="116.38" fill="#4f81bd"/>
<rect x="383.34" y="361.02" width="2.68" height="116.38" fill="#9bbb59"/>
<rect x="395.56" y="403.34" width="2.68" height="74.06" fill="#4f81bd"/>
<rect x="398.24" y="466.82" width="2.68" height="10.58" fill="#c0504d"/>
<rect x="400.92" y="392.76" width="2.68" height="84.64" fill="#9bbb59"/>
<rect x="413.14" y="466.82" width="2.68" height="10.58" fill="#4f81bd"/>
<rect x="415.82" y="466.82" width="2.68" height="10.58" fill="#c0504d"/>
<rect x="418.50" y="456.24" width="2.68" height="21.16" fill="#9bbb59"/>
<rect x="430.71" y="329.28" width="2.68" height="148.12" fill="#4f81bd"/>
<rect x="436.07" y="329.28" width="2.68" height="148.12" fill="#9bbb59"/>
<rect x="448.29" y="456.24" width="2.68" height="21.16" fill="#4f81bd"/>
<rect x="450.97" y="466.82" width="2.68" height="10.58" fill="#c0504d"/>
<rect x="453.65" y="445.66" width="2.68" height="31.74" fill="#9bbb59"/>
<rect x="465.87" y="456.24" width="2.68" height="21.16" fill="#4f81bd"/>
<rect x="471.23" y="456.24" width="2.68" height="21.16" fill="#9bbb59"/>
<rect x="483.45" y="413.92" width="2.68" height="63.48" fill="#4f81bd"/>
<rect x="488.81" y="413.92" width="2.68" height="63.48" fill="#9bbb59"/>
<rect x="501.03" y="424.50" width="2.68" height="52.90" fill="#4f81bd"/>
<rect x="503.71" y="466.82" width="2.68" height="10.58" fill="#c0504d"/>
<rect x="506.39" y="413.92" width="2.68" height="63.48" fill="#9bbb59"/>
<rect x="518.61" y="466.82" width="2.68" height="10.58" fill="#4f81bd"/>
<rect x="523.97" y="466.82" width="2.68" height="10.58" fill="#9bbb59"/>
</g>
<line x1="109.6" x2="109.6" y1="286.7" y2="477.4" stroke="#878787" stroke-width="1"/>
<line x1="109.6" x2="531.5" y1="477.4" y2="477.4" stroke="#878787" stroke-width="1"/>
<line x1="106.1" x2="109.6" y1="477.4" y2="477.4" stroke="#878787" stroke-width="1"/>
<text x="98" y="481.2" font-family='"Liberation Sans", sans-serif' font-size="10.6" text-anchor="end" fill="#111">0</text>
<line x1="106.1" x2="109.6" y1="456.2" y2="456.2" stroke="#878787" stroke-width="1"/>
<text x="98" y="460.0" font-family='"Liberation Sans", sans-serif' font-size="10.6" text-anchor="end" fill="#111">2</text>
<line x1="106.1" x2="109.6" y1="435.1" y2="435.1" stroke="#878787" stroke-width="1"/>
<text x="98" y="438.9" font-family='"Liberation Sans", sans-serif' font-size="10.6" text-anchor="end" fill="#111">4</text>
<line x1="106.1" x2="109.6" y1="413.9" y2="413.9" stroke="#878787" stroke-width="1"/>
<text x="98" y="417.7" font-family='"Liberation Sans", sans-serif' font-size="10.6" text-anchor="end" fill="#111">6</text>
<line x1="106.1" x2="109.6" y1="392.8" y2="392.8" stroke="#878787" stroke-width="1"/>
<text x="98" y="396.6" font-family='"Liberation Sans", sans-serif' font-size="10.6" text-anchor="end" fill="#111">8</text>
<line x1="106.1" x2="109.6" y1="371.6" y2="371.6" stroke="#878787" stroke-width="1"/>
<text x="98" y="375.4" font-family='"Liberation Sans", sans-serif' font-size="10.6" text-anchor="end" fill="#111">10</text>
<line x1="106.1" x2="109.6" y1="350.4" y2="350.4" stroke="#878787" stroke-width="1"/>
<text x="98" y="354.2" font-family='"Liberation Sans", sans-serif' font-size="10.6" text-anchor="end" fill="#111">12</text>
<line x1="106.1" x2="109.6" y1="329.3" y2="329.3" stroke="#878787" stroke-width="1"/>
<text x="98" y="333.1" font-family='"Liberation Sans", sans-serif' font-size="10.6" text-anchor="end" fill="#111">14</text>
<line x1="106.1" x2="109.6" y1="308.1" y2="308.1" stroke="#878787" stroke-width="1"/>
<text x="98" y="311.9" font-family='"Liberation Sans", sans-serif' font-size="10.6" text-anchor="end" fill="#111">16</text>
<line x1="106.1" x2="109.6" y1="287.0" y2="287.0" stroke="#878787" stroke-width="1"/>
<text x="98" y="290.8" font-family='"Liberation Sans", sans-serif' font-size="10.6" text-anchor="end" fill="#111">18</text>
<text transform="translate(124.0,492.6) rotate(-90)" font-family='"Liberation Serif", serif' font-size="11.6" text-anchor="end" fill="#111" stroke="#111" stroke-width="0.2">chr1</text>
<text transform="translate(141.6,492.6) rotate(-90)" font-family='"Liberation Serif", serif' font-size="11.6" text-anchor="end" fill="#111" stroke="#111" stroke-width="0.2">chr2</text>
<text transform="translate(159.1,492.6) rotate(-90)" font-family='"Liberation Serif", serif' font-size="11.6" text-anchor="end" fill="#111" stroke="#111" stroke-width="0.2">chr3</text>
<text transform="translate(176.7,492.6) rotate(-90)" font-family='"Liberation Serif", serif' font-size="11.6" text-anchor="end" fill="#111" stroke="#111" stroke-width="0.2">chr4</text>
<text transform="translate(194.3,492.6) rotate(-90)" font-family='"Liberation Serif", serif' font-size="11.6" text-anchor="end" fill="#111" stroke="#111" stroke-width="0.2">chr5</text>
<text transform="translate(211.9,492.6) rotate(-90)" font-family='"Liberation Serif", serif' font-size="11.6" text-anchor="end" fill="#111" stroke="#111" stroke-width="0.2">chr6</text>
<text transform="translate(229.5,492.6) rotate(-90)" font-family='"Liberation Serif", serif' font-size="11.6" text-anchor="end" fill="#111" stroke="#111" stroke-width="0.2">chr7</text>
<text transform="translate(247.0,492.6) rotate(-90)" font-family='"Liberation Serif", serif' font-size="11.6" text-anchor="end" fill="#111" stroke="#111" stroke-width="0.2">chr8</text>
<text transform="translate(264.6,492.6) rotate(-90)" font-family='"Liberation Serif", serif' font-size="11.6" text-anchor="end" fill="#111" stroke="#111" stroke-width="0.2">chr9</text>
<text transform="translate(282.2,492.6) rotate(-90)" font-family='"Liberation Serif", serif' font-size="11.6" text-anchor="end" fill="#111" stroke="#111" stroke-width="0.2">chr10</text>
<text transform="translate(299.8,492.6) rotate(-90)" font-family='"Liberation Serif", serif' font-size="11.6" text-anchor="end" fill="#111" stroke="#111" stroke-width="0.2">chr11</text>
<text transform="translate(317.4,492.6) rotate(-90)" font-family='"Liberation Serif", serif' font-size="11.6" text-anchor="end" fill="#111" stroke="#111" stroke-width="0.2">chr12</text>
<text transform="translate(334.9,492.6) rotate(-90)" font-family='"Liberation Serif", serif' font-size="11.6" text-anchor="end" fill="#111" stroke="#111" stroke-width="0.2">chr13</text>
<text transform="translate(352.5,492.6) rotate(-90)" font-family='"Liberation Serif", serif' font-size="11.6" text-anchor="end" fill="#111" stroke="#111" stroke-width="0.2">chr14</text>
<text transform="translate(370.1,492.6) rotate(-90)" font-family='"Liberation Serif", serif' font-size="11.6" text-anchor="end" fill="#111" stroke="#111" stroke-width="0.2">chr15</text>
<text transform="translate(387.7,492.6) rotate(-90)" font-family='"Liberation Serif", serif' font-size="11.6" text-anchor="end" fill="#111" stroke="#111" stroke-width="0.2">chr16</text>
<text transform="translate(405.3,492.6) rotate(-90)" font-family='"Liberation Serif", serif' font-size="11.6" text-anchor="end" fill="#111" stroke="#111" stroke-width="0.2">chr17</text>
<text transform="translate(422.8,492.6) rotate(-90)" font-family='"Liberation Serif", serif' font-size="11.6" text-anchor="end" fill="#111" stroke="#111" stroke-width="0.2">chr18</text>
<text transform="translate(440.4,492.6) rotate(-90)" font-family='"Liberation Serif", serif' font-size="11.6" text-anchor="end" fill="#111" stroke="#111" stroke-width="0.2">chr19</text>
<text transform="translate(458.0,492.6) rotate(-90)" font-family='"Liberation Serif", serif' font-size="11.6" text-anchor="end" fill="#111" stroke="#111" stroke-width="0.2">chr20</text>
<text transform="translate(475.6,492.6) rotate(-90)" font-family='"Liberation Serif", serif' font-size="11.6" text-anchor="end" fill="#111" stroke="#111" stroke-width="0.2">chr21</text>
<text transform="translate(493.2,492.6) rotate(-90)" font-family='"Liberation Serif", serif' font-size="11.6" text-anchor="end" fill="#111" stroke="#111" stroke-width="0.2">chr22</text>
<text transform="translate(510.7,492.6) rotate(-90)" font-family='"Liberation Serif", serif' font-size="11.6" text-anchor="end" fill="#111" stroke="#111" stroke-width="0.2">chrX</text>
<text transform="translate(528.3,492.6) rotate(-90)" font-family='"Liberation Serif", serif' font-size="11.6" text-anchor="end" fill="#111" stroke="#111" stroke-width="0.2">chrY</text>
<text transform="translate(76.6,383) rotate(-90)" font-family='"Liberation Serif", serif' font-size="14.5" font-weight="bold" text-anchor="middle" fill="#111">Count</text>
<text transform="translate(319.5,544) scale(1,1.15)" font-family='"Liberation Serif", serif' font-size="13.4" font-weight="bold" text-anchor="middle" fill="#111">NO. of chromosomal</text>
<rect x="550.8" y="392.9" width="4.8" height="4.8" fill="#4f81bd"/>
<text x="559" y="399.2" font-family='"Liberation Serif", serif' font-size="11.6" fill="#111" stroke="#111" stroke-width="0.15">Up-regulated circRNAs</text>
<rect x="550.8" y="415.4" width="4.8" height="4.8" fill="#c0504d"/>
<text x="559" y="421.6" font-family='"Liberation Serif", serif' font-size="11.6" fill="#111" stroke="#111" stroke-width="0.15">Down-regulated circRNAs</text>
<rect x="550.8" y="437.8" width="4.8" height="4.8" fill="#9bbb59"/>
<text x="559" y="444.1" font-family='"Liberation Serif", serif' font-size="11.6" fill="#111" stroke="#111" stroke-width="0.15">Total circRNAs</text>
</svg></body></html>
